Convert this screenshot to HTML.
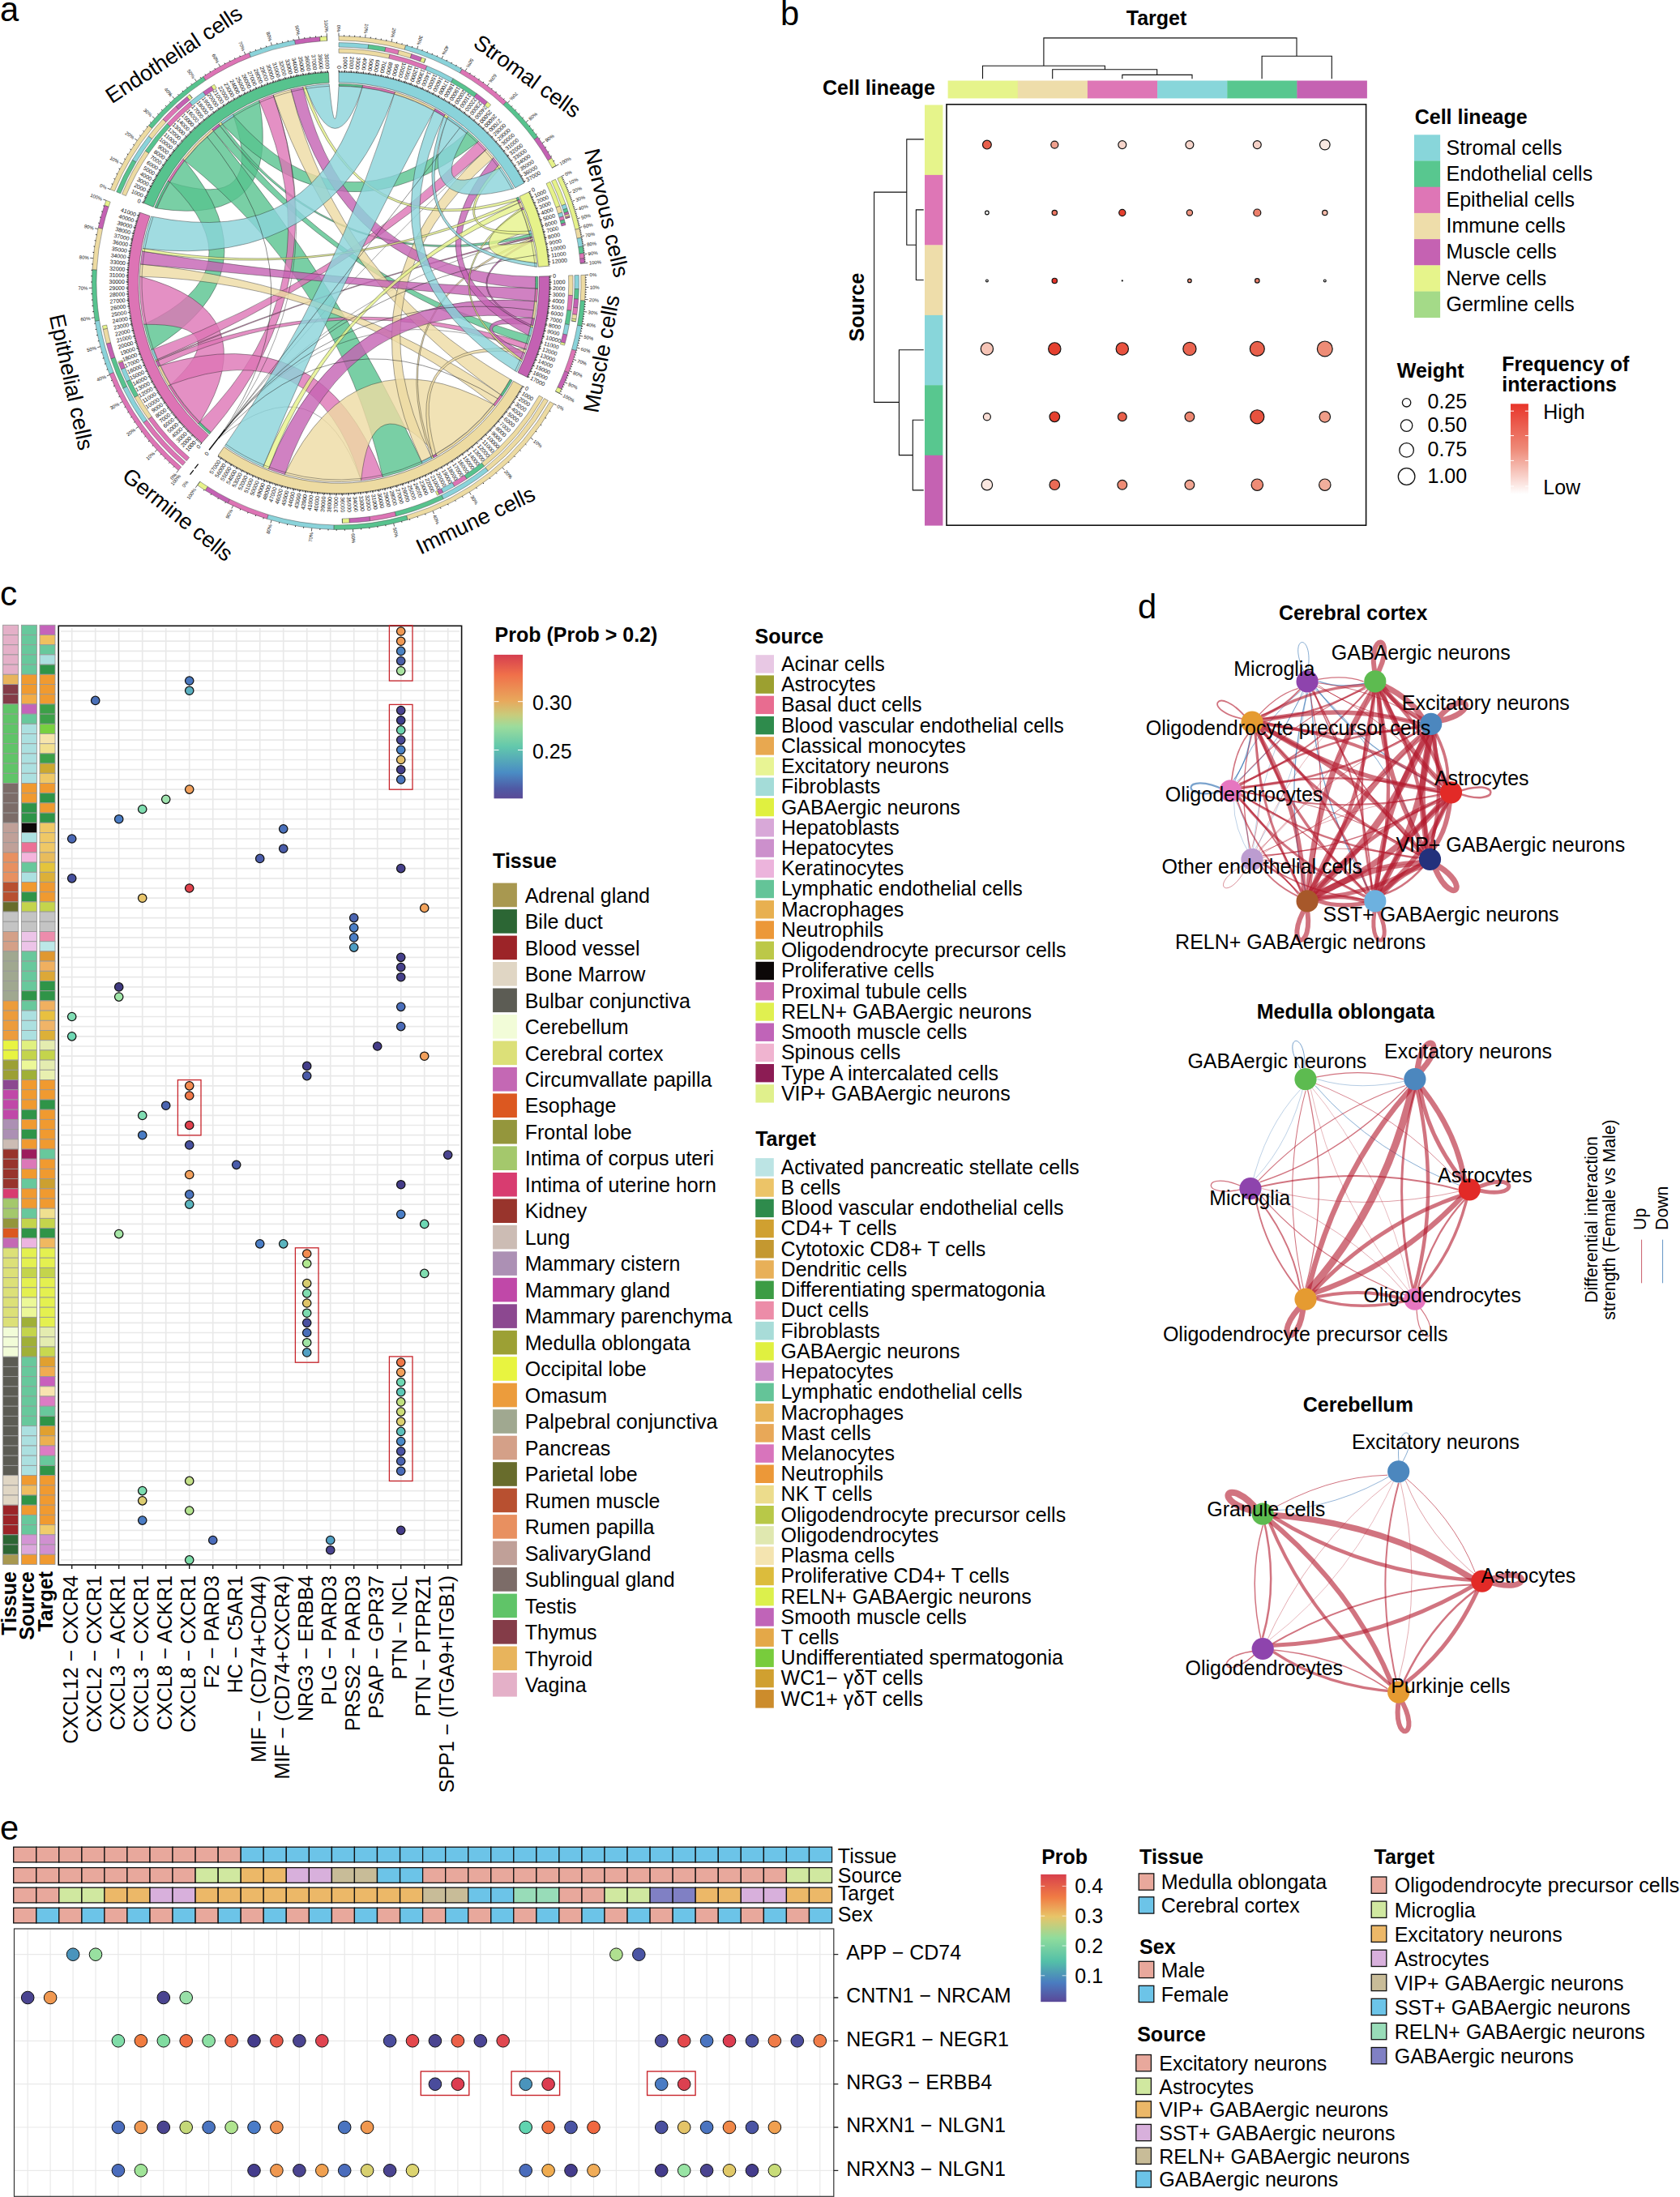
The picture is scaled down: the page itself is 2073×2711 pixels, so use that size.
<!DOCTYPE html>
<html><head><meta charset="utf-8"><title>Figure</title>
<style>html,body{margin:0;padding:0;background:#fff}svg{display:block;font-family:"Liberation Sans",sans-serif;font-size:25px}</style>
</head><body>
<svg width="2073" height="2711" viewBox="0 0 2073 2711">
<rect width="2073" height="2711" fill="#fff"/>
<g id="a">
<g fill-opacity="0.8" stroke="#222" stroke-width="0.55" stroke-opacity="0.75"><path d="M193.5 257.1A242.6 242.6 0 0 1 209.6 224.8Q329.9 262.9 287.4 141A245.6 245.6 0 0 1 319.8 123.9Q348.7 281.3 193.5 257.1Z" fill="#57C38E"/><path d="M209.6 224.8A242.6 242.6 0 0 1 227.9 198.3Q343.5 336.7 186.7 431.7A245.6 245.6 0 0 1 177.8 400.3Q320.3 332.9 209.6 224.8Z" fill="#57C38E"/><path d="M227.9 198.3A242.6 242.6 0 0 1 263.6 161.8Q418 349 521.2 571.9A245.6 245.6 0 0 1 472.3 588.5Q418 349 227.9 198.3Z" fill="#57C38E"/><path d="M263.6 161.8A242.6 242.6 0 0 1 271.7 155.5Q418 349 654.7 414.5A245.6 245.6 0 0 1 651.7 424.5Q418 349 263.6 161.8Z" fill="#57C38E"/><path d="M271.7 155.5A242.6 242.6 0 0 1 274.5 153.4Q418 349 656 288.3A245.6 245.6 0 0 1 656.8 291.8Q418 349 271.7 155.5Z" fill="#57C38E"/><path d="M274.5 153.4A242.6 242.6 0 0 1 289 143.5Q421.9 296.1 577.5 162.3A245.6 245.6 0 0 1 590.6 174.3Q420.9 308.8 274.5 153.4Z" fill="#57C38E"/><path d="M260.4 533.4A242.6 242.6 0 0 1 246.7 520.8Q418 349 319.8 123.9A245.6 245.6 0 0 1 337.2 117.1Q418 349 260.4 533.4Z" fill="#DD74B5"/><path d="M246.7 520.8A242.6 242.6 0 0 1 210.5 474.7Q292.1 398.9 177.8 400.3A245.6 245.6 0 0 1 172.5 341.1Q331.9 383.1 246.7 520.8Z" fill="#DD74B5"/><path d="M210.5 474.7A242.6 242.6 0 0 1 198 451.1Q398.2 389.4 472.3 588.5A245.6 245.6 0 0 1 445.7 593Q389.6 406.8 210.5 474.7Z" fill="#DD74B5"/><path d="M198 451.1A242.6 242.6 0 0 1 195.1 444.7Q418 349 651.7 424.5A245.6 245.6 0 0 1 649.4 431.2Q418 349 198 451.1Z" fill="#DD74B5"/><path d="M195.1 444.7A242.6 242.6 0 0 1 194.5 443.4Q418 349 656.8 291.8A245.6 245.6 0 0 1 657.2 293.2Q418 349 195.1 444.7Z" fill="#DD74B5"/><path d="M194.5 443.4A242.6 242.6 0 0 1 189.6 430.7Q418 349 590.6 174.3A245.6 245.6 0 0 1 600.2 184.3Q418 349 194.5 443.4Z" fill="#DD74B5"/><path d="M269.6 540.9Q418 349 337.3 117" fill="none" stroke="#111" stroke-width="0.5"/><path d="M269.6 540.9Q391.9 442.3 445.7 593" fill="none" stroke="#111" stroke-width="0.5"/><path d="M269.5 540.9Q418 349 649.4 431.2" fill="none" stroke="#111" stroke-width="0.5"/><path d="M269.5 540.8Q418 349 657.2 293.2" fill="none" stroke="#111" stroke-width="0.5"/><path d="M269.4 540.8Q418 349 600.2 184.3" fill="none" stroke="#111" stroke-width="0.5"/><path d="M629.5 467.9A242.6 242.6 0 0 1 617.6 487Q418 349 337.3 117A245.6 245.6 0 0 1 359.1 110.6Q418 349 629.5 467.9Z" fill="#EDDBA2"/><path d="M617.6 487A242.6 242.6 0 0 1 608.7 499Q418 349 172.5 341.1A245.6 245.6 0 0 1 173.5 326Q418 349 617.6 487Z" fill="#EDDBA2"/><path d="M608.7 499A242.6 242.6 0 0 1 537.8 560Q458 472 445.6 593A245.6 245.6 0 0 1 351.3 585.4Q436.8 406.9 608.7 499Z" fill="#EDDBA2"/><path d="M537.8 560A242.6 242.6 0 0 1 533.8 562.2Q494.3 414.2 649.4 431.3A245.6 245.6 0 0 1 647.8 435.7Q496.8 416.4 537.8 560Z" fill="#EDDBA2"/><path d="M533.8 562.2A242.6 242.6 0 0 1 531.9 563.2Q462.8 369.4 657.2 293.2A245.6 245.6 0 0 1 657.7 295.3Q464.2 370 533.8 562.2Z" fill="#EDDBA2"/><path d="M531.9 563.2A242.6 242.6 0 0 1 520 569.1Q418 349 600.2 184.4A245.6 245.6 0 0 1 609 194.6Q427.3 350.9 531.9 563.2Z" fill="#EDDBA2"/><path d="M660.5 341.3A242.6 242.6 0 0 1 660.5 356Q419.5 347.1 359.1 110.6A245.6 245.6 0 0 1 373.7 107.4Q426.2 338.8 660.5 341.3Z" fill="#C461B3"/><path d="M660.5 356A242.6 242.6 0 0 1 659.5 371.8Q418 349 173.5 326A245.6 245.6 0 0 1 175.5 310.1Q418 349 660.5 356Z" fill="#C461B3"/><path d="M659.5 371.8A242.6 242.6 0 0 1 656.7 392.4Q427.5 364.2 351.3 585.4A245.6 245.6 0 0 1 331.3 578.8Q419.5 351.3 659.5 371.8Z" fill="#C461B3"/><path d="M656.7 392.4A242.6 242.6 0 0 1 655 401Q563.9 392.3 647.8 435.7A245.6 245.6 0 0 1 644.5 443.9Q557.8 390.5 656.7 392.4Z" fill="#C461B3"/><path d="M655 401A242.6 242.6 0 0 1 654.5 403.3Q543.6 349.3 657.7 295.3A245.6 245.6 0 0 1 658.2 297.6Q545.3 349.3 655 401Z" fill="#C461B3"/><path d="M654.5 403.3A242.6 242.6 0 0 1 651.8 413.7Q497.4 332.5 609 194.6A245.6 245.6 0 0 1 615.7 203.3Q505.1 330.9 654.5 403.3Z" fill="#C461B3"/><path d="M636.9 244.4A242.6 242.6 0 0 1 638.3 247.4Q440.3 306 373.7 107.4A245.6 245.6 0 0 1 377.1 106.8Q441.4 303.8 636.9 244.4Z" fill="#E6F28A"/><path d="M638.3 247.4A242.6 242.6 0 0 1 639.8 250.7Q418 349 175.5 310.1A245.6 245.6 0 0 1 176.1 306.5Q418 349 638.3 247.4Z" fill="#E6F28A"/><path d="M639.8 250.7A242.6 242.6 0 0 1 642.6 257.2Q418 349 331.3 578.8A245.6 245.6 0 0 1 324.6 576.2Q418 349 639.8 250.7Z" fill="#E6F28A"/><path d="M642.6 257.2A242.6 242.6 0 0 1 643.4 259.3Q514.5 349.9 644.5 443.9A245.6 245.6 0 0 1 643.6 446.1Q512.8 349.9 642.6 257.2Z" fill="#E6F28A"/><path d="M643.4 259.3A242.6 242.6 0 0 1 652 285.1Q573.5 311.2 658.2 297.6A245.6 245.6 0 0 1 662.4 324.8Q554.3 315.8 643.4 259.3Z" fill="#E6F28A"/><path d="M652 285.1A242.6 242.6 0 0 1 653.1 289.1Q536.3 292.9 615.7 203.3A245.6 245.6 0 0 1 618.1 206.6Q539 291.7 652 285.1Z" fill="#E6F28A"/><path d="M418 106.4A242.6 242.6 0 0 1 446.9 108.1Q414.6 209.4 377.1 106.8A245.6 245.6 0 0 1 406.2 103.7Q414.1 188.3 418 106.4Z" fill="#8AD3DA"/><path d="M446.9 108.1A242.6 242.6 0 0 1 486.4 116.2Q409.3 335 176.1 306.5A245.6 245.6 0 0 1 186.5 267Q393.8 310.1 446.9 108.1Z" fill="#8AD3DA"/><path d="M486.4 116.2A242.6 242.6 0 0 1 535.6 136.8Q418 349 324.6 576.2A245.6 245.6 0 0 1 277.3 550.3Q418 349 486.4 116.2Z" fill="#8AD3DA"/><path d="M535.6 136.8A242.6 242.6 0 0 1 547.6 143.9Q456.4 337.1 643.6 446.1A245.6 245.6 0 0 1 637.6 459Q446.6 340.1 535.6 136.8Z" fill="#8AD3DA"/><path d="M547.6 143.9A242.6 242.6 0 0 1 551.5 146.4Q492 304.3 662.4 324.8A245.6 245.6 0 0 1 662.8 329.4Q489.2 306 547.6 143.9Z" fill="#8AD3DA"/><path d="M551.5 146.4A242.6 242.6 0 0 1 575.6 164.5Q523.7 252.3 618.1 206.6A245.6 245.6 0 0 1 634.2 232.6Q507.5 267.1 551.5 146.4Z" fill="#8AD3DA"/></g>
<g fill="none" stroke="#222" stroke-width="0.5"><path d="M269.5 540.9Q407.5 349.4 253.7 166.5"/><path d="M269.5 540.9Q418 349 569.2 155.5"/><path d="M269.5 540.9Q418 349 661.2 314.8"/><path d="M269.5 540.9Q418 349 661.2 383.2"/><path d="M269.5 540.9Q421.3 372.4 616.7 493.4"/></g>
<g stroke="#222" stroke-width="0.45"><path d="M553.1 143.9A245.6 245.6 0 0 1 577.5 162.3L575.8 164.2A243 243 0 0 0 551.7 146.1Z" fill="#8AD3DA"/><path d="M549.2 141.4A245.6 245.6 0 0 1 553.1 143.9L551.7 146.1A243 243 0 0 0 547.8 143.6Z" fill="#E6F28A"/><path d="M537 134.2A245.6 245.6 0 0 1 549.2 141.4L547.8 143.6A243 243 0 0 0 535.7 136.4Z" fill="#C461B3"/><path d="M487.3 113.4A245.6 245.6 0 0 1 537 134.2L535.7 136.4A243 243 0 0 0 486.5 115.9Z" fill="#EDDBA2"/><path d="M447.3 105.2A245.6 245.6 0 0 1 487.3 113.4L486.5 115.9A243 243 0 0 0 447 107.7Z" fill="#DD74B5"/><path d="M418 103.4A245.6 245.6 0 0 1 447.3 105.2L447 107.7A243 243 0 0 0 418 106Z" fill="#57C38E"/><path d="M654.9 284.3A245.6 245.6 0 0 1 656 288.3L653.5 289A243 243 0 0 0 652.4 285Z" fill="#8AD3DA"/><path d="M646.2 258.2A245.6 245.6 0 0 1 654.9 284.3L652.4 285A243 243 0 0 0 643.8 259.2Z" fill="#E6F28A"/><path d="M645.3 256.1A245.6 245.6 0 0 1 646.2 258.2L643.8 259.2A243 243 0 0 0 642.9 257Z" fill="#C461B3"/><path d="M642.6 249.5A245.6 245.6 0 0 1 645.3 256.1L642.9 257A243 243 0 0 0 640.2 250.6Z" fill="#EDDBA2"/><path d="M641 246.2A245.6 245.6 0 0 1 642.6 249.5L640.2 250.6A243 243 0 0 0 638.7 247.2Z" fill="#DD74B5"/><path d="M639.6 243.1A245.6 245.6 0 0 1 641 246.2L638.7 247.2A243 243 0 0 0 637.2 244.2Z" fill="#57C38E"/><path d="M657.4 403.9A245.6 245.6 0 0 1 654.7 414.5L652.2 413.9A243 243 0 0 0 654.8 403.4Z" fill="#8AD3DA"/><path d="M657.9 401.7A245.6 245.6 0 0 1 657.4 403.9L654.8 403.4A243 243 0 0 0 655.4 401.1Z" fill="#E6F28A"/><path d="M659.6 392.9A245.6 245.6 0 0 1 657.9 401.7L655.4 401.1A243 243 0 0 0 657.1 392.5Z" fill="#C461B3"/><path d="M662.5 372A245.6 245.6 0 0 1 659.6 392.9L657.1 392.5A243 243 0 0 0 659.9 371.8Z" fill="#EDDBA2"/><path d="M663.5 356.1A245.6 245.6 0 0 1 662.5 372L659.9 371.8A243 243 0 0 0 660.9 356Z" fill="#DD74B5"/><path d="M663.5 341.2A245.6 245.6 0 0 1 663.5 356.1L660.9 356A243 243 0 0 0 660.9 341.2Z" fill="#57C38E"/><path d="M533.3 565.8A245.6 245.6 0 0 1 521.2 571.9L520.1 569.5A243 243 0 0 0 532.1 563.6Z" fill="#8AD3DA"/><path d="M535.2 564.8A245.6 245.6 0 0 1 533.3 565.8L532.1 563.6A243 243 0 0 0 533.9 562.6Z" fill="#E6F28A"/><path d="M539.3 562.6A245.6 245.6 0 0 1 535.2 564.8L533.9 562.6A243 243 0 0 0 538 560.3Z" fill="#C461B3"/><path d="M611 500.8A245.6 245.6 0 0 1 539.3 562.6L538 560.3A243 243 0 0 0 609 499.2Z" fill="#EDDBA2"/><path d="M620 488.7A245.6 245.6 0 0 1 611 500.8L609 499.2A243 243 0 0 0 617.9 487.2Z" fill="#DD74B5"/><path d="M632.1 469.4A245.6 245.6 0 0 1 620 488.7L617.9 487.2A243 243 0 0 0 629.8 468.1Z" fill="#57C38E"/><path d="M191.8 444.6A245.6 245.6 0 0 1 186.7 431.7L189.2 430.8A243 243 0 0 0 194.2 443.6Z" fill="#8AD3DA"/><path d="M192.3 445.9A245.6 245.6 0 0 1 191.8 444.6L194.2 443.6A243 243 0 0 0 194.7 444.9Z" fill="#E6F28A"/><path d="M195.2 452.4A245.6 245.6 0 0 1 192.3 445.9L194.7 444.9A243 243 0 0 0 197.6 451.3Z" fill="#C461B3"/><path d="M207.9 476.2A245.6 245.6 0 0 1 195.2 452.4L197.6 451.3A243 243 0 0 0 210.1 474.9Z" fill="#EDDBA2"/><path d="M244.6 523A245.6 245.6 0 0 1 207.9 476.2L210.1 474.9A243 243 0 0 0 246.5 521.1Z" fill="#DD74B5"/><path d="M258.4 535.7A245.6 245.6 0 0 1 244.6 523L246.5 521.1A243 243 0 0 0 260.1 533.7Z" fill="#57C38E"/><path d="M272.7 151A245.6 245.6 0 0 1 287.4 141L288.8 143.2A243 243 0 0 0 274.3 153.1Z" fill="#8AD3DA"/><path d="M269.9 153.1A245.6 245.6 0 0 1 272.7 151L274.3 153.1A243 243 0 0 0 271.4 155.2Z" fill="#E6F28A"/><path d="M261.7 159.5A245.6 245.6 0 0 1 269.9 153.1L271.4 155.2A243 243 0 0 0 263.4 161.5Z" fill="#C461B3"/><path d="M225.6 196.4A245.6 245.6 0 0 1 261.7 159.5L263.4 161.5A243 243 0 0 0 227.6 198Z" fill="#EDDBA2"/><path d="M207 223.3A245.6 245.6 0 0 1 225.6 196.4L227.6 198A243 243 0 0 0 209.3 224.6Z" fill="#DD74B5"/><path d="M190.7 256A245.6 245.6 0 0 1 207 223.3L209.3 224.6A243 243 0 0 0 193.1 257Z" fill="#57C38E"/></g>
<path d="M616 208.1A243 243 0 0 1 632 233.8M659.8 325A243 243 0 0 1 660.2 329.6M641.2 445.1A243 243 0 0 1 635.3 457.8M325.6 573.8A243 243 0 0 1 278.8 548.2M178.7 306.9A243 243 0 0 1 188.9 267.9M377.5 109.4A243 243 0 0 1 406.3 106.3M613.6 204.8A243 243 0 0 1 616 208.1M655.6 298.1A243 243 0 0 1 659.8 325M642.1 442.9A243 243 0 0 1 641.2 445.1M332.2 576.3A243 243 0 0 1 325.6 573.8M178.1 310.5A243 243 0 0 1 178.7 306.9M374.2 110A243 243 0 0 1 377.5 109.4M607 196.3A243 243 0 0 1 613.6 204.8M655.1 295.9A243 243 0 0 1 655.6 298.1M645.4 434.8A243 243 0 0 1 642.1 442.9M352 582.9A243 243 0 0 1 332.2 576.3M176.1 326.2A243 243 0 0 1 178.1 310.5M359.7 113.1A243 243 0 0 1 374.2 110M598.3 186.1A243 243 0 0 1 607 196.3M654.6 293.8A243 243 0 0 1 655.1 295.9M647 430.4A243 243 0 0 1 645.4 434.8M445.3 590.5A243 243 0 0 1 352 582.9M175.1 341.2A243 243 0 0 1 176.1 326.2M338.2 119.5A243 243 0 0 1 359.7 113.1M588.8 176.1A243 243 0 0 1 598.3 186M654.3 292.4A243 243 0 0 1 654.6 293.8M649.2 423.7A243 243 0 0 1 647 430.3M471.8 586A243 243 0 0 1 445.4 590.4M180.4 399.7A243 243 0 0 1 175.1 341.2M320.8 126.3A243 243 0 0 1 338.1 119.5M575.8 164.2A243 243 0 0 1 588.8 176.1M653.5 289A243 243 0 0 1 654.3 292.4M652.2 413.9A243 243 0 0 1 649.2 423.7M520.1 569.5A243 243 0 0 1 471.8 586M189.2 430.8A243 243 0 0 1 180.4 399.7M288.8 143.2A243 243 0 0 1 320.8 126.3" fill="none" stroke="#222" stroke-width="0.5" stroke-opacity="0.8"/>
<g stroke="#333" stroke-width="0.5"><path d="M418 89A260 260 0 0 1 646.9 225.7L635.7 231.8A247.2 247.2 0 0 0 418 101.8Z" fill="#8AD3DA"/><path d="M652.6 236.9A260 260 0 0 1 677.2 328.2L664.4 329.3A247.2 247.2 0 0 0 641 242.4Z" fill="#E6F28A"/><path d="M677.9 340.7A260 260 0 0 1 650.5 465.4L639 459.7A247.2 247.2 0 0 0 665.1 341.1Z" fill="#C461B3"/><path d="M644.6 476.4A260 260 0 0 1 269.1 562.1L276.4 551.6A247.2 247.2 0 0 0 633.5 470.2Z" fill="#EDDBA2"/><path d="M277.5 530.1L258 555.2" stroke="#111" stroke-width="1.5"/><path d="M249 546.6A260 260 0 0 1 172.9 262.2L185 266.5A247.2 247.2 0 0 0 257.4 536.9Z" fill="#DD74B5"/><path d="M177.4 250.5A260 260 0 0 1 405.5 89.3L406.1 102.1A247.2 247.2 0 0 0 189.2 255.4Z" fill="#57C38E"/></g>
<g fill="none" stroke="#111" stroke-width="1.7"><path d="M418 88.3A260.7 260.7 0 0 1 647.5 225.4" stroke-dasharray="0.7 0.81"/><path d="M653.2 236.6A260.7 260.7 0 0 1 677.9 328.2" stroke-dasharray="0.7 0.81"/><path d="M678.6 340.7A260.7 260.7 0 0 1 651.1 465.7" stroke-dasharray="0.7 0.81"/><path d="M645.2 476.8A260.7 260.7 0 0 1 268.7 562.7" stroke-dasharray="0.7 0.81"/><path d="M248.6 547.2A260.7 260.7 0 0 1 172.3 262" stroke-dasharray="0.7 0.81"/><path d="M176.7 250.3A260.7 260.7 0 0 1 405.5 88.6" stroke-dasharray="0.7 0.81"/></g>
<path d="M418 89L418 86.2M425.5 89.1L425.6 86.3M433 89.4L433.2 86.6M440.5 90L440.8 87.2M448 90.7L448.4 88M455.5 91.7L455.9 88.9M462.9 92.9L463.4 90.2M470.3 94.3L470.9 91.6M477.7 95.9L478.3 93.2M485 97.8L485.7 95.1M492.2 99.8L493 97.1M499.4 102.1L500.2 99.4M506.5 104.5L507.4 101.9M513.5 107.2L514.5 104.6M520.5 110L521.6 107.5M527.3 113.1L528.5 110.6M534.1 116.4L535.4 113.9M540.8 119.8L542.1 117.4M547.4 123.5L548.8 121.1M553.9 127.3L555.3 124.9M560.2 131.3L561.7 129M566.5 135.5L568.1 133.3M572.6 139.9L574.2 137.7M578.6 144.5L580.3 142.3M584.4 149.2L586.2 147.1M590.1 154.1L592 152M595.7 159.2L597.6 157.1M601.1 164.4L603.1 162.4M606.4 169.8L608.4 167.9M611.5 175.3L613.6 173.4M616.4 181L618.6 179.2M621.2 186.8L623.4 185M625.8 192.7L628 191.1M630.2 198.8L632.5 197.2M634.5 205L636.8 203.5M638.6 211.3L640.9 209.9M642.5 217.8L644.9 216.4M646.2 224.3L648.6 223M652.6 236.9L655.1 235.7M655.7 243.7L658.3 242.6M658.7 250.6L661.3 249.6M661.4 257.6L664 256.6M664 264.7L666.6 263.8M666.3 271.9L669 271M668.4 279.1L671.1 278.3M670.3 286.3L673.1 285.7M672 293.7L674.8 293.1M673.5 301L676.3 300.5M674.8 308.5L677.6 308M675.9 315.9L678.7 315.5M676.7 323.4L679.5 323.1M677.9 340.7L680.7 340.6M678 348.2L680.8 348.2M677.9 355.7L680.7 355.8M677.6 363.3L680.4 363.4M677.1 370.8L679.9 371M676.3 378.3L679.1 378.6M675.4 385.7L678.2 386.1M674.2 393.1L677 393.6M672.8 400.5L675.6 401.1M671.2 407.9L674 408.5M669.4 415.2L672.1 415.9M667.4 422.4L670.1 423.2M665.2 429.6L667.8 430.5M662.7 436.7L665.4 437.7M660.1 443.8L662.7 444.8M657.3 450.8L659.8 451.9M654.2 457.6L656.8 458.8M651 464.4L653.5 465.7M644.6 476.4L647.1 477.8M640.8 482.9L643.2 484.4M636.9 489.3L639.2 490.9M632.7 495.6L635 497.2M628.4 501.8L630.7 503.4M623.9 507.8L626.1 509.5M619.2 513.7L621.4 515.5M614.3 519.4L616.5 521.3M609.3 525L611.4 526.9M604.2 530.5L606.2 532.5M598.8 535.8L600.8 537.8M593.4 541L595.2 543M587.7 546L589.6 548.1M582 550.8L583.7 553M576 555.4L577.7 557.7M570 559.9L571.6 562.2M563.8 564.2L565.4 566.6M557.6 568.4L559.1 570.7M551.1 572.3L552.6 574.7M544.6 576.1L546 578.5M538 579.6L539.3 582.1M531.3 583L532.5 585.5M524.5 586.2L525.6 588.8M517.6 589.2L518.6 591.8M510.6 592L511.6 594.6M503.5 594.5L504.4 597.2M496.4 596.9L497.2 599.6M489.1 599.1L489.9 601.8M481.9 601L482.6 603.7M474.6 602.8L475.2 605.5M467.2 604.3L467.7 607.1M459.8 605.6L460.2 608.4M452.3 606.7L452.7 609.5M444.9 607.6L445.2 610.4M437.4 608.3L437.6 611.1M429.9 608.7L430 611.5M422.4 609L422.4 611.8M414.8 609L414.8 611.8M407.3 608.8L407.2 611.6M399.8 608.4L399.6 611.2M392.3 607.7L392 610.5M384.8 606.9L384.5 609.7M377.4 605.8L376.9 608.6M370 604.5L369.4 607.3M362.6 603L362 605.8M355.3 601.3L354.6 604M348 599.4L347.2 602.1M340.8 597.3L339.9 599.9M333.6 594.9L332.7 597.6M326.5 592.4L325.6 595M319.5 589.6L318.5 592.2M312.6 586.7L311.5 589.2M305.8 583.5L304.6 586.1M299 580.2L297.8 582.7M292.4 576.7L291.1 579.1M285.9 572.9L284.4 575.3M279.4 569L278 571.4M273.1 564.9L271.6 567.2M249 546.6L247.2 548.8M243.4 541.7L241.5 543.7M237.9 536.5L236 538.5M232.6 531.2L230.6 533.2M227.4 525.8L225.3 527.7M222.3 520.2L220.2 522M217.4 514.5L215.3 516.2M212.7 508.6L210.5 510.3M208.2 502.6L206 504.2M203.9 496.5L201.6 498M199.7 490.2L197.3 491.7M195.7 483.8L193.3 485.3M191.9 477.3L189.4 478.7M188.3 470.7L185.8 472M184.8 464L182.3 465.3M181.6 457.2L179.1 458.4M178.6 450.4L176 451.4M175.7 443.4L173.1 444.4M173.1 436.3L170.5 437.3M170.7 429.2L168 430.1M168.5 422L165.8 422.8M166.5 414.8L163.7 415.5M164.7 407.5L161.9 408.1M163.1 400.1L160.3 400.7M161.7 392.7L158.9 393.2M160.5 385.3L157.8 385.7M159.6 377.8L156.8 378.1M158.9 370.3L156.1 370.6M158.4 362.8L155.6 363M158.1 355.3L155.3 355.4M158 347.8L155.2 347.8M158.1 340.3L155.3 340.2M158.5 332.7L155.7 332.6M159.1 325.2L156.3 325M159.9 317.8L157.1 317.4M160.9 310.3L158.1 309.9M162.1 302.9L159.4 302.4M163.6 295.5L160.8 294.9M165.2 288.2L162.5 287.5M167.1 280.9L164.4 280.1M169.2 273.6L166.5 272.8M171.4 266.5L168.8 265.6M177.4 250.5L174.8 249.5M180.3 243.6L177.8 242.5M183.5 236.8L180.9 235.6M186.8 230.1L184.3 228.8M190.3 223.4L187.9 222.1M194.1 216.9L191.7 215.5M198 210.5L195.6 209M202.1 204.1L199.8 202.6M206.4 198L204.1 196.3M210.8 191.9L208.6 190.2M215.5 186L213.3 184.2M220.3 180.2L218.1 178.4M225.2 174.5L223.2 172.6M230.4 169L228.3 167.1M235.6 163.7L233.7 161.7M241.1 158.5L239.2 156.4M246.7 153.4L244.8 151.3M252.4 148.6L250.6 146.4M258.3 143.8L256.6 141.6M264.3 139.3L262.6 137.1M270.4 135L268.8 132.6M276.7 130.8L275.1 128.4M283 126.8L281.6 124.4M289.5 123L288.1 120.5M296.1 119.3L294.8 116.9M302.8 115.9L301.6 113.4M309.6 112.7L308.4 110.1M316.5 109.6L315.4 107.1M323.5 106.8L322.4 104.2M330.5 104.2L329.6 101.5M337.6 101.7L336.8 99.1M344.8 99.5L344 96.8M352.1 97.5L351.4 94.8M359.4 95.7L358.7 93M366.7 94.1L366.2 91.4M374.1 92.7L373.6 90M381.5 91.6L381.2 88.8M389 90.6L388.7 87.8M396.5 89.9L396.3 87.1M404 89.4L403.9 86.6" fill="none" stroke="#111" stroke-width="0.7"/>
<g font-size="6.9" fill="#111"><text transform="translate(418 84.8) rotate(90)" y="2.2" text-anchor="end">0</text><text transform="translate(425.6 84.9) rotate(91.7)" y="2.2" text-anchor="end">1000</text><text transform="translate(433.3 85.2) rotate(93.3)" y="2.2" text-anchor="end">2000</text><text transform="translate(440.9 85.8) rotate(95)" y="2.2" text-anchor="end">3000</text><text transform="translate(448.5 86.6) rotate(96.6)" y="2.2" text-anchor="end">4000</text><text transform="translate(456.1 87.6) rotate(98.3)" y="2.2" text-anchor="end">5000</text><text transform="translate(463.6 88.8) rotate(99.9)" y="2.2" text-anchor="end">6000</text><text transform="translate(471.2 90.2) rotate(101.6)" y="2.2" text-anchor="end">7000</text><text transform="translate(478.6 91.8) rotate(103.3)" y="2.2" text-anchor="end">8000</text><text transform="translate(486 93.7) rotate(104.9)" y="2.2" text-anchor="end">9000</text><text transform="translate(493.4 95.8) rotate(106.6)" y="2.2" text-anchor="end">10000</text><text transform="translate(500.7 98.1) rotate(108.2)" y="2.2" text-anchor="end">11000</text><text transform="translate(507.9 100.6) rotate(109.9)" y="2.2" text-anchor="end">12000</text><text transform="translate(515.1 103.3) rotate(111.6)" y="2.2" text-anchor="end">13000</text><text transform="translate(522.1 106.2) rotate(113.2)" y="2.2" text-anchor="end">14000</text><text transform="translate(529.1 109.3) rotate(114.9)" y="2.2" text-anchor="end">15000</text><text transform="translate(536 112.6) rotate(116.5)" y="2.2" text-anchor="end">16000</text><text transform="translate(542.8 116.1) rotate(118.2)" y="2.2" text-anchor="end">17000</text><text transform="translate(549.5 119.8) rotate(119.8)" y="2.2" text-anchor="end">18000</text><text transform="translate(556.1 123.7) rotate(121.5)" y="2.2" text-anchor="end">19000</text><text transform="translate(562.5 127.8) rotate(123.2)" y="2.2" text-anchor="end">20000</text><text transform="translate(568.9 132.1) rotate(124.8)" y="2.2" text-anchor="end">21000</text><text transform="translate(575.1 136.6) rotate(126.5)" y="2.2" text-anchor="end">22000</text><text transform="translate(581.1 141.2) rotate(128.1)" y="2.2" text-anchor="end">23000</text><text transform="translate(587.1 146) rotate(129.8)" y="2.2" text-anchor="end">24000</text><text transform="translate(592.9 151) rotate(131.5)" y="2.2" text-anchor="end">25000</text><text transform="translate(598.6 156.1) rotate(133.1)" y="2.2" text-anchor="end">26000</text><text transform="translate(604.1 161.4) rotate(134.8)" y="2.2" text-anchor="end">27000</text><text transform="translate(609.4 166.9) rotate(-43.6)" y="2.2">28000</text><text transform="translate(614.6 172.5) rotate(-41.9)" y="2.2">29000</text><text transform="translate(619.6 178.3) rotate(-40.3)" y="2.2">30000</text><text transform="translate(624.5 184.2) rotate(-38.6)" y="2.2">31000</text><text transform="translate(629.2 190.2) rotate(-36.9)" y="2.2">32000</text><text transform="translate(633.7 196.4) rotate(-35.3)" y="2.2">33000</text><text transform="translate(638 202.7) rotate(-33.6)" y="2.2">34000</text><text transform="translate(642.1 209.1) rotate(-32)" y="2.2">35000</text><text transform="translate(646.1 215.7) rotate(-30.3)" y="2.2">36000</text><text transform="translate(649.8 222.3) rotate(-28.7)" y="2.2">37000</text><text transform="translate(656.4 235) rotate(-25.6)" y="2.2">0</text><text transform="translate(659.6 242) rotate(-23.9)" y="2.2">1000</text><text transform="translate(662.6 249) rotate(-22.2)" y="2.2">2000</text><text transform="translate(665.3 256.1) rotate(-20.6)" y="2.2">3000</text><text transform="translate(667.9 263.3) rotate(-18.9)" y="2.2">4000</text><text transform="translate(670.3 270.6) rotate(-17.3)" y="2.2">5000</text><text transform="translate(672.5 277.9) rotate(-15.6)" y="2.2">6000</text><text transform="translate(674.4 285.3) rotate(-13.9)" y="2.2">7000</text><text transform="translate(676.1 292.8) rotate(-12.3)" y="2.2">8000</text><text transform="translate(677.7 300.3) rotate(-10.6)" y="2.2">9000</text><text transform="translate(679 307.8) rotate(-9)" y="2.2">10000</text><text transform="translate(680.1 315.4) rotate(-7.3)" y="2.2">11000</text><text transform="translate(680.9 323) rotate(-5.7)" y="2.2">12000</text><text transform="translate(682.1 340.6) rotate(-1.8)" y="2.2">0</text><text transform="translate(682.2 348.2) rotate(-0.2)" y="2.2">1000</text><text transform="translate(682.1 355.9) rotate(1.5)" y="2.2">2000</text><text transform="translate(681.8 363.5) rotate(3.1)" y="2.2">3000</text><text transform="translate(681.3 371.1) rotate(4.8)" y="2.2">4000</text><text transform="translate(680.5 378.7) rotate(6.5)" y="2.2">5000</text><text transform="translate(679.6 386.3) rotate(8.1)" y="2.2">6000</text><text transform="translate(678.4 393.9) rotate(9.8)" y="2.2">7000</text><text transform="translate(677 401.4) rotate(11.4)" y="2.2">8000</text><text transform="translate(675.3 408.8) rotate(13.1)" y="2.2">9000</text><text transform="translate(673.5 416.3) rotate(14.8)" y="2.2">10000</text><text transform="translate(671.4 423.6) rotate(16.4)" y="2.2">11000</text><text transform="translate(669.2 430.9) rotate(18.1)" y="2.2">12000</text><text transform="translate(666.7 438.2) rotate(19.7)" y="2.2">13000</text><text transform="translate(664 445.3) rotate(21.4)" y="2.2">14000</text><text transform="translate(661.1 452.4) rotate(23)" y="2.2">15000</text><text transform="translate(658 459.4) rotate(24.7)" y="2.2">16000</text><text transform="translate(654.7 466.3) rotate(26.4)" y="2.2">17000</text><text transform="translate(648.3 478.5) rotate(29.4)" y="2.2">0</text><text transform="translate(644.4 485.1) rotate(31)" y="2.2">1000</text><text transform="translate(640.4 491.6) rotate(32.7)" y="2.2">2000</text><text transform="translate(636.2 498) rotate(34.3)" y="2.2">3000</text><text transform="translate(631.8 504.2) rotate(36)" y="2.2">4000</text><text transform="translate(627.2 510.4) rotate(37.6)" y="2.2">5000</text><text transform="translate(622.4 516.3) rotate(39.3)" y="2.2">6000</text><text transform="translate(617.5 522.2) rotate(41)" y="2.2">7000</text><text transform="translate(612.4 527.9) rotate(42.6)" y="2.2">8000</text><text transform="translate(607.2 533.4) rotate(44.3)" y="2.2">9000</text><text transform="translate(601.8 538.8) rotate(45.9)" y="2.2">10000</text><text transform="translate(596.2 544.1) rotate(47.6)" y="2.2">11000</text><text transform="translate(590.5 549.1) rotate(49.2)" y="2.2">12000</text><text transform="translate(584.6 554) rotate(50.9)" y="2.2">13000</text><text transform="translate(578.6 558.8) rotate(52.6)" y="2.2">14000</text><text transform="translate(572.5 563.3) rotate(54.2)" y="2.2">15000</text><text transform="translate(566.2 567.7) rotate(55.9)" y="2.2">16000</text><text transform="translate(559.8 571.9) rotate(57.5)" y="2.2">17000</text><text transform="translate(553.3 575.9) rotate(59.2)" y="2.2">18000</text><text transform="translate(546.7 579.7) rotate(60.9)" y="2.2">19000</text><text transform="translate(539.9 583.4) rotate(62.5)" y="2.2">20000</text><text transform="translate(533.1 586.8) rotate(64.2)" y="2.2">21000</text><text transform="translate(526.2 590) rotate(65.8)" y="2.2">22000</text><text transform="translate(519.2 593.1) rotate(67.5)" y="2.2">23000</text><text transform="translate(512.1 595.9) rotate(69.1)" y="2.2">24000</text><text transform="translate(504.9 598.5) rotate(70.8)" y="2.2">25000</text><text transform="translate(497.6 600.9) rotate(72.5)" y="2.2">26000</text><text transform="translate(490.3 603.1) rotate(74.1)" y="2.2">27000</text><text transform="translate(482.9 605.1) rotate(75.8)" y="2.2">28000</text><text transform="translate(475.5 606.9) rotate(77.4)" y="2.2">29000</text><text transform="translate(468 608.4) rotate(79.1)" y="2.2">30000</text><text transform="translate(460.5 609.8) rotate(80.8)" y="2.2">31000</text><text transform="translate(452.9 610.9) rotate(82.4)" y="2.2">32000</text><text transform="translate(445.3 611.8) rotate(84.1)" y="2.2">33000</text><text transform="translate(437.7 612.5) rotate(85.7)" y="2.2">34000</text><text transform="translate(430.1 612.9) rotate(87.4)" y="2.2">35000</text><text transform="translate(422.4 613.2) rotate(89)" y="2.2">36000</text><text transform="translate(414.8 613.2) rotate(-89.3)" y="2.2" text-anchor="end">37000</text><text transform="translate(407.1 613) rotate(-87.6)" y="2.2" text-anchor="end">38000</text><text transform="translate(399.5 612.6) rotate(-86)" y="2.2" text-anchor="end">39000</text><text transform="translate(391.9 611.9) rotate(-84.3)" y="2.2" text-anchor="end">40000</text><text transform="translate(384.3 611) rotate(-82.7)" y="2.2" text-anchor="end">41000</text><text transform="translate(376.7 610) rotate(-81)" y="2.2" text-anchor="end">42000</text><text transform="translate(369.2 608.7) rotate(-79.4)" y="2.2" text-anchor="end">43000</text><text transform="translate(361.7 607.1) rotate(-77.7)" y="2.2" text-anchor="end">44000</text><text transform="translate(354.2 605.4) rotate(-76)" y="2.2" text-anchor="end">45000</text><text transform="translate(346.9 603.4) rotate(-74.4)" y="2.2" text-anchor="end">46000</text><text transform="translate(339.5 601.3) rotate(-72.7)" y="2.2" text-anchor="end">47000</text><text transform="translate(332.3 598.9) rotate(-71.1)" y="2.2" text-anchor="end">48000</text><text transform="translate(325.1 596.3) rotate(-69.4)" y="2.2" text-anchor="end">49000</text><text transform="translate(317.9 593.5) rotate(-67.7)" y="2.2" text-anchor="end">50000</text><text transform="translate(310.9 590.5) rotate(-66.1)" y="2.2" text-anchor="end">51000</text><text transform="translate(304 587.3) rotate(-64.4)" y="2.2" text-anchor="end">52000</text><text transform="translate(297.1 583.9) rotate(-62.8)" y="2.2" text-anchor="end">53000</text><text transform="translate(290.4 580.3) rotate(-61.1)" y="2.2" text-anchor="end">54000</text><text transform="translate(283.7 576.5) rotate(-59.5)" y="2.2" text-anchor="end">55000</text><text transform="translate(277.2 572.6) rotate(-57.8)" y="2.2" text-anchor="end">56000</text><text transform="translate(270.8 568.4) rotate(-56.1)" y="2.2" text-anchor="end">57000</text><text transform="translate(256.3 558.3) rotate(-52.3)" y="2.2" text-anchor="end">0</text><text transform="translate(246.3 549.8) rotate(-49.5)" y="2.2" text-anchor="end">0</text><text transform="translate(240.6 544.8) rotate(-47.8)" y="2.2" text-anchor="end">1000</text><text transform="translate(235 539.6) rotate(-46.2)" y="2.2" text-anchor="end">2000</text><text transform="translate(229.6 534.2) rotate(-44.5)" y="2.2" text-anchor="end">3000</text><text transform="translate(224.3 528.6) rotate(-42.8)" y="2.2" text-anchor="end">4000</text><text transform="translate(219.2 523) rotate(-41.2)" y="2.2" text-anchor="end">5000</text><text transform="translate(214.2 517.1) rotate(-39.5)" y="2.2" text-anchor="end">6000</text><text transform="translate(209.4 511.2) rotate(-37.9)" y="2.2" text-anchor="end">7000</text><text transform="translate(204.8 505.1) rotate(-36.2)" y="2.2" text-anchor="end">8000</text><text transform="translate(200.4 498.8) rotate(-34.6)" y="2.2" text-anchor="end">9000</text><text transform="translate(196.2 492.5) rotate(-32.9)" y="2.2" text-anchor="end">10000</text><text transform="translate(192.1 486) rotate(-31.2)" y="2.2" text-anchor="end">11000</text><text transform="translate(188.2 479.4) rotate(-29.6)" y="2.2" text-anchor="end">12000</text><text transform="translate(184.5 472.7) rotate(-27.9)" y="2.2" text-anchor="end">13000</text><text transform="translate(181.1 465.9) rotate(-26.3)" y="2.2" text-anchor="end">14000</text><text transform="translate(177.8 459) rotate(-24.6)" y="2.2" text-anchor="end">15000</text><text transform="translate(174.7 452) rotate(-22.9)" y="2.2" text-anchor="end">16000</text><text transform="translate(171.8 444.9) rotate(-21.3)" y="2.2" text-anchor="end">17000</text><text transform="translate(169.2 437.7) rotate(-19.6)" y="2.2" text-anchor="end">18000</text><text transform="translate(166.7 430.5) rotate(-18)" y="2.2" text-anchor="end">19000</text><text transform="translate(164.4 423.2) rotate(-16.3)" y="2.2" text-anchor="end">20000</text><text transform="translate(162.4 415.8) rotate(-14.7)" y="2.2" text-anchor="end">21000</text><text transform="translate(160.6 408.4) rotate(-13)" y="2.2" text-anchor="end">22000</text><text transform="translate(159 400.9) rotate(-11.3)" y="2.2" text-anchor="end">23000</text><text transform="translate(157.6 393.4) rotate(-9.7)" y="2.2" text-anchor="end">24000</text><text transform="translate(156.4 385.9) rotate(-8)" y="2.2" text-anchor="end">25000</text><text transform="translate(155.4 378.3) rotate(-6.4)" y="2.2" text-anchor="end">26000</text><text transform="translate(154.7 370.7) rotate(-4.7)" y="2.2" text-anchor="end">27000</text><text transform="translate(154.2 363) rotate(-3)" y="2.2" text-anchor="end">28000</text><text transform="translate(153.9 355.4) rotate(-1.4)" y="2.2" text-anchor="end">29000</text><text transform="translate(153.8 347.8) rotate(0.3)" y="2.2" text-anchor="end">30000</text><text transform="translate(153.9 340.1) rotate(1.9)" y="2.2" text-anchor="end">31000</text><text transform="translate(154.3 332.5) rotate(3.6)" y="2.2" text-anchor="end">32000</text><text transform="translate(154.9 324.9) rotate(5.2)" y="2.2" text-anchor="end">33000</text><text transform="translate(155.7 317.3) rotate(6.9)" y="2.2" text-anchor="end">34000</text><text transform="translate(156.7 309.7) rotate(8.6)" y="2.2" text-anchor="end">35000</text><text transform="translate(158 302.1) rotate(10.2)" y="2.2" text-anchor="end">36000</text><text transform="translate(159.5 294.6) rotate(11.9)" y="2.2" text-anchor="end">37000</text><text transform="translate(161.1 287.2) rotate(13.5)" y="2.2" text-anchor="end">38000</text><text transform="translate(163 279.8) rotate(15.2)" y="2.2" text-anchor="end">39000</text><text transform="translate(165.1 272.4) rotate(16.8)" y="2.2" text-anchor="end">40000</text><text transform="translate(167.5 265.1) rotate(18.5)" y="2.2" text-anchor="end">41000</text><text transform="translate(173.5 249) rotate(22.3)" y="2.2" text-anchor="end">0</text><text transform="translate(176.5 241.9) rotate(23.9)" y="2.2" text-anchor="end">1000</text><text transform="translate(179.7 235) rotate(25.6)" y="2.2" text-anchor="end">2000</text><text transform="translate(183.1 228.1) rotate(27.2)" y="2.2" text-anchor="end">3000</text><text transform="translate(186.7 221.4) rotate(28.9)" y="2.2" text-anchor="end">4000</text><text transform="translate(190.5 214.7) rotate(30.5)" y="2.2" text-anchor="end">5000</text><text transform="translate(194.4 208.2) rotate(32.2)" y="2.2" text-anchor="end">6000</text><text transform="translate(198.6 201.8) rotate(33.9)" y="2.2" text-anchor="end">7000</text><text transform="translate(203 195.5) rotate(35.5)" y="2.2" text-anchor="end">8000</text><text transform="translate(207.5 189.4) rotate(37.2)" y="2.2" text-anchor="end">9000</text><text transform="translate(212.2 183.3) rotate(38.8)" y="2.2" text-anchor="end">10000</text><text transform="translate(217.1 177.5) rotate(40.5)" y="2.2" text-anchor="end">11000</text><text transform="translate(222.1 171.7) rotate(42.1)" y="2.2" text-anchor="end">12000</text><text transform="translate(227.3 166.1) rotate(43.8)" y="2.2" text-anchor="end">13000</text><text transform="translate(232.7 160.7) rotate(45.5)" y="2.2" text-anchor="end">14000</text><text transform="translate(238.2 155.4) rotate(47.1)" y="2.2" text-anchor="end">15000</text><text transform="translate(243.9 150.3) rotate(48.8)" y="2.2" text-anchor="end">16000</text><text transform="translate(249.7 145.3) rotate(50.4)" y="2.2" text-anchor="end">17000</text><text transform="translate(255.7 140.5) rotate(52.1)" y="2.2" text-anchor="end">18000</text><text transform="translate(261.8 135.9) rotate(53.8)" y="2.2" text-anchor="end">19000</text><text transform="translate(268 131.5) rotate(55.4)" y="2.2" text-anchor="end">20000</text><text transform="translate(274.4 127.2) rotate(57.1)" y="2.2" text-anchor="end">21000</text><text transform="translate(280.9 123.2) rotate(58.7)" y="2.2" text-anchor="end">22000</text><text transform="translate(287.4 119.3) rotate(60.4)" y="2.2" text-anchor="end">23000</text><text transform="translate(294.1 115.6) rotate(62)" y="2.2" text-anchor="end">24000</text><text transform="translate(301 112.1) rotate(63.7)" y="2.2" text-anchor="end">25000</text><text transform="translate(307.9 108.9) rotate(65.4)" y="2.2" text-anchor="end">26000</text><text transform="translate(314.8 105.8) rotate(67)" y="2.2" text-anchor="end">27000</text><text transform="translate(321.9 102.9) rotate(68.7)" y="2.2" text-anchor="end">28000</text><text transform="translate(329.1 100.2) rotate(70.3)" y="2.2" text-anchor="end">29000</text><text transform="translate(336.3 97.7) rotate(72)" y="2.2" text-anchor="end">30000</text><text transform="translate(343.6 95.5) rotate(73.7)" y="2.2" text-anchor="end">31000</text><text transform="translate(351 93.4) rotate(75.3)" y="2.2" text-anchor="end">32000</text><text transform="translate(358.4 91.6) rotate(77)" y="2.2" text-anchor="end">33000</text><text transform="translate(365.9 90) rotate(78.6)" y="2.2" text-anchor="end">34000</text><text transform="translate(373.4 88.6) rotate(80.3)" y="2.2" text-anchor="end">35000</text><text transform="translate(381 87.4) rotate(81.9)" y="2.2" text-anchor="end">36000</text><text transform="translate(388.5 86.4) rotate(83.6)" y="2.2" text-anchor="end">37000</text><text transform="translate(396.2 85.7) rotate(85.3)" y="2.2" text-anchor="end">38000</text><text transform="translate(403.8 85.2) rotate(86.9)" y="2.2" text-anchor="end">39000</text></g>
<g stroke="#444" stroke-width="0.45"><path d="M418 44.5A304.5 304.5 0 0 1 500.7 55.9L499.2 61.2A299 299 0 0 0 418 50Z" fill="#EDDBA2"/><path d="M500.7 55.9A304.5 304.5 0 0 1 570.3 85.3L567.5 90.1A299 299 0 0 0 499.2 61.2Z" fill="#8AD3DA"/><path d="M570.3 85.3A304.5 304.5 0 0 1 624.8 125.5L621.1 129.5A299 299 0 0 0 567.5 90.1Z" fill="#DD74B5"/><path d="M624.8 125.5A304.5 304.5 0 0 1 663.6 169L659.2 172.3A299 299 0 0 0 621.1 129.5Z" fill="#57C38E"/><path d="M663.6 169A304.5 304.5 0 0 1 680.7 195.1L676 197.9A299 299 0 0 0 659.2 172.3Z" fill="#C461B3"/><path d="M680.7 195.1A304.5 304.5 0 0 1 686.1 204.5L681.2 207.2A299 299 0 0 0 676 197.9Z" fill="#E6F28A"/><path d="M686.1 204.5A304.5 304.5 0 0 1 686.1 204.6L681.3 207.2A299 299 0 0 0 681.2 207.2Z" fill="#A5DB86"/><path d="M418 52.6A296.4 296.4 0 0 1 454.8 54.9L454.1 60.3A291 291 0 0 0 418 58Z" fill="#8AD3DA"/><path d="M454.8 54.9A296.4 296.4 0 0 1 475.9 58.3L474.9 63.6A291 291 0 0 0 454.1 60.3Z" fill="#57C38E"/><path d="M475.9 58.3A296.4 296.4 0 0 1 492.3 62.1L490.9 67.3A291 291 0 0 0 474.9 63.6Z" fill="#DD74B5"/><path d="M492.3 62.1A296.4 296.4 0 0 1 507.9 66.6L506.3 71.7A291 291 0 0 0 490.9 67.3Z" fill="#EDDBA2"/><path d="M507.9 66.6A296.4 296.4 0 0 1 520.4 70.9L518.5 75.9A291 291 0 0 0 506.3 71.7Z" fill="#C461B3"/><path d="M520.4 70.9A296.4 296.4 0 0 1 525.1 72.6L523.1 77.6A291 291 0 0 0 518.5 75.9Z" fill="#E6F28A"/><path d="M525.1 72.6A296.4 296.4 0 0 1 525.2 72.6L523.2 77.7A291 291 0 0 0 523.1 77.6Z" fill="#A5DB86"/><path d="M418 60A289 289 0 0 1 481 67L479.9 72.1A283.7 283.7 0 0 0 418 65.3Z" fill="#EDDBA2"/><path d="M481 67A289 289 0 0 1 526.9 81.3L524.9 86.2A283.7 283.7 0 0 0 479.9 72.1Z" fill="#DD74B5"/><path d="M526.9 81.3A289 289 0 0 1 559.3 96.9L556.7 101.5A283.7 283.7 0 0 0 524.9 86.2Z" fill="#8AD3DA"/><path d="M559.3 96.9A289 289 0 0 1 588.3 115.5L585.2 119.8A283.7 283.7 0 0 0 556.7 101.5Z" fill="#57C38E"/><path d="M588.3 115.5A289 289 0 0 1 601.5 125.8L598.2 129.9A283.7 283.7 0 0 0 585.2 119.8Z" fill="#C461B3"/><path d="M601.5 125.8A289 289 0 0 1 605.7 129.3L602.3 133.3A283.7 283.7 0 0 0 598.2 129.9Z" fill="#E6F28A"/><path d="M692.7 217.7A304.5 304.5 0 0 1 715 282.1L709.7 283.3A299 299 0 0 0 687.8 220Z" fill="#E6F28A"/><path d="M715 282.1A304.5 304.5 0 0 1 717.4 293.3L711.9 294.3A299 299 0 0 0 709.7 283.3Z" fill="#EDDBA2"/><path d="M717.4 293.3A304.5 304.5 0 0 1 719.2 304L713.7 304.8A299 299 0 0 0 711.9 294.3Z" fill="#8AD3DA"/><path d="M719.2 304A304.5 304.5 0 0 1 720.3 312.5L714.8 313.2A299 299 0 0 0 713.7 304.8Z" fill="#57C38E"/><path d="M720.3 312.5A304.5 304.5 0 0 1 721 318.8L715.5 319.4A299 299 0 0 0 714.8 313.2Z" fill="#DD74B5"/><path d="M721 318.8A304.5 304.5 0 0 1 721.5 324.6L716 325.1A299 299 0 0 0 715.5 319.4Z" fill="#C461B3"/><path d="M721.5 324.6A304.5 304.5 0 0 1 721.5 324.7L716 325.1A299 299 0 0 0 716 325.1Z" fill="#A5DB86"/><path d="M685.4 221.2A296.4 296.4 0 0 1 698 251.9L692.9 253.7A291 291 0 0 0 680.5 223.5Z" fill="#E6F28A"/><path d="M698 251.9A296.4 296.4 0 0 1 699.8 257.2L694.7 258.8A291 291 0 0 0 692.9 253.7Z" fill="#8AD3DA"/><path d="M699.8 257.2A296.4 296.4 0 0 1 701.1 261.3L696 262.9A291 291 0 0 0 694.7 258.8Z" fill="#57C38E"/><path d="M701.1 261.3A296.4 296.4 0 0 1 701.9 264L696.8 265.5A291 291 0 0 0 696 262.9Z" fill="#C461B3"/><path d="M701.9 264A296.4 296.4 0 0 1 702.7 266.4L697.5 267.9A291 291 0 0 0 696.8 265.5Z" fill="#EDDBA2"/><path d="M702.7 266.4A296.4 296.4 0 0 1 703.1 268.1L697.9 269.6A291 291 0 0 0 697.5 267.9Z" fill="#DD74B5"/><path d="M703.1 268.1A296.4 296.4 0 0 1 703.2 268.1L698 269.6A291 291 0 0 0 697.9 269.6Z" fill="#A5DB86"/><path d="M678.7 224.3A289 289 0 0 1 691 254.3L686 256A283.7 283.7 0 0 0 674 226.6Z" fill="#E6F28A"/><path d="M691 254.3A289 289 0 0 1 693.7 262.2L688.6 263.8A283.7 283.7 0 0 0 686 256Z" fill="#EDDBA2"/><path d="M693.7 262.2A289 289 0 0 1 695.1 266.9L690 268.4A283.7 283.7 0 0 0 688.6 263.8Z" fill="#8AD3DA"/><path d="M695.1 266.9A289 289 0 0 1 696.3 271.1L691.2 272.5A283.7 283.7 0 0 0 690 268.4Z" fill="#DD74B5"/><path d="M696.3 271.1A289 289 0 0 1 697.3 274.9L692.2 276.3A283.7 283.7 0 0 0 691.2 272.5Z" fill="#57C38E"/><path d="M697.3 274.9A289 289 0 0 1 698 277.6L692.9 278.9A283.7 283.7 0 0 0 692.2 276.3Z" fill="#C461B3"/><path d="M722.3 339.3A304.5 304.5 0 0 1 721.7 371.2L716.2 370.8A299 299 0 0 0 716.8 339.5Z" fill="#EDDBA2"/><path d="M721.7 371.2A304.5 304.5 0 0 1 717.8 402.4L712.4 401.4A299 299 0 0 0 716.2 370.8Z" fill="#57C38E"/><path d="M717.8 402.4A304.5 304.5 0 0 1 710.8 432.7L705.5 431.2A299 299 0 0 0 712.4 401.4Z" fill="#8AD3DA"/><path d="M710.8 432.7A304.5 304.5 0 0 1 701.6 459.9L696.5 457.9A299 299 0 0 0 705.5 431.2Z" fill="#DD74B5"/><path d="M701.6 459.9A304.5 304.5 0 0 1 692.9 480.1L687.9 477.7A299 299 0 0 0 696.5 457.9Z" fill="#C461B3"/><path d="M692.9 480.1A304.5 304.5 0 0 1 690.3 485.3L685.4 482.8A299 299 0 0 0 687.9 477.7Z" fill="#E6F28A"/><path d="M690.3 485.3A304.5 304.5 0 0 1 690.3 485.4L685.3 482.9A299 299 0 0 0 685.4 482.8Z" fill="#A5DB86"/><path d="M714.2 339.5A296.4 296.4 0 0 1 714.3 356.7L708.9 356.5A291 291 0 0 0 708.9 339.7Z" fill="#8AD3DA"/><path d="M714.3 356.7A296.4 296.4 0 0 1 713.7 369.2L708.3 368.8A291 291 0 0 0 708.9 356.5Z" fill="#57C38E"/><path d="M713.7 369.2A296.4 296.4 0 0 1 712.8 379.9L707.4 379.3A291 291 0 0 0 708.3 368.8Z" fill="#C461B3"/><path d="M712.8 379.9A296.4 296.4 0 0 1 711.8 388.4L706.4 387.7A291 291 0 0 0 707.4 379.3Z" fill="#DD74B5"/><path d="M711.8 388.4A296.4 296.4 0 0 1 711 394L705.6 393.2A291 291 0 0 0 706.4 387.7Z" fill="#EDDBA2"/><path d="M711 394A296.4 296.4 0 0 1 710.5 396.8L705.2 395.9A291 291 0 0 0 705.6 393.2Z" fill="#E6F28A"/><path d="M710.5 396.8A296.4 296.4 0 0 1 710.5 396.9L705.2 396A291 291 0 0 0 705.2 395.9Z" fill="#A5DB86"/><path d="M706.9 339.8A289 289 0 0 1 706.6 364.6L701.3 364.3A283.7 283.7 0 0 0 701.6 339.9Z" fill="#EDDBA2"/><path d="M706.6 364.6A289 289 0 0 1 705 383.3L699.7 382.7A283.7 283.7 0 0 0 701.3 364.3Z" fill="#DD74B5"/><path d="M705 383.3A289 289 0 0 1 702.3 400.7L697.1 399.8A283.7 283.7 0 0 0 699.7 382.7Z" fill="#57C38E"/><path d="M702.3 400.7A289 289 0 0 1 699.8 413.3L694.6 412.1A283.7 283.7 0 0 0 697.1 399.8Z" fill="#8AD3DA"/><path d="M699.8 413.3A289 289 0 0 1 697.2 423.5L692.1 422.1A283.7 283.7 0 0 0 694.6 412.1Z" fill="#C461B3"/><path d="M697.2 423.5A289 289 0 0 1 696.5 426.1L691.4 424.7A283.7 283.7 0 0 0 692.1 422.1Z" fill="#E6F28A"/><path d="M683.4 498.3A304.5 304.5 0 0 1 503 641.4L501.5 636.1A299 299 0 0 0 678.6 495.6Z" fill="#EDDBA2"/><path d="M503 641.4A304.5 304.5 0 0 1 411.8 653.4L411.9 647.9A299 299 0 0 0 501.5 636.1Z" fill="#57C38E"/><path d="M411.8 653.4A304.5 304.5 0 0 1 329.4 640.3L331 635.1A299 299 0 0 0 411.9 647.9Z" fill="#8AD3DA"/><path d="M329.4 640.3A304.5 304.5 0 0 1 281 620.9L283.4 616A299 299 0 0 0 331 635.1Z" fill="#DD74B5"/><path d="M281 620.9A304.5 304.5 0 0 1 253.2 605.1L256.2 600.4A299 299 0 0 0 283.4 616Z" fill="#C461B3"/><path d="M253.2 605.1A304.5 304.5 0 0 1 243.7 598.7L246.8 594.2A299 299 0 0 0 256.2 600.4Z" fill="#E6F28A"/><path d="M243.7 598.7A304.5 304.5 0 0 1 243.6 598.6L246.8 594.1A299 299 0 0 0 246.8 594.2Z" fill="#A5DB86"/><path d="M676.4 494.3A296.4 296.4 0 0 1 602.2 581.2L598.9 577A291 291 0 0 0 671.6 491.6Z" fill="#EDDBA2"/><path d="M602.2 581.2A296.4 296.4 0 0 1 547.1 615.8L544.8 610.9A291 291 0 0 0 598.9 577Z" fill="#8AD3DA"/><path d="M547.1 615.8A296.4 296.4 0 0 1 488.5 636.9L487.2 631.6A291 291 0 0 0 544.8 610.9Z" fill="#57C38E"/><path d="M488.5 636.9A296.4 296.4 0 0 1 456.5 642.9L455.8 637.5A291 291 0 0 0 487.2 631.6Z" fill="#DD74B5"/><path d="M456.5 642.9A296.4 296.4 0 0 1 431.1 645.1L430.9 639.7A291 291 0 0 0 455.8 637.5Z" fill="#C461B3"/><path d="M431.1 645.1A296.4 296.4 0 0 1 422.5 645.4L422.4 640A291 291 0 0 0 430.9 639.7Z" fill="#E6F28A"/><path d="M422.5 645.4A296.4 296.4 0 0 1 422.4 645.4L422.3 640A291 291 0 0 0 422.4 640Z" fill="#A5DB86"/><path d="M669.9 490.7A289 289 0 0 1 597.6 575.4L594.3 571.2A283.7 283.7 0 0 0 665.3 488.1Z" fill="#EDDBA2"/><path d="M597.6 575.4A289 289 0 0 1 575.9 591L573 586.6A283.7 283.7 0 0 0 594.3 571.2Z" fill="#57C38E"/><path d="M575.9 591A289 289 0 0 1 560.7 600.3L558.1 595.7A283.7 283.7 0 0 0 573 586.6Z" fill="#DD74B5"/><path d="M560.7 600.3A289 289 0 0 1 546.7 607.8L544.3 603A283.7 283.7 0 0 0 558.1 595.7Z" fill="#8AD3DA"/><path d="M546.7 607.8A289 289 0 0 1 541.7 610.2L539.5 605.4A283.7 283.7 0 0 0 544.3 603Z" fill="#C461B3"/><path d="M541.7 610.2A289 289 0 0 1 539.5 611.2L537.2 606.4A283.7 283.7 0 0 0 539.5 605.4Z" fill="#E6F28A"/><path d="M244.6 572.6L240.3 578.2 M238.8 580.1L234.5 585.7" stroke="#111" stroke-width="1.3" fill="none"/><path d="M220.1 580.4A304.5 304.5 0 0 1 135 461.5L140.2 459.5A299 299 0 0 0 223.7 576.3Z" fill="#DD74B5"/><path d="M135 461.5A304.5 304.5 0 0 1 117.2 396.2L122.6 395.3A299 299 0 0 0 140.2 459.5Z" fill="#8AD3DA"/><path d="M117.2 396.2A304.5 304.5 0 0 1 113.9 332.6L119.4 332.9A299 299 0 0 0 122.6 395.3Z" fill="#57C38E"/><path d="M113.9 332.6A304.5 304.5 0 0 1 121.2 280.9L126.6 282.2A299 299 0 0 0 119.4 332.9Z" fill="#EDDBA2"/><path d="M121.2 280.9A304.5 304.5 0 0 1 128.9 253.3L134.1 255.1A299 299 0 0 0 126.6 282.2Z" fill="#C461B3"/><path d="M128.9 253.3A304.5 304.5 0 0 1 131 247.3L136.2 249.2A299 299 0 0 0 134.1 255.1Z" fill="#E6F28A"/><path d="M225.4 574.3A296.4 296.4 0 0 1 176.9 521.5L181.3 518.3A291 291 0 0 0 228.9 570.2Z" fill="#DD74B5"/><path d="M176.9 521.5A296.4 296.4 0 0 1 151.7 479.1L156.6 476.8A291 291 0 0 0 181.3 518.3Z" fill="#8AD3DA"/><path d="M151.7 479.1A296.4 296.4 0 0 1 136.8 442.6L141.9 440.9A291 291 0 0 0 156.6 476.8Z" fill="#57C38E"/><path d="M136.8 442.6A296.4 296.4 0 0 1 131.3 424.1L136.5 422.8A291 291 0 0 0 141.9 440.9Z" fill="#C461B3"/><path d="M131.3 424.1A296.4 296.4 0 0 1 127.2 406.3L132.5 405.3A291 291 0 0 0 136.5 422.8Z" fill="#EDDBA2"/><path d="M127.2 406.3A296.4 296.4 0 0 1 126.4 402L131.7 401A291 291 0 0 0 132.5 405.3Z" fill="#E6F28A"/><path d="M230.2 568.7A289 289 0 0 1 183 517.1L187.3 514.1A283.7 283.7 0 0 0 233.6 564.6Z" fill="#DD74B5"/><path d="M183 517.1A289 289 0 0 1 165.9 490.3L170.5 487.7A283.7 283.7 0 0 0 187.3 514.1Z" fill="#EDDBA2"/><path d="M165.9 490.3A289 289 0 0 1 155.9 470.7L160.7 468.5A283.7 283.7 0 0 0 170.5 487.7Z" fill="#57C38E"/><path d="M155.9 470.7A289 289 0 0 1 149.4 455.7L154.3 453.7A283.7 283.7 0 0 0 160.7 468.5Z" fill="#8AD3DA"/><path d="M149.4 455.7A289 289 0 0 1 146.4 447.9L151.4 446.1A283.7 283.7 0 0 0 154.3 453.7Z" fill="#C461B3"/><path d="M146.4 447.9A289 289 0 0 1 145.9 446.3L150.9 444.5A283.7 283.7 0 0 0 151.4 446.1Z" fill="#E6F28A"/><path d="M136.2 233.7A304.5 304.5 0 0 1 183.5 154.8L187.7 158.3A299 299 0 0 0 141.3 235.8Z" fill="#EDDBA2"/><path d="M183.5 154.8A304.5 304.5 0 0 1 250.8 94.5L253.9 99.1A299 299 0 0 0 187.7 158.3Z" fill="#57C38E"/><path d="M250.8 94.5A304.5 304.5 0 0 1 307.4 65.3L309.4 70.4A299 299 0 0 0 253.9 99.1Z" fill="#DD74B5"/><path d="M307.4 65.3A304.5 304.5 0 0 1 363.6 49.4L364.6 54.8A299 299 0 0 0 309.4 70.4Z" fill="#8AD3DA"/><path d="M363.6 49.4A304.5 304.5 0 0 1 394.7 45.4L395.1 50.9A299 299 0 0 0 364.6 54.8Z" fill="#C461B3"/><path d="M394.7 45.4A304.5 304.5 0 0 1 403.3 44.9L403.6 50.3A299 299 0 0 0 395.1 50.9Z" fill="#E6F28A"/><path d="M403.3 44.9A304.5 304.5 0 0 1 403.4 44.9L403.7 50.3A299 299 0 0 0 403.6 50.3Z" fill="#A5DB86"/><path d="M143.7 236.8A296.4 296.4 0 0 1 163.4 197.3L168 200A291 291 0 0 0 148.7 238.8Z" fill="#57C38E"/><path d="M163.4 197.3A296.4 296.4 0 0 1 183.3 168L187.6 171.3A291 291 0 0 0 168 200Z" fill="#8AD3DA"/><path d="M183.3 168A296.4 296.4 0 0 1 201 147.1L205 150.7A291 291 0 0 0 187.6 171.3Z" fill="#EDDBA2"/><path d="M201 147.1A296.4 296.4 0 0 1 217.1 131.1L220.7 135.1A291 291 0 0 0 205 150.7Z" fill="#DD74B5"/><path d="M217.1 131.1A296.4 296.4 0 0 1 230.7 119.3L234.1 123.5A291 291 0 0 0 220.7 135.1Z" fill="#C461B3"/><path d="M230.7 119.3A296.4 296.4 0 0 1 233.9 116.7L237.2 120.9A291 291 0 0 0 234.1 123.5Z" fill="#E6F28A"/><path d="M233.9 116.7A296.4 296.4 0 0 1 234 116.7L237.3 120.9A291 291 0 0 0 237.2 120.9Z" fill="#A5DB86"/><path d="M150.5 239.6A289 289 0 0 1 179.3 186L183.7 189A283.7 283.7 0 0 0 155.4 241.6Z" fill="#EDDBA2"/><path d="M179.3 186A289 289 0 0 1 206.2 152.4L210 156A283.7 283.7 0 0 0 183.7 189Z" fill="#57C38E"/><path d="M206.2 152.4A289 289 0 0 1 234.1 126L237.5 130.1A283.7 283.7 0 0 0 210 156Z" fill="#DD74B5"/><path d="M234.1 126A289 289 0 0 1 250.7 113.3L253.8 117.7A283.7 283.7 0 0 0 237.5 130.1Z" fill="#8AD3DA"/><path d="M250.7 113.3A289 289 0 0 1 260.8 106.5L263.7 110.9A283.7 283.7 0 0 0 253.8 117.7Z" fill="#C461B3"/><path d="M260.8 106.5A289 289 0 0 1 264.4 104.2L267.2 108.7A283.7 283.7 0 0 0 263.7 110.9Z" fill="#E6F28A"/></g>
<path d="M418 44.5L418 40.7M450.7 46.3L451.1 42.5M483.1 51.5L483.9 47.8M514.7 60.3L515.9 56.6M545.1 72.3L546.7 68.9M574.1 87.6L576.1 84.3M601.3 105.9L603.6 102.8M626.4 127L629 124.2M649.1 150.7L651.9 148.2M669 176.7L672.2 174.5M686.1 204.6L689.4 202.8M692.7 217.7L696.1 216M697.3 227.8L700.8 226.3M701.6 238.1L705.1 236.7M705.5 248.6L709 247.3M708.9 259.1L712.6 258M712 269.9L715.7 268.9M714.7 280.7L718.4 279.8M717 291.6L720.8 290.9M718.9 302.6L722.7 302M720.4 313.6L724.2 313.2M721.5 324.7L725.3 324.4M722.3 339.3L726.1 339.2M722.5 354.4L726.3 354.5M721.8 369.5L725.6 369.7M720.4 384.5L724.2 385M718.3 399.5L722 400.1M715.4 414.3L719.1 415.1M711.8 429L715.5 430M707.5 443.5L711.1 444.6M702.4 457.7L706 459.1M696.7 471.7L700.2 473.2M690.3 485.4L693.7 487.1M683.4 498.3L686.7 500.1M654.9 540.3L657.9 542.6M619.9 577L622.4 579.8M579.2 607.3L581.2 610.5M534.1 630.5L535.5 634M485.7 645.9L486.6 649.6M435.5 653L435.7 656.8M384.8 651.7L384.4 655.5M335 642L333.9 645.6M287.5 624.1L285.8 627.5M243.6 598.6L241.4 601.7M220.1 580.4L217.7 583.3M193.8 555L191 557.6M170.7 526.6L167.6 528.8M151.1 495.6L147.8 497.4M135.4 462.5L131.9 463.9M123.9 427.7L120.2 428.7M116.5 391.8L112.8 392.4M113.6 355.3L109.8 355.4M115 318.7L111.2 318.3M120.8 282.6L117.1 281.7M131 247.3L127.4 246.1M136.2 233.7L132.7 232.3M151 202.5L147.7 200.7M169.3 173.3L166.2 171.1M190.8 146.2L188 143.7M215.2 121.8L212.7 119M242.3 100.3L240.1 97.2M271.5 82L269.7 78.7M302.7 67.2L301.3 63.7M335.3 55.9L334.3 52.3M369.1 48.5L368.4 44.7M403.4 44.9L403.2 41.1" fill="none" stroke="#111" stroke-width="0.7"/>
<path d="M424.6 44.8L424.6 43.3M431.1 45L431.2 43.5M437.6 45.3L437.7 43.8M444.2 45.8L444.3 44.3M457.2 47.2L457.4 45.7M463.7 48.2L463.9 46.7M470.2 49.2L470.4 47.7M476.6 50.4L476.9 48.9M489.4 53.2L489.8 51.7M495.8 54.8L496.2 53.4M502.1 56.5L502.5 55.1M508.4 58.4L508.8 57M520.8 62.6L521.3 61.2M526.9 64.9L527.5 63.5M533 67.3L533.6 65.9M539.1 69.8L539.7 68.4M551 75.3L551.6 73.9M556.8 78.2L557.5 76.9M562.6 81.3L563.4 80M568.4 84.5L569.1 83.1M579.6 91.2L580.4 89.9M585.1 94.7L586 93.5M590.6 98.4L591.4 97.1M595.9 102.1L596.8 100.9M606.4 110L607.3 108.9M611.5 114.2L612.5 113M616.5 118.4L617.5 117.2M621.4 122.7L622.4 121.6M631 131.7L632 130.6M635.6 136.3L636.7 135.3M640.2 141L641.3 140M644.6 145.9L645.7 144.9M653.1 155.8L654.3 154.9M657.2 160.9L658.4 160M661.2 166.1L662.4 165.2M665.1 171.4L666.3 170.5M672.5 182.2L673.8 181.4M676.1 187.7L677.3 186.9M679.5 193.3L680.8 192.6M682.8 199L684.1 198.3M693.5 219.8L694.9 219.1M694.4 221.8L695.8 221.2M695.4 223.8L696.7 223.2M696.3 225.8L697.6 225.2M698 229.9L699.4 229.3M698.9 232L700.3 231.4M699.8 234L701.1 233.5M700.6 236.1L702 235.6M702.2 240.3L703.6 239.7M703 242.3L704.4 241.8M703.8 244.4L705.2 243.9M704.5 246.5L705.9 246M706 250.7L707.4 250.2M706.7 252.8L708.1 252.4M707.4 255L708.8 254.5M708.1 257.1L709.5 256.6M709.4 261.3L710.8 260.9M710 263.5L711.5 263M710.7 265.6L712.1 265.2M711.3 267.8L712.7 267.4M712.4 272.1L713.9 271.7M713 274.2L714.4 273.8M713.5 276.4L715 276M714 278.5L715.5 278.2M715 282.9L716.5 282.6M715.5 285.1L717 284.7M716 287.2L717.4 286.9M716.4 289.4L717.9 289.1M717.3 293.8L718.7 293.5M717.6 296L719.1 295.7M718 298.2L719.5 297.9M718.4 300.4L719.9 300.1M719.1 304.8L720.6 304.6M719.4 307L720.9 306.8M719.7 309.2L721.2 309M720 311.4L721.5 311.2M720.5 315.8L722 315.7M720.7 318L722.2 317.9M720.9 320.3L722.4 320.1M721.1 322.5L722.6 322.3M722.2 342.3L723.7 342.3M722.3 345.3L723.8 345.3M722.3 348.3L723.8 348.3M722.3 351.4L723.8 351.4M722.2 357.4L723.7 357.4M722.1 360.4L723.6 360.5M722 363.4L723.5 363.5M721.8 366.5L723.3 366.5M721.4 372.5L722.9 372.6M721.1 375.5L722.6 375.6M720.9 378.5L722.4 378.6M720.6 381.5L722.1 381.7M719.9 387.5L721.3 387.7M719.5 390.5L720.9 390.7M719 393.5L720.5 393.7M718.6 396.5L720.1 396.7M717.6 402.4L719.1 402.7M717 405.4L718.5 405.7M716.5 408.4L717.9 408.7M715.9 411.3L717.3 411.6M714.6 417.2L716 417.6M713.9 420.2L715.3 420.5M713.1 423.1L714.6 423.5M712.4 426L713.8 426.4M710.8 431.8L712.2 432.3M710 434.7L711.4 435.2M709.1 437.6L710.5 438.1M708.2 440.5L709.6 441M706.3 446.3L707.8 446.7M705.4 449.1L706.8 449.6M704.3 452L705.8 452.5M703.3 454.8L704.7 455.3M701.2 460.4L702.6 461M700 463.3L701.4 463.8M698.9 466L700.3 466.6M697.7 468.8L699.1 469.4M695.3 474.4L696.6 475M694 477.1L695.4 477.7M692.7 479.8L694.1 480.5M691.4 482.6L692.8 483.2M678.1 506.9L679.4 507.7M672.7 515.5L674 516.3M667 523.9L668.2 524.8M661 532.1L662.2 533M648.3 547.9L649.4 548.9M641.5 555.5L642.6 556.5M634.5 562.8L635.6 563.9M627.2 569.9L628.3 571M612 583.4L613 584.6M604.1 589.7L605 590.9M596 595.8L596.9 597M587.6 601.6L588.5 602.9M570.4 612.4L571.2 613.7M561.6 617.3L562.3 618.6M552.5 622L553.2 623.3M543.3 626.3L544 627.7M524.6 634L525.1 635.4M515 637.4L515.5 638.8M505.3 640.5L505.8 641.9M495.6 643.3L495.9 644.7M475.8 647.8L476 649.2M465.8 649.5L466 651M455.7 651L455.9 652.4M445.6 652L445.7 653.5M425.3 653.2L425.4 654.7M415.2 653.3L415.2 654.8M405 653L405 654.5M394.9 652.4L394.8 653.9M374.7 650.2L374.5 651.7M364.7 648.6L364.4 650.1M354.7 646.7L354.4 648.1M344.8 644.4L344.5 645.8M325.3 638.8L324.8 640.3M315.7 635.6L315.2 637M306.2 632L305.6 633.4M296.8 628.1L296.2 629.5M278.5 619.4L277.8 620.8M269.5 614.6L268.8 615.9M260.7 609.5L260 610.8M252.1 604.1L251.3 605.4M214.8 575.5L213.8 576.6M209.4 570.5L208.3 571.6M204.1 565.4L203 566.5M198.9 560.2L197.9 561.3M189 549.4L187.9 550.4M184.3 543.9L183.1 544.8M179.6 538.2L178.5 539.1M175.2 532.4L174 533.3M166.6 520.5L165.4 521.3M162.6 514.4L161.3 515.2M158.7 508.2L157.4 509M154.9 501.9L153.6 502.6M147.8 489L146.5 489.7M144.5 482.5L143.2 483.2M141.4 475.9L140 476.5M138.4 469.2L137.1 469.8M133 455.6L131.6 456.1M130.5 448.7L129.1 449.2M128.2 441.7L126.7 442.2M126 434.7L124.6 435.2M122.2 420.6L120.8 420.9M120.6 413.4L119.1 413.8M119.1 406.3L117.7 406.5M117.8 399.1L116.4 399.3M115.8 384.5L114.3 384.7M115 377.3L113.5 377.4M114.4 370L112.9 370.1M114 362.6L112.5 362.7M113.7 348L112.2 348M113.8 340.7L112.3 340.6M114.1 333.4L112.6 333.3M114.6 326L113.1 325.9M116 311.5L114.5 311.3M117 304.2L115.5 304M118.2 297L116.7 296.7M119.5 289.8L118 289.5M122.7 275.5L121.3 275.1M124.6 268.4L123.1 268M126.6 261.3L125.2 260.9M128.8 254.3L127.4 253.9M139 227.4L137.7 226.8M141.9 221.1L140.5 220.5M144.9 214.9L143.5 214.2M148 208.7L146.6 208M154.6 196.6L153.3 195.9M158.1 190.7L156.8 189.9M161.8 184.8L160.5 184M165.6 179.1L164.3 178.2M173.5 167.8L172.3 166.9M177.7 162.3L176.5 161.4M182 156.9L180.9 155.9M186.4 151.6L185.3 150.6M195.6 141.3L194.5 140.2M200.4 136.3L199.3 135.2M205.3 131.4L204.2 130.3M210.3 126.6L209.3 125.5M220.6 117.4L219.6 116.3M225.9 113L224.9 111.9M231.3 108.7L230.4 107.5M236.8 104.5L235.9 103.3M248.1 96.6L247.2 95.3M253.8 92.8L253 91.5M259.7 89.1L258.9 87.8M265.6 85.6L264.9 84.3M277.7 79L277 77.6M283.9 75.8L283.2 74.5M290.1 72.9L289.5 71.5M296.4 70L295.8 68.7M309.2 64.8L308.7 63.4M315.7 62.4L315.2 61M322.2 60.2L321.7 58.7M328.8 58.1L328.3 56.6M342.1 54.3L341.7 52.9M348.8 52.7L348.4 51.2M355.5 51.2L355.2 49.7M362.3 49.8L362 48.4M375.9 47.6L375.7 46.1M382.8 46.7L382.6 45.3M389.6 46L389.5 44.5M396.5 45.5L396.4 44" fill="none" stroke="#111" stroke-width="0.9"/>
<g font-size="6" fill="#111"><text transform="translate(418 39.3) rotate(90)" y="2.2" text-anchor="end">0%</text><text transform="translate(451.3 41.1) rotate(96.2)" y="2.2" text-anchor="end">10%</text><text transform="translate(484.2 46.5) rotate(102.3)" y="2.2" text-anchor="end">20%</text><text transform="translate(516.3 55.3) rotate(108.5)" y="2.2" text-anchor="end">30%</text><text transform="translate(547.3 67.6) rotate(114.7)" y="2.2" text-anchor="end">40%</text><text transform="translate(576.8 83.1) rotate(120.8)" y="2.2" text-anchor="end">50%</text><text transform="translate(604.5 101.7) rotate(127)" y="2.2" text-anchor="end">60%</text><text transform="translate(630 123.2) rotate(133.2)" y="2.2" text-anchor="end">70%</text><text transform="translate(653 147.3) rotate(-40.6)" y="2.2">80%</text><text transform="translate(673.3 173.7) rotate(-34.5)" y="2.2">90%</text><text transform="translate(690.7 202.2) rotate(-28.3)" y="2.2">100%</text><text transform="translate(697.4 215.4) rotate(-25.6)" y="2.2">0%</text><text transform="translate(702.1 225.7) rotate(-23.5)" y="2.2">10%</text><text transform="translate(706.4 236.2) rotate(-21.4)" y="2.2">20%</text><text transform="translate(710.4 246.8) rotate(-19.3)" y="2.2">30%</text><text transform="translate(713.9 257.6) rotate(-17.2)" y="2.2">40%</text><text transform="translate(717.1 268.5) rotate(-15.1)" y="2.2">50%</text><text transform="translate(719.8 279.5) rotate(-13)" y="2.2">60%</text><text transform="translate(722.1 290.6) rotate(-10.9)" y="2.2">70%</text><text transform="translate(724.1 301.8) rotate(-8.8)" y="2.2">80%</text><text transform="translate(725.6 313) rotate(-6.7)" y="2.2">90%</text><text transform="translate(726.7 324.3) rotate(-4.6)" y="2.2">100%</text><text transform="translate(727.5 339.1) rotate(-1.8)" y="2.2">0%</text><text transform="translate(727.7 354.5) rotate(1)" y="2.2">10%</text><text transform="translate(727 369.8) rotate(3.9)" y="2.2">20%</text><text transform="translate(725.6 385.1) rotate(6.7)" y="2.2">30%</text><text transform="translate(723.4 400.3) rotate(9.5)" y="2.2">40%</text><text transform="translate(720.5 415.4) rotate(12.4)" y="2.2">50%</text><text transform="translate(716.8 430.4) rotate(15.2)" y="2.2">60%</text><text transform="translate(712.4 445.1) rotate(18.1)" y="2.2">70%</text><text transform="translate(707.3 459.6) rotate(20.9)" y="2.2">80%</text><text transform="translate(701.5 473.8) rotate(23.8)" y="2.2">90%</text><text transform="translate(694.9 487.7) rotate(26.6)" y="2.2">100%</text><text transform="translate(687.9 500.8) rotate(29.4)" y="2.2">0%</text><text transform="translate(659 543.5) rotate(38.9)" y="2.2">10%</text><text transform="translate(623.3 580.8) rotate(48.5)" y="2.2">20%</text><text transform="translate(582 611.7) rotate(58)" y="2.2">30%</text><text transform="translate(536.1 635.3) rotate(67.6)" y="2.2">40%</text><text transform="translate(486.9 650.9) rotate(77.1)" y="2.2">50%</text><text transform="translate(435.8 658.2) rotate(86.7)" y="2.2">60%</text><text transform="translate(384.2 656.9) rotate(-83.7)" y="2.2" text-anchor="end">70%</text><text transform="translate(333.6 647) rotate(-74.2)" y="2.2" text-anchor="end">80%</text><text transform="translate(285.2 628.8) rotate(-64.6)" y="2.2" text-anchor="end">90%</text><text transform="translate(240.6 602.9) rotate(-55.1)" y="2.2" text-anchor="end">100%</text><text transform="translate(231 593.7) rotate(-52.6)" y="2.2" text-anchor="end">0%</text><text transform="translate(221.7 586.3) rotate(-50.4)" y="2.2" text-anchor="end">100%</text><text transform="translate(216.8 584.4) rotate(-49.5)" y="2.2" text-anchor="end">0%</text><text transform="translate(189.9 558.5) rotate(-42.6)" y="2.2" text-anchor="end">10%</text><text transform="translate(166.4 529.6) rotate(-35.7)" y="2.2" text-anchor="end">20%</text><text transform="translate(146.6 498.1) rotate(-28.8)" y="2.2" text-anchor="end">30%</text><text transform="translate(130.6 464.4) rotate(-21.9)" y="2.2" text-anchor="end">40%</text><text transform="translate(118.8 429.1) rotate(-15)" y="2.2" text-anchor="end">50%</text><text transform="translate(111.4 392.6) rotate(-8.1)" y="2.2" text-anchor="end">60%</text><text transform="translate(108.4 355.4) rotate(-1.2)" y="2.2" text-anchor="end">70%</text><text transform="translate(109.8 318.2) rotate(5.7)" y="2.2" text-anchor="end">80%</text><text transform="translate(115.8 281.4) rotate(12.6)" y="2.2" text-anchor="end">90%</text><text transform="translate(126.1 245.6) rotate(19.5)" y="2.2" text-anchor="end">100%</text><text transform="translate(131.4 231.7) rotate(22.3)" y="2.2" text-anchor="end">0%</text><text transform="translate(146.5 200) rotate(28.8)" y="2.2" text-anchor="end">10%</text><text transform="translate(165.1 170.3) rotate(35.3)" y="2.2" text-anchor="end">20%</text><text transform="translate(187 142.8) rotate(41.8)" y="2.2" text-anchor="end">30%</text><text transform="translate(211.8 117.9) rotate(48.3)" y="2.2" text-anchor="end">40%</text><text transform="translate(239.3 96.1) rotate(54.8)" y="2.2" text-anchor="end">50%</text><text transform="translate(269 77.5) rotate(61.3)" y="2.2" text-anchor="end">60%</text><text transform="translate(300.7 62.4) rotate(67.8)" y="2.2" text-anchor="end">70%</text><text transform="translate(333.9 50.9) rotate(74.3)" y="2.2" text-anchor="end">80%</text><text transform="translate(368.2 43.3) rotate(80.8)" y="2.2" text-anchor="end">90%</text><text transform="translate(403.1 39.7) rotate(87.2)" y="2.2" text-anchor="end">100%</text></g>
<text transform="translate(214.3 67) rotate(-33.3)" text-anchor="middle" font-size="27" y="9.5">Endothelial cells</text>
<text transform="translate(650.9 93.8) rotate(35.7)" text-anchor="middle" font-size="27" y="9.5">Stromal cells</text>
<text transform="translate(748.9 262.5) rotate(76.6)" text-anchor="middle" font-size="27" y="9.5">Nervous cells</text>
<text transform="translate(742 436.6) rotate(-79.6)" text-anchor="middle" font-size="27" y="9.5">Muscle cells</text>
<text transform="translate(586.6 641.8) rotate(-25.7)" text-anchor="middle" font-size="27" y="9.5">Immune cells</text>
<text transform="translate(219.6 634.8) rotate(38.8)" text-anchor="middle" font-size="27" y="9.5">Germine cells</text>
<text transform="translate(88.4 471.4) rotate(77.6)" text-anchor="middle" font-size="27" y="9.5">Epithelial cells</text>
<text x="0" y="25.5" font-size="41.7">a</text>
</g>
<g id="b">
<text x="963" y="31" font-size="41.7">b</text>
<text x="1427" y="31" text-anchor="middle" font-weight="bold">Target</text>
<text x="1154" y="116.5" text-anchor="end" font-weight="bold">Cell lineage</text>
<text x="1066" y="379" text-anchor="middle" font-weight="bold" transform="rotate(-90 1066 379)">Source</text>
<rect x="1169.6" y="99.5" width="86.5" height="21.9" fill="#E6F48B"/>
<rect x="1255.8" y="99.5" width="86.5" height="21.9" fill="#EEDDAA"/>
<rect x="1341.9" y="99.5" width="86.5" height="21.9" fill="#DE76B6"/>
<rect x="1428.1" y="99.5" width="86.5" height="21.9" fill="#88D6DA"/>
<rect x="1514.3" y="99.5" width="86.5" height="21.9" fill="#58C78F"/>
<rect x="1600.4" y="99.5" width="86.5" height="21.9" fill="#C562B2"/>
<rect x="1141" y="129.5" width="22.4" height="86.8" fill="#E6F48B"/>
<rect x="1141" y="215.9" width="22.4" height="86.8" fill="#DE76B6"/>
<rect x="1141" y="302.4" width="22.4" height="86.8" fill="#EEDDAA"/>
<rect x="1141" y="388.9" width="22.4" height="86.8" fill="#88D6DA"/>
<rect x="1141" y="475.3" width="22.4" height="86.8" fill="#58C78F"/>
<rect x="1141" y="561.8" width="22.4" height="86.8" fill="#C562B2"/>
<rect x="1168" y="128.8" width="517.6" height="519.4" fill="none" stroke="#111" stroke-width="1.6"/>
<path d="M1384.8 97.3 L1384.8 92.4 L1471 92.4 L1471 97.3M1298.7 97.3 L1298.7 85.7 L1427.7 85.7 L1427.7 92.4M1212.5 97.3 L1212.5 81.2 L1363.4 81.2 L1363.4 85.7M1557.1 97.3 L1557.1 69.2 L1643.3 69.2 L1643.3 97.3M1287.9 81.2 L1287.9 46.9 L1600 46.9 L1600 69.2M1139.7 258.9 L1130.4 258.9 L1130.4 345.5 L1139.7 345.5M1139.7 171.9 L1118.8 171.9 L1118.8 302.2 L1130.4 302.2M1139.7 518.3 L1126.3 518.3 L1126.3 604.9 L1139.7 604.9M1139.7 431.7 L1109.4 431.7 L1109.4 561.6 L1126.3 561.6M1118.8 237.1 L1078.6 237.1 L1078.6 496.4 L1109.4 496.4" fill="none" stroke="#111" stroke-width="1.1"/>
<circle cx="1217.9" cy="178.6" r="5.4" fill="#E8604C" stroke="#111" stroke-width="1.2"/>
<circle cx="1301.3" cy="178.6" r="4.51" fill="#EFA08E" stroke="#111" stroke-width="1.2"/>
<circle cx="1384.8" cy="178.6" r="4.96" fill="#F6D5CB" stroke="#111" stroke-width="1.2"/>
<circle cx="1467.9" cy="178.6" r="4.96" fill="#F6D5CB" stroke="#111" stroke-width="1.2"/>
<circle cx="1551.3" cy="178.6" r="4.96" fill="#F6D2C8" stroke="#111" stroke-width="1.2"/>
<circle cx="1634.8" cy="178.6" r="6.3" fill="#F8E8E2" stroke="#111" stroke-width="1.2"/>
<circle cx="1217.9" cy="262.5" r="2.28" fill="#FFFFFF" stroke="#111" stroke-width="1.2"/>
<circle cx="1301.3" cy="262.5" r="3.17" fill="#EC7763" stroke="#111" stroke-width="1.2"/>
<circle cx="1384.8" cy="262.5" r="4.06" fill="#E5402F" stroke="#111" stroke-width="1.2"/>
<circle cx="1467.9" cy="262.5" r="3.62" fill="#EF9480" stroke="#111" stroke-width="1.2"/>
<circle cx="1551.3" cy="262.5" r="4.51" fill="#EC7F6A" stroke="#111" stroke-width="1.2"/>
<circle cx="1634.8" cy="262.5" r="3.17" fill="#F4B9A8" stroke="#111" stroke-width="1.2"/>
<circle cx="1217.9" cy="346.4" r="1.39" fill="#FFFFFF" stroke="#111" stroke-width="1.2"/>
<circle cx="1301.3" cy="346.4" r="3.17" fill="#E2342A" stroke="#111" stroke-width="1.2"/>
<circle cx="1384.8" cy="346.4" r="0.49" fill="#333333" stroke="#111" stroke-width="1.2"/>
<circle cx="1467.9" cy="346.4" r="2.28" fill="#EF9480" stroke="#111" stroke-width="1.2"/>
<circle cx="1551.3" cy="346.4" r="2.72" fill="#EC7F6A" stroke="#111" stroke-width="1.2"/>
<circle cx="1634.8" cy="346.4" r="1.39" fill="#FFFFFF" stroke="#111" stroke-width="1.2"/>
<circle cx="1217.9" cy="430.4" r="7.64" fill="#F6C4B6" stroke="#111" stroke-width="1.2"/>
<circle cx="1301.3" cy="430.4" r="7.64" fill="#E5402F" stroke="#111" stroke-width="1.2"/>
<circle cx="1384.8" cy="430.4" r="7.64" fill="#E8523F" stroke="#111" stroke-width="1.2"/>
<circle cx="1467.9" cy="430.4" r="8.08" fill="#EA6450" stroke="#111" stroke-width="1.2"/>
<circle cx="1551.3" cy="430.4" r="8.97" fill="#E9604B" stroke="#111" stroke-width="1.2"/>
<circle cx="1634.8" cy="430.4" r="9.42" fill="#EE8C76" stroke="#111" stroke-width="1.2"/>
<circle cx="1217.9" cy="514.3" r="4.51" fill="#F8DDD5" stroke="#111" stroke-width="1.2"/>
<circle cx="1301.3" cy="514.3" r="6.3" fill="#E5402F" stroke="#111" stroke-width="1.2"/>
<circle cx="1384.8" cy="514.3" r="5.4" fill="#E9604B" stroke="#111" stroke-width="1.2"/>
<circle cx="1467.9" cy="514.3" r="5.85" fill="#ED8670" stroke="#111" stroke-width="1.2"/>
<circle cx="1551.3" cy="514.3" r="8.53" fill="#E8523F" stroke="#111" stroke-width="1.2"/>
<circle cx="1634.8" cy="514.3" r="6.74" fill="#EF9D88" stroke="#111" stroke-width="1.2"/>
<circle cx="1217.9" cy="598.2" r="6.74" fill="#FAE7E0" stroke="#111" stroke-width="1.2"/>
<circle cx="1301.3" cy="598.2" r="6.3" fill="#EA6B56" stroke="#111" stroke-width="1.2"/>
<circle cx="1384.8" cy="598.2" r="5.85" fill="#EE8C76" stroke="#111" stroke-width="1.2"/>
<circle cx="1467.9" cy="598.2" r="5.85" fill="#F1A491" stroke="#111" stroke-width="1.2"/>
<circle cx="1551.3" cy="598.2" r="7.19" fill="#EE8C76" stroke="#111" stroke-width="1.2"/>
<circle cx="1634.8" cy="598.2" r="7.19" fill="#F2AE9C" stroke="#111" stroke-width="1.2"/>
<text x="1745.7" y="152.8" font-weight="bold">Cell lineage</text>
<rect x="1745" y="166.3" width="32.1" height="32.5" fill="#88D6DA"/>
<text x="1784.5" y="190.6">Stromal cells</text>
<rect x="1745" y="198.5" width="32.1" height="32.5" fill="#58C78F"/>
<text x="1784.5" y="222.8">Endothelial cells</text>
<rect x="1745" y="230.7" width="32.1" height="32.5" fill="#DE76B6"/>
<text x="1784.5" y="255">Epithelial cells</text>
<rect x="1745" y="262.9" width="32.1" height="32.5" fill="#EEDDAA"/>
<text x="1784.5" y="287.2">Immune cells</text>
<rect x="1745" y="295.1" width="32.1" height="32.5" fill="#C562B2"/>
<text x="1784.5" y="319.4">Muscle cells</text>
<rect x="1745" y="327.4" width="32.1" height="32.5" fill="#E6F48B"/>
<text x="1784.5" y="351.7">Nerve cells</text>
<rect x="1745" y="359.6" width="32.1" height="32.5" fill="#A4DA88"/>
<text x="1784.5" y="383.9">Germline cells</text>
<text x="1723.8" y="466.2" font-weight="bold">Weight</text>
<circle cx="1735.6" cy="496.8" r="5.2" fill="#fff" stroke="#111" stroke-width="1.3"/>
<text x="1761.5" y="504.4">0.25</text>
<circle cx="1735.6" cy="525.1" r="7.2" fill="#fff" stroke="#111" stroke-width="1.3"/>
<text x="1761.5" y="533">0.50</text>
<circle cx="1735.6" cy="555.4" r="8.8" fill="#fff" stroke="#111" stroke-width="1.3"/>
<text x="1761.5" y="563">0.75</text>
<circle cx="1735.6" cy="588" r="10.3" fill="#fff" stroke="#111" stroke-width="1.3"/>
<text x="1761.5" y="595.7">1.00</text>
<text x="1853.3" y="458" font-weight="bold">Frequency of</text>
<text x="1853.3" y="483" font-weight="bold">interactions</text>
<defs><linearGradient id="gb" x1="0" y1="0" x2="0" y2="1"><stop offset="0" stop-color="#E8352A"/><stop offset="0.5" stop-color="#EE8A78"/><stop offset="1" stop-color="#FFFFFF"/></linearGradient></defs>
<rect x="1864" y="498.3" width="21.9" height="111.4" fill="url(#gb)"/>
<path d="M1864 507.2h4M1885.9 507.2h-4M1864 537.6h4M1885.9 537.6h-4M1864 568.4h4M1885.9 568.4h-4M1864 600h4M1885.9 600h-4" stroke="#fff" stroke-width="1" fill="none"/>
<text x="1904.3" y="516.7">High</text>
<text x="1904.3" y="610.2">Low</text>
</g>
<g id="c">
<text x="0" y="747" font-size="42.5">c</text>
<g stroke="#999" stroke-width="0.9"><rect x="3.6" y="771.3" width="19" height="12.2" fill="#E4B0C8"/><rect x="3.6" y="783.5" width="19" height="12.2" fill="#E4B0C8"/><rect x="3.6" y="795.7" width="19" height="12.2" fill="#E4B0C8"/><rect x="3.6" y="807.9" width="19" height="12.2" fill="#E4B0C8"/><rect x="3.6" y="820.1" width="19" height="12.2" fill="#E4B0C8"/><rect x="3.6" y="832.3" width="19" height="12.2" fill="#E8B45C"/><rect x="3.6" y="844.5" width="19" height="12.2" fill="#843C48"/><rect x="3.6" y="856.7" width="19" height="12.2" fill="#843C48"/><rect x="3.6" y="868.9" width="19" height="12.2" fill="#60C468"/><rect x="3.6" y="881.1" width="19" height="12.2" fill="#60C468"/><rect x="3.6" y="893.3" width="19" height="12.2" fill="#60C468"/><rect x="3.6" y="905.5" width="19" height="12.2" fill="#60C468"/><rect x="3.6" y="917.7" width="19" height="12.2" fill="#60C468"/><rect x="3.6" y="929.9" width="19" height="12.2" fill="#60C468"/><rect x="3.6" y="942.1" width="19" height="12.2" fill="#60C468"/><rect x="3.6" y="954.3" width="19" height="12.2" fill="#60C468"/><rect x="3.6" y="966.5" width="19" height="12.2" fill="#7C6C68"/><rect x="3.6" y="978.7" width="19" height="12.2" fill="#7C6C68"/><rect x="3.6" y="990.9" width="19" height="12.2" fill="#7C6C68"/><rect x="3.6" y="1003.1" width="19" height="12.2" fill="#7C6C68"/><rect x="3.6" y="1015.3" width="19" height="12.2" fill="#C0A098"/><rect x="3.6" y="1027.5" width="19" height="12.2" fill="#C0A098"/><rect x="3.6" y="1039.7" width="19" height="12.2" fill="#C0A098"/><rect x="3.6" y="1051.9" width="19" height="12.2" fill="#E89060"/><rect x="3.6" y="1064.1" width="19" height="12.2" fill="#E89060"/><rect x="3.6" y="1076.3" width="19" height="12.2" fill="#E89060"/><rect x="3.6" y="1088.5" width="19" height="12.2" fill="#B85030"/><rect x="3.6" y="1100.7" width="19" height="12.2" fill="#B85030"/><rect x="3.6" y="1112.9" width="19" height="12.2" fill="#686C2C"/><rect x="3.6" y="1125.1" width="19" height="12.2" fill="#C4C4C4"/><rect x="3.6" y="1137.3" width="19" height="12.2" fill="#C4C4C4"/><rect x="3.6" y="1149.5" width="19" height="12.2" fill="#D4A088"/><rect x="3.6" y="1161.7" width="19" height="12.2" fill="#D4A088"/><rect x="3.6" y="1173.9" width="19" height="12.2" fill="#A0A890"/><rect x="3.6" y="1186.1" width="19" height="12.2" fill="#A0A890"/><rect x="3.6" y="1198.3" width="19" height="12.2" fill="#A0A890"/><rect x="3.6" y="1210.5" width="19" height="12.2" fill="#A0A890"/><rect x="3.6" y="1222.7" width="19" height="12.2" fill="#A0A890"/><rect x="3.6" y="1234.9" width="19" height="12.2" fill="#EC9C3C"/><rect x="3.6" y="1247.1" width="19" height="12.2" fill="#EC9C3C"/><rect x="3.6" y="1259.3" width="19" height="12.2" fill="#EC9C3C"/><rect x="3.6" y="1271.5" width="19" height="12.2" fill="#EC9C3C"/><rect x="3.6" y="1283.7" width="19" height="12.2" fill="#E8F440"/><rect x="3.6" y="1295.9" width="19" height="12.2" fill="#E8F440"/><rect x="3.6" y="1308.1" width="19" height="12.2" fill="#9CA034"/><rect x="3.6" y="1320.3" width="19" height="12.2" fill="#9CA034"/><rect x="3.6" y="1332.5" width="19" height="12.2" fill="#8C4890"/><rect x="3.6" y="1344.7" width="19" height="12.2" fill="#C048A8"/><rect x="3.6" y="1357" width="19" height="12.2" fill="#C048A8"/><rect x="3.6" y="1369.2" width="19" height="12.2" fill="#C048A8"/><rect x="3.6" y="1381.4" width="19" height="12.2" fill="#AC90B4"/><rect x="3.6" y="1393.6" width="19" height="12.2" fill="#AC90B4"/><rect x="3.6" y="1405.8" width="19" height="12.2" fill="#CCBCB4"/><rect x="3.6" y="1418" width="19" height="12.2" fill="#98342C"/><rect x="3.6" y="1430.2" width="19" height="12.2" fill="#98342C"/><rect x="3.6" y="1442.4" width="19" height="12.2" fill="#98342C"/><rect x="3.6" y="1454.6" width="19" height="12.2" fill="#98342C"/><rect x="3.6" y="1466.8" width="19" height="12.2" fill="#D83C70"/><rect x="3.6" y="1479" width="19" height="12.2" fill="#A4C86C"/><rect x="3.6" y="1491.2" width="19" height="12.2" fill="#A4C86C"/><rect x="3.6" y="1503.4" width="19" height="12.2" fill="#94963C"/><rect x="3.6" y="1515.6" width="19" height="12.2" fill="#DC5820"/><rect x="3.6" y="1527.8" width="19" height="12.2" fill="#C468B4"/><rect x="3.6" y="1540" width="19" height="12.2" fill="#DCE078"/><rect x="3.6" y="1552.2" width="19" height="12.2" fill="#DCE078"/><rect x="3.6" y="1564.4" width="19" height="12.2" fill="#DCE078"/><rect x="3.6" y="1576.6" width="19" height="12.2" fill="#DCE078"/><rect x="3.6" y="1588.8" width="19" height="12.2" fill="#DCE078"/><rect x="3.6" y="1601" width="19" height="12.2" fill="#DCE078"/><rect x="3.6" y="1613.2" width="19" height="12.2" fill="#DCE078"/><rect x="3.6" y="1625.4" width="19" height="12.2" fill="#DCE078"/><rect x="3.6" y="1637.6" width="19" height="12.2" fill="#F2FCD8"/><rect x="3.6" y="1649.8" width="19" height="12.2" fill="#F2FCD8"/><rect x="3.6" y="1662" width="19" height="12.2" fill="#F2FCD8"/><rect x="3.6" y="1674.2" width="19" height="12.2" fill="#5C5C54"/><rect x="3.6" y="1686.4" width="19" height="12.2" fill="#5C5C54"/><rect x="3.6" y="1698.6" width="19" height="12.2" fill="#5C5C54"/><rect x="3.6" y="1710.8" width="19" height="12.2" fill="#5C5C54"/><rect x="3.6" y="1723" width="19" height="12.2" fill="#5C5C54"/><rect x="3.6" y="1735.2" width="19" height="12.2" fill="#5C5C54"/><rect x="3.6" y="1747.4" width="19" height="12.2" fill="#5C5C54"/><rect x="3.6" y="1759.6" width="19" height="12.2" fill="#5C5C54"/><rect x="3.6" y="1771.8" width="19" height="12.2" fill="#5C5C54"/><rect x="3.6" y="1784" width="19" height="12.2" fill="#5C5C54"/><rect x="3.6" y="1796.2" width="19" height="12.2" fill="#5C5C54"/><rect x="3.6" y="1808.4" width="19" height="12.2" fill="#5C5C54"/><rect x="3.6" y="1820.6" width="19" height="12.2" fill="#E0D6C4"/><rect x="3.6" y="1832.8" width="19" height="12.2" fill="#E0D6C4"/><rect x="3.6" y="1845" width="19" height="12.2" fill="#E0D6C4"/><rect x="3.6" y="1857.2" width="19" height="12.2" fill="#9C2428"/><rect x="3.6" y="1869.4" width="19" height="12.2" fill="#9C2428"/><rect x="3.6" y="1881.6" width="19" height="12.2" fill="#9C2428"/><rect x="3.6" y="1893.8" width="19" height="12.2" fill="#2C6634"/><rect x="3.6" y="1906" width="19" height="12.2" fill="#2C6634"/><rect x="3.6" y="1918.2" width="19" height="12.2" fill="#A89850"/><rect x="26.4" y="771.3" width="19" height="12.2" fill="#68C89C"/><rect x="26.4" y="783.5" width="19" height="12.2" fill="#68C89C"/><rect x="26.4" y="795.7" width="19" height="12.2" fill="#68C89C"/><rect x="26.4" y="807.9" width="19" height="12.2" fill="#68C89C"/><rect x="26.4" y="820.1" width="19" height="12.2" fill="#68C89C"/><rect x="26.4" y="832.3" width="19" height="12.2" fill="#F09A30"/><rect x="26.4" y="844.5" width="19" height="12.2" fill="#F09A30"/><rect x="26.4" y="856.7" width="19" height="12.2" fill="#F2AC48"/><rect x="26.4" y="868.9" width="19" height="12.2" fill="#C463BA"/><rect x="26.4" y="881.1" width="19" height="12.2" fill="#68C89C"/><rect x="26.4" y="893.3" width="19" height="12.2" fill="#ACE0E0"/><rect x="26.4" y="905.5" width="19" height="12.2" fill="#ACE0E0"/><rect x="26.4" y="917.7" width="19" height="12.2" fill="#ACE0E0"/><rect x="26.4" y="929.9" width="19" height="12.2" fill="#ACE0E0"/><rect x="26.4" y="942.1" width="19" height="12.2" fill="#ACE0E0"/><rect x="26.4" y="954.3" width="19" height="12.2" fill="#ACE0E0"/><rect x="26.4" y="966.5" width="19" height="12.2" fill="#F09A30"/><rect x="26.4" y="978.7" width="19" height="12.2" fill="#F09A30"/><rect x="26.4" y="990.9" width="19" height="12.2" fill="#2F9448"/><rect x="26.4" y="1003.1" width="19" height="12.2" fill="#2F9448"/><rect x="26.4" y="1015.3" width="19" height="12.2" fill="#0C0808"/><rect x="26.4" y="1027.5" width="19" height="12.2" fill="#ACE0E0"/><rect x="26.4" y="1039.7" width="19" height="12.2" fill="#EC7096"/><rect x="26.4" y="1051.9" width="19" height="12.2" fill="#F4B4DC"/><rect x="26.4" y="1064.1" width="19" height="12.2" fill="#68C89C"/><rect x="26.4" y="1076.3" width="19" height="12.2" fill="#ACE0E0"/><rect x="26.4" y="1088.5" width="19" height="12.2" fill="#F09A30"/><rect x="26.4" y="1100.7" width="19" height="12.2" fill="#2F9448"/><rect x="26.4" y="1112.9" width="19" height="12.2" fill="#C4D44C"/><rect x="26.4" y="1125.1" width="19" height="12.2" fill="#C4C4C4"/><rect x="26.4" y="1137.3" width="19" height="12.2" fill="#C4C4C4"/><rect x="26.4" y="1149.5" width="19" height="12.2" fill="#ECC4E8"/><rect x="26.4" y="1161.7" width="19" height="12.2" fill="#ECC4E8"/><rect x="26.4" y="1173.9" width="19" height="12.2" fill="#68C89C"/><rect x="26.4" y="1186.1" width="19" height="12.2" fill="#68C89C"/><rect x="26.4" y="1198.3" width="19" height="12.2" fill="#68C89C"/><rect x="26.4" y="1210.5" width="19" height="12.2" fill="#68C89C"/><rect x="26.4" y="1222.7" width="19" height="12.2" fill="#2F9448"/><rect x="26.4" y="1234.9" width="19" height="12.2" fill="#68C89C"/><rect x="26.4" y="1247.1" width="19" height="12.2" fill="#ACE0E0"/><rect x="26.4" y="1259.3" width="19" height="12.2" fill="#ACE0E0"/><rect x="26.4" y="1271.5" width="19" height="12.2" fill="#ACE0E0"/><rect x="26.4" y="1283.7" width="19" height="12.2" fill="#E0F080"/><rect x="26.4" y="1295.9" width="19" height="12.2" fill="#C4D44C"/><rect x="26.4" y="1308.1" width="19" height="12.2" fill="#ECF898"/><rect x="26.4" y="1320.3" width="19" height="12.2" fill="#A0B038"/><rect x="26.4" y="1332.5" width="19" height="12.2" fill="#F09A30"/><rect x="26.4" y="1344.7" width="19" height="12.2" fill="#F09A30"/><rect x="26.4" y="1357" width="19" height="12.2" fill="#F09A30"/><rect x="26.4" y="1369.2" width="19" height="12.2" fill="#2F9448"/><rect x="26.4" y="1381.4" width="19" height="12.2" fill="#F09A30"/><rect x="26.4" y="1393.6" width="19" height="12.2" fill="#2F9448"/><rect x="26.4" y="1405.8" width="19" height="12.2" fill="#F09A30"/><rect x="26.4" y="1418" width="19" height="12.2" fill="#9C1C5C"/><rect x="26.4" y="1430.2" width="19" height="12.2" fill="#DC78B8"/><rect x="26.4" y="1442.4" width="19" height="12.2" fill="#F09A30"/><rect x="26.4" y="1454.6" width="19" height="12.2" fill="#68C89C"/><rect x="26.4" y="1466.8" width="19" height="12.2" fill="#F09A30"/><rect x="26.4" y="1479" width="19" height="12.2" fill="#F09A30"/><rect x="26.4" y="1491.2" width="19" height="12.2" fill="#68C89C"/><rect x="26.4" y="1503.4" width="19" height="12.2" fill="#C4D44C"/><rect x="26.4" y="1515.6" width="19" height="12.2" fill="#2F9448"/><rect x="26.4" y="1527.8" width="19" height="12.2" fill="#ECB4E0"/><rect x="26.4" y="1540" width="19" height="12.2" fill="#E4F050"/><rect x="26.4" y="1552.2" width="19" height="12.2" fill="#E4F050"/><rect x="26.4" y="1564.4" width="19" height="12.2" fill="#C4D44C"/><rect x="26.4" y="1576.6" width="19" height="12.2" fill="#E4F050"/><rect x="26.4" y="1588.8" width="19" height="12.2" fill="#E4F050"/><rect x="26.4" y="1601" width="19" height="12.2" fill="#ECF898"/><rect x="26.4" y="1613.2" width="19" height="12.2" fill="#ECF898"/><rect x="26.4" y="1625.4" width="19" height="12.2" fill="#A0B038"/><rect x="26.4" y="1637.6" width="19" height="12.2" fill="#C4D44C"/><rect x="26.4" y="1649.8" width="19" height="12.2" fill="#A0B038"/><rect x="26.4" y="1662" width="19" height="12.2" fill="#A0B038"/><rect x="26.4" y="1674.2" width="19" height="12.2" fill="#68C89C"/><rect x="26.4" y="1686.4" width="19" height="12.2" fill="#68C89C"/><rect x="26.4" y="1698.6" width="19" height="12.2" fill="#68C89C"/><rect x="26.4" y="1710.8" width="19" height="12.2" fill="#68C89C"/><rect x="26.4" y="1723" width="19" height="12.2" fill="#68C89C"/><rect x="26.4" y="1735.2" width="19" height="12.2" fill="#68C89C"/><rect x="26.4" y="1747.4" width="19" height="12.2" fill="#68C89C"/><rect x="26.4" y="1759.6" width="19" height="12.2" fill="#ACE0E0"/><rect x="26.4" y="1771.8" width="19" height="12.2" fill="#ACE0E0"/><rect x="26.4" y="1784" width="19" height="12.2" fill="#ACE0E0"/><rect x="26.4" y="1796.2" width="19" height="12.2" fill="#ACE0E0"/><rect x="26.4" y="1808.4" width="19" height="12.2" fill="#ACE0E0"/><rect x="26.4" y="1820.6" width="19" height="12.2" fill="#F09A30"/><rect x="26.4" y="1832.8" width="19" height="12.2" fill="#F0BC60"/><rect x="26.4" y="1845" width="19" height="12.2" fill="#2F9448"/><rect x="26.4" y="1857.2" width="19" height="12.2" fill="#F09A30"/><rect x="26.4" y="1869.4" width="19" height="12.2" fill="#68C89C"/><rect x="26.4" y="1881.6" width="19" height="12.2" fill="#68C89C"/><rect x="26.4" y="1893.8" width="19" height="12.2" fill="#D494D4"/><rect x="26.4" y="1906" width="19" height="12.2" fill="#DCA8DC"/><rect x="26.4" y="1918.2" width="19" height="12.2" fill="#F09A30"/><rect x="49" y="771.3" width="19" height="12.2" fill="#C463BA"/><rect x="49" y="783.5" width="19" height="12.2" fill="#EFC060"/><rect x="49" y="795.7" width="19" height="12.2" fill="#68C89C"/><rect x="49" y="807.9" width="19" height="12.2" fill="#ACE0E0"/><rect x="49" y="820.1" width="19" height="12.2" fill="#2F9448"/><rect x="49" y="832.3" width="19" height="12.2" fill="#F09A30"/><rect x="49" y="844.5" width="19" height="12.2" fill="#F09A30"/><rect x="49" y="856.7" width="19" height="12.2" fill="#F09A30"/><rect x="49" y="868.9" width="19" height="12.2" fill="#3CA048"/><rect x="49" y="881.1" width="19" height="12.2" fill="#3CA048"/><rect x="49" y="893.3" width="19" height="12.2" fill="#78D040"/><rect x="49" y="905.5" width="19" height="12.2" fill="#F6E4AC"/><rect x="49" y="917.7" width="19" height="12.2" fill="#F2E090"/><rect x="49" y="929.9" width="19" height="12.2" fill="#3CA048"/><rect x="49" y="942.1" width="19" height="12.2" fill="#CCA830"/><rect x="49" y="954.3" width="19" height="12.2" fill="#EFC866"/><rect x="49" y="966.5" width="19" height="12.2" fill="#F09A30"/><rect x="49" y="978.7" width="19" height="12.2" fill="#2F9448"/><rect x="49" y="990.9" width="19" height="12.2" fill="#F09A30"/><rect x="49" y="1003.1" width="19" height="12.2" fill="#2F9448"/><rect x="49" y="1015.3" width="19" height="12.2" fill="#EFC866"/><rect x="49" y="1027.5" width="19" height="12.2" fill="#EFC866"/><rect x="49" y="1039.7" width="19" height="12.2" fill="#EFC866"/><rect x="49" y="1051.9" width="19" height="12.2" fill="#E8BC5C"/><rect x="49" y="1064.1" width="19" height="12.2" fill="#E4C43C"/><rect x="49" y="1076.3" width="19" height="12.2" fill="#DCB038"/><rect x="49" y="1088.5" width="19" height="12.2" fill="#F09A30"/><rect x="49" y="1100.7" width="19" height="12.2" fill="#F09A30"/><rect x="49" y="1112.9" width="19" height="12.2" fill="#C4D44C"/><rect x="49" y="1125.1" width="19" height="12.2" fill="#C4C4C4"/><rect x="49" y="1137.3" width="19" height="12.2" fill="#C4C4C4"/><rect x="49" y="1149.5" width="19" height="12.2" fill="#EC8CAC"/><rect x="49" y="1161.7" width="19" height="12.2" fill="#BCE8E8"/><rect x="49" y="1173.9" width="19" height="12.2" fill="#E09830"/><rect x="49" y="1186.1" width="19" height="12.2" fill="#F0B060"/><rect x="49" y="1198.3" width="19" height="12.2" fill="#DCA838"/><rect x="49" y="1210.5" width="19" height="12.2" fill="#2F9448"/><rect x="49" y="1222.7" width="19" height="12.2" fill="#2F9448"/><rect x="49" y="1234.9" width="19" height="12.2" fill="#F0B060"/><rect x="49" y="1247.1" width="19" height="12.2" fill="#E8C040"/><rect x="49" y="1259.3" width="19" height="12.2" fill="#F0B468"/><rect x="49" y="1271.5" width="19" height="12.2" fill="#DCB038"/><rect x="49" y="1283.7" width="19" height="12.2" fill="#E4ECB0"/><rect x="49" y="1295.9" width="19" height="12.2" fill="#C4D44C"/><rect x="49" y="1308.1" width="19" height="12.2" fill="#E4ECB0"/><rect x="49" y="1320.3" width="19" height="12.2" fill="#E8F0B0"/><rect x="49" y="1332.5" width="19" height="12.2" fill="#F09A30"/><rect x="49" y="1344.7" width="19" height="12.2" fill="#F09A30"/><rect x="49" y="1357" width="19" height="12.2" fill="#2F9448"/><rect x="49" y="1369.2" width="19" height="12.2" fill="#F09A30"/><rect x="49" y="1381.4" width="19" height="12.2" fill="#F09A30"/><rect x="49" y="1393.6" width="19" height="12.2" fill="#F09A30"/><rect x="49" y="1405.8" width="19" height="12.2" fill="#F09A30"/><rect x="49" y="1418" width="19" height="12.2" fill="#68C89C"/><rect x="49" y="1430.2" width="19" height="12.2" fill="#F09A30"/><rect x="49" y="1442.4" width="19" height="12.2" fill="#F09A30"/><rect x="49" y="1454.6" width="19" height="12.2" fill="#CCA030"/><rect x="49" y="1466.8" width="19" height="12.2" fill="#F09A30"/><rect x="49" y="1479" width="19" height="12.2" fill="#F09A30"/><rect x="49" y="1491.2" width="19" height="12.2" fill="#F0E090"/><rect x="49" y="1503.4" width="19" height="12.2" fill="#C4D44C"/><rect x="49" y="1515.6" width="19" height="12.2" fill="#2F9448"/><rect x="49" y="1527.8" width="19" height="12.2" fill="#F0B860"/><rect x="49" y="1540" width="19" height="12.2" fill="#E4F050"/><rect x="49" y="1552.2" width="19" height="12.2" fill="#E4F050"/><rect x="49" y="1564.4" width="19" height="12.2" fill="#C4D44C"/><rect x="49" y="1576.6" width="19" height="12.2" fill="#E4F050"/><rect x="49" y="1588.8" width="19" height="12.2" fill="#E4F050"/><rect x="49" y="1601" width="19" height="12.2" fill="#E4F050"/><rect x="49" y="1613.2" width="19" height="12.2" fill="#E4F050"/><rect x="49" y="1625.4" width="19" height="12.2" fill="#E4F050"/><rect x="49" y="1637.6" width="19" height="12.2" fill="#E4ECB0"/><rect x="49" y="1649.8" width="19" height="12.2" fill="#E4ECB0"/><rect x="49" y="1662" width="19" height="12.2" fill="#C8D850"/><rect x="49" y="1674.2" width="19" height="12.2" fill="#E0A030"/><rect x="49" y="1686.4" width="19" height="12.2" fill="#F0AC50"/><rect x="49" y="1698.6" width="19" height="12.2" fill="#C860BC"/><rect x="49" y="1710.8" width="19" height="12.2" fill="#F8E4B0"/><rect x="49" y="1723" width="19" height="12.2" fill="#DC7CC4"/><rect x="49" y="1735.2" width="19" height="12.2" fill="#68C89C"/><rect x="49" y="1747.4" width="19" height="12.2" fill="#2F9448"/><rect x="49" y="1759.6" width="19" height="12.2" fill="#E0A030"/><rect x="49" y="1771.8" width="19" height="12.2" fill="#ECB050"/><rect x="49" y="1784" width="19" height="12.2" fill="#DC7CC4"/><rect x="49" y="1796.2" width="19" height="12.2" fill="#68C89C"/><rect x="49" y="1808.4" width="19" height="12.2" fill="#2F9448"/><rect x="49" y="1820.6" width="19" height="12.2" fill="#F09A30"/><rect x="49" y="1832.8" width="19" height="12.2" fill="#F09A30"/><rect x="49" y="1845" width="19" height="12.2" fill="#F09A30"/><rect x="49" y="1857.2" width="19" height="12.2" fill="#F09A30"/><rect x="49" y="1869.4" width="19" height="12.2" fill="#F09A30"/><rect x="49" y="1881.6" width="19" height="12.2" fill="#F0CC6C"/><rect x="49" y="1893.8" width="19" height="12.2" fill="#D090D0"/><rect x="49" y="1906" width="19" height="12.2" fill="#D090D0"/><rect x="49" y="1918.2" width="19" height="12.2" fill="#F09A30"/></g>
<path d="M75 779H567M75 791.2H567M75 803.4H567M75 815.6H567M75 827.8H567M75 840H567M75 852.2H567M75 864.4H567M75 876.6H567M75 888.8H567M75 900.9H567M75 913.1H567M75 925.3H567M75 937.5H567M75 949.7H567M75 961.9H567M75 974.1H567M75 986.3H567M75 998.5H567M75 1010.7H567M75 1022.8H567M75 1035H567M75 1047.2H567M75 1059.4H567M75 1071.6H567M75 1083.8H567M75 1096H567M75 1108.2H567M75 1120.4H567M75 1132.6H567M75 1144.8H567M75 1156.9H567M75 1169.1H567M75 1181.3H567M75 1193.5H567M75 1205.7H567M75 1217.9H567M75 1230.1H567M75 1242.3H567M75 1254.5H567M75 1266.6H567M75 1278.8H567M75 1291H567M75 1303.2H567M75 1315.4H567M75 1327.6H567M75 1339.8H567M75 1352H567M75 1364.2H567M75 1376.4H567M75 1388.5H567M75 1400.7H567M75 1412.9H567M75 1425.1H567M75 1437.3H567M75 1449.5H567M75 1461.7H567M75 1473.9H567M75 1486.1H567M75 1498.3H567M75 1510.4H567M75 1522.6H567M75 1534.8H567M75 1547H567M75 1559.2H567M75 1571.4H567M75 1583.6H567M75 1595.8H567M75 1608H567M75 1620.2H567M75 1632.3H567M75 1644.5H567M75 1656.7H567M75 1668.9H567M75 1681.1H567M75 1693.3H567M75 1705.5H567M75 1717.7H567M75 1729.9H567M75 1742.1H567M75 1754.2H567M75 1766.4H567M75 1778.6H567M75 1790.8H567M75 1803H567M75 1815.2H567M75 1827.4H567M75 1839.6H567M75 1851.8H567M75 1864H567M75 1876.1H567M75 1888.3H567M75 1900.5H567M75 1912.7H567M75 1924.9H567M88.7 775V1929M117.7 775V1929M146.7 775V1929M175.7 775V1929M204.7 775V1929M233.7 775V1929M262.7 775V1929M291.7 775V1929M320.7 775V1929M349.7 775V1929M378.7 775V1929M407.7 775V1929M436.7 775V1929M465.7 775V1929M494.7 775V1929M523.7 775V1929M552.7 775V1929" stroke="#E9E9E9" stroke-width="1.7" fill="none"/>
<rect x="72.2" y="772.3" width="497.4" height="1158.7" fill="none" stroke="#111" stroke-width="1.6"/>
<path d="M88.7 1931V1936M117.7 1931V1936M146.7 1931V1936M175.7 1931V1936M204.7 1931V1936M233.7 1931V1936M262.7 1931V1936M291.7 1931V1936M320.7 1931V1936M349.7 1931V1936M378.7 1931V1936M407.7 1931V1936M436.7 1931V1936M465.7 1931V1936M494.7 1931V1936M523.7 1931V1936M552.7 1931V1936" stroke="#111" stroke-width="1.3" fill="none"/>
<g stroke="#111" stroke-width="1.25"><circle cx="494.7" cy="779" r="5.2" fill="#F09A55"/><circle cx="494.7" cy="791.2" r="5.2" fill="#F09A55"/><circle cx="494.7" cy="803.4" r="5.2" fill="#4C84C4"/><circle cx="494.7" cy="815.6" r="5.2" fill="#4A5FA8"/><circle cx="494.7" cy="827.8" r="5.2" fill="#A9E3A0"/><circle cx="233.7" cy="840" r="5.2" fill="#4A78BE"/><circle cx="233.7" cy="852.2" r="5.2" fill="#5AAFC0"/><circle cx="117.7" cy="864.4" r="5.2" fill="#4A70B8"/><circle cx="494.7" cy="876.6" r="5.2" fill="#4A4490"/><circle cx="494.7" cy="888.8" r="5.2" fill="#3F3F8C"/><circle cx="494.7" cy="900.9" r="5.2" fill="#6DD4AE"/><circle cx="494.7" cy="913.1" r="5.2" fill="#4A4A96"/><circle cx="494.7" cy="925.3" r="5.2" fill="#4A82C6"/><circle cx="494.7" cy="937.5" r="5.2" fill="#E3BE6A"/><circle cx="494.7" cy="949.7" r="5.2" fill="#443F8A"/><circle cx="494.7" cy="961.9" r="5.2" fill="#4A74BC"/><circle cx="233.7" cy="974.1" r="5.2" fill="#F2A15C"/><circle cx="204.7" cy="986.3" r="5.2" fill="#9FE2AE"/><circle cx="175.7" cy="998.5" r="5.2" fill="#7FDDB0"/><circle cx="146.7" cy="1010.7" r="5.2" fill="#4A7CC4"/><circle cx="349.7" cy="1022.8" r="5.2" fill="#4A70BA"/><circle cx="88.7" cy="1035" r="5.2" fill="#4A68B4"/><circle cx="349.7" cy="1047.2" r="5.2" fill="#4A5CA8"/><circle cx="320.7" cy="1059.4" r="5.2" fill="#4A5CAA"/><circle cx="494.7" cy="1071.6" r="5.2" fill="#453F8A"/><circle cx="88.7" cy="1083.8" r="5.2" fill="#46509E"/><circle cx="233.7" cy="1096" r="5.2" fill="#E0424C"/><circle cx="175.7" cy="1108.2" r="5.2" fill="#E8C56C"/><circle cx="523.7" cy="1120.4" r="5.2" fill="#F2A35C"/><circle cx="436.7" cy="1132.6" r="5.2" fill="#4A64B0"/><circle cx="436.7" cy="1144.8" r="5.2" fill="#4A7EC6"/><circle cx="436.7" cy="1156.9" r="5.2" fill="#4A7EC6"/><circle cx="436.7" cy="1169.1" r="5.2" fill="#4E9EC4"/><circle cx="494.7" cy="1181.3" r="5.2" fill="#453F8A"/><circle cx="494.7" cy="1193.5" r="5.2" fill="#453F8A"/><circle cx="494.7" cy="1205.7" r="5.2" fill="#453F8A"/><circle cx="146.7" cy="1217.9" r="5.2" fill="#3F3A80"/><circle cx="146.7" cy="1230.1" r="5.2" fill="#A0E6A8"/><circle cx="494.7" cy="1242.3" r="5.2" fill="#4A6EBA"/><circle cx="88.7" cy="1254.5" r="5.2" fill="#80DDB4"/><circle cx="494.7" cy="1266.6" r="5.2" fill="#4A6AB6"/><circle cx="88.7" cy="1278.8" r="5.2" fill="#6ED8B4"/><circle cx="465.7" cy="1291" r="5.2" fill="#443C88"/><circle cx="523.7" cy="1303.2" r="5.2" fill="#F2A05C"/><circle cx="378.7" cy="1315.4" r="5.2" fill="#433E8A"/><circle cx="378.7" cy="1327.6" r="5.2" fill="#4A5AA8"/><circle cx="233.7" cy="1339.8" r="5.2" fill="#F28B50"/><circle cx="233.7" cy="1352" r="5.2" fill="#F07848"/><circle cx="204.7" cy="1364.2" r="5.2" fill="#4A64B0"/><circle cx="175.7" cy="1376.4" r="5.2" fill="#7FDCB2"/><circle cx="233.7" cy="1388.5" r="5.2" fill="#E0404C"/><circle cx="175.7" cy="1400.7" r="5.2" fill="#4A7CC4"/><circle cx="233.7" cy="1412.9" r="5.2" fill="#46509E"/><circle cx="552.7" cy="1425.1" r="5.2" fill="#4A4490"/><circle cx="291.7" cy="1437.3" r="5.2" fill="#4A5CAA"/><circle cx="233.7" cy="1449.5" r="5.2" fill="#F2A05C"/><circle cx="494.7" cy="1461.7" r="5.2" fill="#443C88"/><circle cx="233.7" cy="1473.9" r="5.2" fill="#4A74BE"/><circle cx="233.7" cy="1486.1" r="5.2" fill="#5AB4BE"/><circle cx="494.7" cy="1498.3" r="5.2" fill="#4A7EC6"/><circle cx="523.7" cy="1510.4" r="5.2" fill="#6ED8B4"/><circle cx="146.7" cy="1522.6" r="5.2" fill="#A6E6A6"/><circle cx="320.7" cy="1534.8" r="5.2" fill="#4A7EC6"/><circle cx="349.7" cy="1534.8" r="5.2" fill="#5AB4BE"/><circle cx="378.7" cy="1547" r="5.2" fill="#F28B50"/><circle cx="378.7" cy="1559.2" r="5.2" fill="#B0E890"/><circle cx="523.7" cy="1571.4" r="5.2" fill="#80DDB0"/><circle cx="378.7" cy="1583.6" r="5.2" fill="#D8CC70"/><circle cx="378.7" cy="1595.8" r="5.2" fill="#80DDB0"/><circle cx="378.7" cy="1608" r="5.2" fill="#E0C468"/><circle cx="378.7" cy="1620.2" r="5.2" fill="#7CDCB0"/><circle cx="378.7" cy="1632.3" r="5.2" fill="#4A50A0"/><circle cx="378.7" cy="1644.5" r="5.2" fill="#4A6EBA"/><circle cx="378.7" cy="1656.7" r="5.2" fill="#A0E4A4"/><circle cx="378.7" cy="1668.9" r="5.2" fill="#52A0C4"/><circle cx="494.7" cy="1681.1" r="5.2" fill="#F07848"/><circle cx="494.7" cy="1693.3" r="5.2" fill="#F2A05C"/><circle cx="494.7" cy="1705.5" r="5.2" fill="#6ED8B4"/><circle cx="494.7" cy="1717.7" r="5.2" fill="#5CC8B8"/><circle cx="494.7" cy="1729.9" r="5.2" fill="#C0E080"/><circle cx="494.7" cy="1742.1" r="5.2" fill="#CCDC78"/><circle cx="494.7" cy="1754.2" r="5.2" fill="#DCD070"/><circle cx="494.7" cy="1766.4" r="5.2" fill="#5CC0BC"/><circle cx="494.7" cy="1778.6" r="5.2" fill="#4A8AC8"/><circle cx="494.7" cy="1790.8" r="5.2" fill="#4A54A4"/><circle cx="494.7" cy="1803" r="5.2" fill="#4A64B0"/><circle cx="494.7" cy="1815.2" r="5.2" fill="#4A6CB8"/><circle cx="233.7" cy="1827.4" r="5.2" fill="#C4E088"/><circle cx="175.7" cy="1839.6" r="5.2" fill="#7CDCB0"/><circle cx="175.7" cy="1851.8" r="5.2" fill="#DCCC70"/><circle cx="233.7" cy="1864" r="5.2" fill="#B4E490"/><circle cx="175.7" cy="1876.1" r="5.2" fill="#4A7CC4"/><circle cx="494.7" cy="1888.3" r="5.2" fill="#443C88"/><circle cx="262.7" cy="1900.5" r="5.2" fill="#4A6CBA"/><circle cx="407.7" cy="1900.5" r="5.2" fill="#52A0C4"/><circle cx="407.7" cy="1912.7" r="5.2" fill="#4A4490"/><circle cx="233.7" cy="1924.9" r="5.2" fill="#7CDCA8"/></g>
<g fill="none" stroke="#C8252C" stroke-width="1.3"><rect x="480.4" y="771.8" width="28.6" height="68.3"/><rect x="480.4" y="869.4" width="28.6" height="104.8"/><rect x="219.4" y="1332.6" width="28.6" height="68.3"/><rect x="364.4" y="1539.8" width="28.6" height="141.4"/><rect x="480.4" y="1673.9" width="28.6" height="153.6"/></g>
<text transform="translate(95.7 1944) rotate(-90)" text-anchor="end">CXCL12 − CXCR4</text><text transform="translate(124.7 1944) rotate(-90)" text-anchor="end">CXCL2 − CXCR1</text><text transform="translate(153.7 1944) rotate(-90)" text-anchor="end">CXCL3 − ACKR1</text><text transform="translate(182.7 1944) rotate(-90)" text-anchor="end">CXCL3 − CXCR1</text><text transform="translate(211.7 1944) rotate(-90)" text-anchor="end">CXCL8 − ACKR1</text><text transform="translate(240.7 1944) rotate(-90)" text-anchor="end">CXCL8 − CXCR1</text><text transform="translate(269.7 1944) rotate(-90)" text-anchor="end">F2 − PARD3</text><text transform="translate(298.7 1944) rotate(-90)" text-anchor="end">HC − C5AR1</text><text transform="translate(327.7 1944) rotate(-90)" text-anchor="end">MIF − (CD74+CD44)</text><text transform="translate(356.7 1944) rotate(-90)" text-anchor="end">MIF − (CD74+CXCR4)</text><text transform="translate(385.7 1944) rotate(-90)" text-anchor="end">NRG3 − ERBB4</text><text transform="translate(414.7 1944) rotate(-90)" text-anchor="end">PLG − PARD3</text><text transform="translate(443.7 1944) rotate(-90)" text-anchor="end">PRSS2 − PARD3</text><text transform="translate(472.7 1944) rotate(-90)" text-anchor="end">PSAP − GPR37</text><text transform="translate(501.7 1944) rotate(-90)" text-anchor="end">PTN − NCL</text><text transform="translate(530.7 1944) rotate(-90)" text-anchor="end">PTN − PTPRZ1</text><text transform="translate(559.7 1944) rotate(-90)" text-anchor="end">SPP1 − (ITGA9+ITGB1)</text>
<text transform="translate(19.6 1939) rotate(-90)" text-anchor="end" font-weight="bold">Tissue</text>
<text transform="translate(42.4 1939) rotate(-90)" text-anchor="end" font-weight="bold">Source</text>
<text transform="translate(65 1939) rotate(-90)" text-anchor="end" font-weight="bold">Target</text>
<text x="610.6" y="792.3" font-weight="bold">Prob (Prob &gt; 0.2)</text>
<defs><linearGradient id="gc" x1="0" y1="0" x2="0" y2="1"><stop offset="0" stop-color="#D53E4F"/><stop offset="0.14" stop-color="#F0704A"/><stop offset="0.32" stop-color="#E8A85C"/><stop offset="0.42" stop-color="#C8CC7C"/><stop offset="0.50" stop-color="#9CDC9C"/><stop offset="0.64" stop-color="#62C8AC"/><stop offset="0.82" stop-color="#4A8CC4"/><stop offset="0.93" stop-color="#4F5AA5"/><stop offset="1" stop-color="#5B4A96"/></linearGradient></defs>
<rect x="609.5" y="807.9" width="35.5" height="177.4" fill="url(#gc)"/>
<path d="M609.5 865.7h6M645 865.7h-6M609.5 925.5h6M645 925.5h-6" stroke="#fff" stroke-width="1" fill="none"/>
<text x="657" y="876.2">0.30</text>
<text x="657" y="936">0.25</text>
<text x="608.1" y="1071.3" font-weight="bold">Tissue</text>
<rect x="608.1" y="1089.6" width="29.8" height="29.6" fill="#A89850"/>
<text x="647.7" y="1113.6">Adrenal gland</text>
<rect x="608.1" y="1122.1" width="29.8" height="29.6" fill="#2C6634"/>
<text x="647.7" y="1146.1">Bile duct</text>
<rect x="608.1" y="1154.6" width="29.8" height="29.6" fill="#9C2428"/>
<text x="647.7" y="1178.6">Blood vessel</text>
<rect x="608.1" y="1187" width="29.8" height="29.6" fill="#E0D6C4"/>
<text x="647.7" y="1211">Bone Marrow</text>
<rect x="608.1" y="1219.5" width="29.8" height="29.6" fill="#5C5C54"/>
<text x="647.7" y="1243.5">Bulbar conjunctiva</text>
<rect x="608.1" y="1252" width="29.8" height="29.6" fill="#F2FCD8"/>
<text x="647.7" y="1276">Cerebellum</text>
<rect x="608.1" y="1284.5" width="29.8" height="29.6" fill="#DCE078"/>
<text x="647.7" y="1308.5">Cerebral cortex</text>
<rect x="608.1" y="1317" width="29.8" height="29.6" fill="#C468B4"/>
<text x="647.7" y="1341">Circumvallate papilla</text>
<rect x="608.1" y="1349.4" width="29.8" height="29.6" fill="#DC5820"/>
<text x="647.7" y="1373.4">Esophage</text>
<rect x="608.1" y="1381.9" width="29.8" height="29.6" fill="#94963C"/>
<text x="647.7" y="1405.9">Frontal lobe</text>
<rect x="608.1" y="1414.4" width="29.8" height="29.6" fill="#A4C86C"/>
<text x="647.7" y="1438.4">Intima of corpus uteri</text>
<rect x="608.1" y="1446.9" width="29.8" height="29.6" fill="#D83C70"/>
<text x="647.7" y="1470.9">Intima of uterine horn</text>
<rect x="608.1" y="1479.4" width="29.8" height="29.6" fill="#98342C"/>
<text x="647.7" y="1503.4">Kidney</text>
<rect x="608.1" y="1511.8" width="29.8" height="29.6" fill="#CCBCB4"/>
<text x="647.7" y="1535.8">Lung</text>
<rect x="608.1" y="1544.3" width="29.8" height="29.6" fill="#AC90B4"/>
<text x="647.7" y="1568.3">Mammary cistern</text>
<rect x="608.1" y="1576.8" width="29.8" height="29.6" fill="#C048A8"/>
<text x="647.7" y="1600.8">Mammary gland</text>
<rect x="608.1" y="1609.3" width="29.8" height="29.6" fill="#8C4890"/>
<text x="647.7" y="1633.3">Mammary parenchyma</text>
<rect x="608.1" y="1641.8" width="29.8" height="29.6" fill="#9CA034"/>
<text x="647.7" y="1665.8">Medulla oblongata</text>
<rect x="608.1" y="1674.2" width="29.8" height="29.6" fill="#E8F440"/>
<text x="647.7" y="1698.2">Occipital lobe</text>
<rect x="608.1" y="1706.7" width="29.8" height="29.6" fill="#EC9C3C"/>
<text x="647.7" y="1730.7">Omasum</text>
<rect x="608.1" y="1739.2" width="29.8" height="29.6" fill="#A0A890"/>
<text x="647.7" y="1763.2">Palpebral conjunctiva</text>
<rect x="608.1" y="1771.7" width="29.8" height="29.6" fill="#D4A088"/>
<text x="647.7" y="1795.7">Pancreas</text>
<rect x="608.1" y="1804.2" width="29.8" height="29.6" fill="#686C2C"/>
<text x="647.7" y="1828.2">Parietal lobe</text>
<rect x="608.1" y="1836.6" width="29.8" height="29.6" fill="#B85030"/>
<text x="647.7" y="1860.6">Rumen muscle</text>
<rect x="608.1" y="1869.1" width="29.8" height="29.6" fill="#E89060"/>
<text x="647.7" y="1893.1">Rumen papilla</text>
<rect x="608.1" y="1901.6" width="29.8" height="29.6" fill="#C0A098"/>
<text x="647.7" y="1925.6">SalivaryGland</text>
<rect x="608.1" y="1934.1" width="29.8" height="29.6" fill="#7C6C68"/>
<text x="647.7" y="1958.1">Sublingual gland</text>
<rect x="608.1" y="1966.6" width="29.8" height="29.6" fill="#60C468"/>
<text x="647.7" y="1990.6">Testis</text>
<rect x="608.1" y="1999" width="29.8" height="29.6" fill="#843C48"/>
<text x="647.7" y="2023">Thymus</text>
<rect x="608.1" y="2031.5" width="29.8" height="29.6" fill="#E8B45C"/>
<text x="647.7" y="2055.5">Thyroid</text>
<rect x="608.1" y="2064" width="29.8" height="29.6" fill="#E4B0C8"/>
<text x="647.7" y="2088">Vagina</text>
<text x="931.5" y="793.6" font-weight="bold">Source</text>
<rect x="932.4" y="808.2" width="22.6" height="22.4" fill="#E8C8E4"/>
<text x="963.9" y="827.8">Acinar cells</text>
<rect x="932.4" y="833.4" width="22.6" height="22.4" fill="#9CA030"/>
<text x="963.9" y="853">Astrocytes</text>
<rect x="932.4" y="858.7" width="22.6" height="22.4" fill="#E86C90"/>
<text x="963.9" y="878.3">Basal duct cells</text>
<rect x="932.4" y="883.9" width="22.6" height="22.4" fill="#2E8B4C"/>
<text x="963.9" y="903.5">Blood vascular endothelial cells</text>
<rect x="932.4" y="909.2" width="22.6" height="22.4" fill="#E8A850"/>
<text x="963.9" y="928.8">Classical monocytes</text>
<rect x="932.4" y="934.4" width="22.6" height="22.4" fill="#E8F494"/>
<text x="963.9" y="954">Excitatory neurons</text>
<rect x="932.4" y="959.6" width="22.6" height="22.4" fill="#A4DCD8"/>
<text x="963.9" y="979.2">Fibroblasts</text>
<rect x="932.4" y="984.9" width="22.6" height="22.4" fill="#E0F040"/>
<text x="963.9" y="1004.5">GABAergic neurons</text>
<rect x="932.4" y="1010.1" width="22.6" height="22.4" fill="#D8A8D8"/>
<text x="963.9" y="1029.7">Hepatoblasts</text>
<rect x="932.4" y="1035.4" width="22.6" height="22.4" fill="#CC90CC"/>
<text x="963.9" y="1055">Hepatocytes</text>
<rect x="932.4" y="1060.6" width="22.6" height="22.4" fill="#ECB4DC"/>
<text x="963.9" y="1080.2">Keratinocytes</text>
<rect x="932.4" y="1085.8" width="22.6" height="22.4" fill="#64C498"/>
<text x="963.9" y="1105.4">Lymphatic endothelial cells</text>
<rect x="932.4" y="1111.1" width="22.6" height="22.4" fill="#E8B050"/>
<text x="963.9" y="1130.7">Macrophages</text>
<rect x="932.4" y="1136.3" width="22.6" height="22.4" fill="#EC9838"/>
<text x="963.9" y="1155.9">Neutrophils</text>
<rect x="932.4" y="1161.6" width="22.6" height="22.4" fill="#BCC848"/>
<text x="963.9" y="1181.2">Oligodendrocyte precursor cells</text>
<rect x="932.4" y="1186.8" width="22.6" height="22.4" fill="#0C0808"/>
<text x="963.9" y="1206.4">Proliferative cells</text>
<rect x="932.4" y="1212" width="22.6" height="22.4" fill="#D070B4"/>
<text x="963.9" y="1231.6">Proximal tubule cells</text>
<rect x="932.4" y="1237.3" width="22.6" height="22.4" fill="#E0F050"/>
<text x="963.9" y="1256.9">RELN+ GABAergic neurons</text>
<rect x="932.4" y="1262.5" width="22.6" height="22.4" fill="#C064B8"/>
<text x="963.9" y="1282.1">Smooth muscle cells</text>
<rect x="932.4" y="1287.8" width="22.6" height="22.4" fill="#F0B4D0"/>
<text x="963.9" y="1307.4">Spinous cells</text>
<rect x="932.4" y="1313" width="22.6" height="22.4" fill="#8C1C54"/>
<text x="963.9" y="1332.6">Type A intercalated cells</text>
<rect x="932.4" y="1338.2" width="22.6" height="22.4" fill="#E0F08C"/>
<text x="963.9" y="1357.8">VIP+ GABAergic neurons</text>
<text x="932.2" y="1414.4" font-weight="bold">Target</text>
<rect x="932.2" y="1429.1" width="22.6" height="22.5" fill="#BCE4E4"/>
<text x="963.6" y="1448.7">Activated pancreatic stellate cells</text>
<rect x="932.2" y="1454.3" width="22.6" height="22.5" fill="#ECC468"/>
<text x="963.6" y="1473.9">B cells</text>
<rect x="932.2" y="1479.6" width="22.6" height="22.5" fill="#2E8B4C"/>
<text x="963.6" y="1499.2">Blood vascular endothelial cells</text>
<rect x="932.2" y="1504.8" width="22.6" height="22.5" fill="#D0A030"/>
<text x="963.6" y="1524.4">CD4+ T cells</text>
<rect x="932.2" y="1530" width="22.6" height="22.5" fill="#C49830"/>
<text x="963.6" y="1549.6">Cytotoxic CD8+ T cells</text>
<rect x="932.2" y="1555.2" width="22.6" height="22.5" fill="#E8B058"/>
<text x="963.6" y="1574.8">Dendritic cells</text>
<rect x="932.2" y="1580.5" width="22.6" height="22.5" fill="#3C9C44"/>
<text x="963.6" y="1600.1">Differentiating spermatogonia</text>
<rect x="932.2" y="1605.7" width="22.6" height="22.5" fill="#EC8CA8"/>
<text x="963.6" y="1625.3">Duct cells</text>
<rect x="932.2" y="1630.9" width="22.6" height="22.5" fill="#A8DCD8"/>
<text x="963.6" y="1650.5">Fibroblasts</text>
<rect x="932.2" y="1656.2" width="22.6" height="22.5" fill="#E0F040"/>
<text x="963.6" y="1675.8">GABAergic neurons</text>
<rect x="932.2" y="1681.4" width="22.6" height="22.5" fill="#CC90CC"/>
<text x="963.6" y="1701">Hepatocytes</text>
<rect x="932.2" y="1706.6" width="22.6" height="22.5" fill="#64C498"/>
<text x="963.6" y="1726.2">Lymphatic endothelial cells</text>
<rect x="932.2" y="1731.9" width="22.6" height="22.5" fill="#E8B458"/>
<text x="963.6" y="1751.5">Macrophages</text>
<rect x="932.2" y="1757.1" width="22.6" height="22.5" fill="#E8A858"/>
<text x="963.6" y="1776.7">Mast cells</text>
<rect x="932.2" y="1782.3" width="22.6" height="22.5" fill="#D874BC"/>
<text x="963.6" y="1801.9">Melanocytes</text>
<rect x="932.2" y="1807.5" width="22.6" height="22.5" fill="#EC9838"/>
<text x="963.6" y="1827.1">Neutrophils</text>
<rect x="932.2" y="1832.8" width="22.6" height="22.5" fill="#ECDC8C"/>
<text x="963.6" y="1852.4">NK T cells</text>
<rect x="932.2" y="1858" width="22.6" height="22.5" fill="#B8C848"/>
<text x="963.6" y="1877.6">Oligodendrocyte precursor cells</text>
<rect x="932.2" y="1883.2" width="22.6" height="22.5" fill="#E0E8B0"/>
<text x="963.6" y="1902.8">Oligodendrocytes</text>
<rect x="932.2" y="1908.5" width="22.6" height="22.5" fill="#F4E4B0"/>
<text x="963.6" y="1928.1">Plasma cells</text>
<rect x="932.2" y="1933.7" width="22.6" height="22.5" fill="#DCBC3C"/>
<text x="963.6" y="1953.3">Proliferative CD4+ T cells</text>
<rect x="932.2" y="1958.9" width="22.6" height="22.5" fill="#DCF04C"/>
<text x="963.6" y="1978.5">RELN+ GABAergic neurons</text>
<rect x="932.2" y="1984.2" width="22.6" height="22.5" fill="#C064B8"/>
<text x="963.6" y="2003.8">Smooth muscle cells</text>
<rect x="932.2" y="2009.4" width="22.6" height="22.5" fill="#E4A848"/>
<text x="963.6" y="2029">T cells</text>
<rect x="932.2" y="2034.6" width="22.6" height="22.5" fill="#78CC3C"/>
<text x="963.6" y="2054.2">Undifferentiated spermatogonia</text>
<rect x="932.2" y="2059.8" width="22.6" height="22.5" fill="#D0A030"/>
<text x="963.6" y="2079.4">WC1− γδT cells</text>
<rect x="932.2" y="2085.1" width="22.6" height="22.5" fill="#CC8C2C"/>
<text x="963.6" y="2104.7">WC1+ γδT cells</text>
</g>
<g id="d">
<text x="1404" y="762.5" font-size="41.7">d</text>
<g fill="none" stroke-opacity="0.6" stroke-linecap="round"><path d="M1697.6 835C1727.4 781.4 1683.8 775.3 1697.6 835" stroke="#B2182B" stroke-width="6"/><path d="M1770.9 890.3C1831.4 880.8 1809.4 842.6 1770.9 890.3" stroke="#B2182B" stroke-width="7"/><path d="M1796.5 977.8C1853.7 999.8 1853.7 955.8 1796.5 977.8" stroke="#B2182B" stroke-width="2.5"/><path d="M1768.4 1064.9C1788.3 1122.9 1822 1094.6 1768.4 1064.9" stroke="#B2182B" stroke-width="7"/><path d="M1697.6 1117.8C1683.8 1177.5 1727.4 1171.4 1697.6 1117.8" stroke="#B2182B" stroke-width="5"/><path d="M1612.1 1117.8C1580.5 1170.3 1623.8 1178 1612.1 1117.8" stroke="#B2182B" stroke-width="6"/><path d="M1540.8 1064.5C1484.8 1089.4 1515.9 1120.5 1540.8 1064.5" stroke="#B2182B" stroke-width="0.8"/><path d="M1512.2 975.3C1457.2 948.4 1453.3 992.2 1512.2 975.3" stroke="#2166AC" stroke-width="2.2"/><path d="M1539.8 888.2C1501.3 840.5 1479.3 878.7 1539.8 888.2" stroke="#B2182B" stroke-width="1.8"/><path d="M1612.3 835C1626.1 775.3 1582.5 781.4 1612.3 835" stroke="#2166AC" stroke-width="0.9"/><path d="M1695.7 842.5Q1647.2 968.8 1553.3 1048.3" stroke="#B2182B" stroke-width="0.64"/><path d="M1695.2 842.1Q1623.7 929.8 1529.9 967" stroke="#B2182B" stroke-width="1.94"/><path d="M1694.8 840.9Q1654.9 850.9 1627.7 840.9" stroke="#2166AC" stroke-width="1.3"/><path d="M1764.1 894.5Q1675.4 1003.3 1556.6 1051.5" stroke="#B2182B" stroke-width="0.95"/><path d="M1763.8 892.7Q1683.1 885.4 1626.9 845.6" stroke="#B2182B" stroke-width="0.91"/><path d="M1788.6 978.4Q1677.7 1048.5 1558.8 1055.6" stroke="#B2182B" stroke-width="1.47"/><path d="M1788.9 976.6Q1685.4 930.6 1624.7 849.8" stroke="#2166AC" stroke-width="1.3"/><path d="M1762.5 1060.3Q1654.8 1086.6 1559.6 1060.3" stroke="#B2182B" stroke-width="0.61"/><path d="M1763.4 1058.7Q1662.5 968.8 1621.4 852.9" stroke="#B2182B" stroke-width="1.61"/><path d="M1694.9 1111.3Q1614.7 1104.3 1558.8 1065" stroke="#B2182B" stroke-width="1.64"/><path d="M1696.2 1110Q1622.4 986.4 1617.4 854.8" stroke="#2166AC" stroke-width="1.3"/><path d="M1611.5 1110.7Q1572.9 1094.3 1556.6 1069.1" stroke="#B2182B" stroke-width="1.87"/><path d="M1612 1110.3Q1549.3 1055.2 1526.6 987.8" stroke="#B2182B" stroke-width="1.88"/><path d="M1613.1 1109.9Q1580.6 976.4 1613.1 855.5" stroke="#2166AC" stroke-width="1.3"/><path d="M1546.1 1058.7Q1594.6 932.4 1688.5 852.9" stroke="#B2182B" stroke-width="0.53"/><path d="M1546.6 1059.1Q1635.3 950.3 1754.1 902.1" stroke="#B2182B" stroke-width="0.8"/><path d="M1546.9 1059.7Q1657.8 989.6 1776.7 982.5" stroke="#B2182B" stroke-width="0.6"/><path d="M1547 1060.3Q1654.8 1034 1749.9 1060.3" stroke="#B2182B" stroke-width="0.82"/><path d="M1546.9 1060.9Q1627.1 1067.9 1683 1107.2" stroke="#B2182B" stroke-width="0.82"/><path d="M1546.6 1061.5Q1585.2 1077.9 1601.5 1103.1" stroke="#B2182B" stroke-width="1.39"/><path d="M1544.4 1058.4Q1521.5 1021.3 1522.6 989.7" stroke="#2166AC" stroke-width="0.5"/><path d="M1545 1058.3Q1524.7 975.8 1545 905.8" stroke="#B2182B" stroke-width="1.4"/><path d="M1545.6 1058.4Q1552.7 942.4 1608.8 854.8" stroke="#2166AC" stroke-width="0.5"/><path d="M1519.8 974.6Q1591.3 886.9 1685.1 849.7" stroke="#B2182B" stroke-width="1.14"/><path d="M1520.1 976.4Q1651.5 988.5 1750.7 1055.6" stroke="#B2182B" stroke-width="1.16"/><path d="M1519.8 977Q1623.8 1022.4 1685.2 1103.1" stroke="#B2182B" stroke-width="1.37"/><path d="M1519.3 977.4Q1582 1032.5 1604.7 1099.9" stroke="#B2182B" stroke-width="1.91"/><path d="M1518.8 977.7Q1541.7 1014.8 1540.6 1046.4" stroke="#2166AC" stroke-width="0.5"/><path d="M1518.8 973.9Q1521.4 930.3 1540.6 905.1" stroke="#B2182B" stroke-width="1.62"/><path d="M1519.4 974.2Q1549.5 897 1604.7 852.8" stroke="#2166AC" stroke-width="0.91"/><path d="M1545 893.2Q1565.3 975.8 1545 1045.7" stroke="#B2182B" stroke-width="0.65"/><path d="M1544.4 893.1Q1541.8 936.7 1522.6 961.9" stroke="#2166AC" stroke-width="1.23"/><path d="M1546.6 890Q1573 857.9 1601.4 849.6" stroke="#B2182B" stroke-width="1.15"/><path d="M1615.1 840.9Q1654.9 830.9 1682.2 840.9" stroke="#B2182B" stroke-width="1.31"/><path d="M1615 841.5Q1695.7 848.8 1751.9 888.6" stroke="#B2182B" stroke-width="1.06"/><path d="M1614.7 842.1Q1718.2 888.1 1778.9 968.9" stroke="#B2182B" stroke-width="1.02"/><path d="M1614.2 842.5Q1715.1 932.4 1756.2 1048.3" stroke="#2166AC" stroke-width="0.94"/><path d="M1613.7 842.8Q1687.5 966.4 1692.5 1098" stroke="#B2182B" stroke-width="1.9"/><path d="M1613.1 842.9Q1645.6 976.4 1613.1 1097.3" stroke="#B2182B" stroke-width="1.13"/><path d="M1612.5 842.8Q1605.4 958.8 1549.3 1046.4" stroke="#2166AC" stroke-width="0.5"/><path d="M1611.9 842.5Q1581.8 919.7 1526.6 963.9" stroke="#2166AC" stroke-width="0.87"/><path d="M1611.5 842.1Q1585.1 874.2 1556.7 882.5" stroke="#B2182B" stroke-width="1.88"/><path d="M1698.4 842.1Q1737.5 858.8 1754.1 884.5" stroke="#B2182B" stroke-width="7.06"/><path d="M1697.9 842.6Q1760.1 898.1 1782.3 965.8" stroke="#B2182B" stroke-width="4.13"/><path d="M1697.4 842.8Q1757 942.5 1760.2 1046.3" stroke="#B2182B" stroke-width="4.25"/><path d="M1696.8 842.9Q1729.3 976.4 1696.8 1097.3" stroke="#B2182B" stroke-width="4.33"/><path d="M1696.2 842.8Q1687.5 986.4 1617.4 1098" stroke="#B2182B" stroke-width="4.81"/><path d="M1694.9 841.5Q1626.9 884.3 1558.9 886.6" stroke="#B2182B" stroke-width="2.2"/><path d="M1764.1 892.1Q1725 875.4 1708.4 849.7" stroke="#B2182B" stroke-width="5.84"/><path d="M1766.3 895.2Q1788.2 932.6 1786.4 963.8" stroke="#B2182B" stroke-width="3.69"/><path d="M1765.7 895.3Q1785.1 976.9 1764.6 1045.7" stroke="#B2182B" stroke-width="4.34"/><path d="M1765.1 895.2Q1757.5 1010.9 1701.2 1098" stroke="#B2182B" stroke-width="7.66"/><path d="M1764.6 894.9Q1715.6 1020.9 1621.5 1099.9" stroke="#B2182B" stroke-width="8.54"/><path d="M1763.8 893.9Q1651.9 964.2 1532.1 971.2" stroke="#B2182B" stroke-width="2.46"/><path d="M1763.7 893.3Q1655.1 918.7 1559.6 891.3" stroke="#B2182B" stroke-width="3.11"/><path d="M1789.4 976.1Q1727.2 920.6 1705 852.9" stroke="#B2182B" stroke-width="6.21"/><path d="M1789.9 975.9Q1768 938.5 1769.8 907.3" stroke="#B2182B" stroke-width="5.72"/><path d="M1789.9 979.7Q1787.4 1022.2 1768.9 1046.4" stroke="#B2182B" stroke-width="5.86"/><path d="M1789.4 979.4Q1759.7 1056.1 1705.2 1099.9" stroke="#B2182B" stroke-width="6.02"/><path d="M1788.9 979Q1717.9 1066.1 1624.7 1103.1" stroke="#B2182B" stroke-width="7.55"/><path d="M1788.5 977.8Q1654.1 1009.5 1532.8 975.9" stroke="#B2182B" stroke-width="2.01"/><path d="M1788.6 977.1Q1657.4 964 1558.8 896.1" stroke="#B2182B" stroke-width="5.41"/><path d="M1763.9 1058.4Q1704.3 958.7 1701.1 854.9" stroke="#B2182B" stroke-width="5.9"/><path d="M1764.5 1058.3Q1745.1 976.7 1765.6 907.9" stroke="#B2182B" stroke-width="7.29"/><path d="M1765.1 1058.4Q1767.6 1015.9 1786.1 991.7" stroke="#B2182B" stroke-width="3.61"/><path d="M1762.9 1061.5Q1736.8 1094.2 1708.4 1103" stroke="#B2182B" stroke-width="2.75"/><path d="M1762.6 1060.9Q1695 1104.3 1626.9 1107.2" stroke="#B2182B" stroke-width="4.94"/><path d="M1762.6 1059.7Q1631.2 1047.6 1532 980.5" stroke="#B2182B" stroke-width="2.41"/><path d="M1762.9 1059.1Q1634.5 1002.1 1556.6 900.1" stroke="#B2182B" stroke-width="3.5"/><path d="M1696.8 1109.9Q1664.3 976.4 1696.8 855.5" stroke="#B2182B" stroke-width="2.64"/><path d="M1697.4 1110Q1705 994.3 1761.3 907.2" stroke="#B2182B" stroke-width="6.1"/><path d="M1697.9 1110.3Q1727.6 1033.6 1782.1 989.8" stroke="#B2182B" stroke-width="4.3"/><path d="M1698.4 1110.7Q1724.5 1078 1752.9 1069.2" stroke="#B2182B" stroke-width="6.71"/><path d="M1694.8 1111.9Q1654.9 1121.9 1627.7 1111.9" stroke="#B2182B" stroke-width="5.12"/><path d="M1695.2 1110.7Q1591.2 1065.3 1529.8 984.6" stroke="#B2182B" stroke-width="3.03"/><path d="M1695.7 1110.3Q1594.4 1019.8 1553.3 903.2" stroke="#B2182B" stroke-width="3.44"/><path d="M1613.7 1110Q1622.4 966.4 1692.5 854.8" stroke="#B2182B" stroke-width="7.06"/><path d="M1614.2 1110.3Q1663.2 984.3 1757.3 905.3" stroke="#B2182B" stroke-width="6.97"/><path d="M1614.7 1110.7Q1685.7 1023.6 1778.9 986.6" stroke="#B2182B" stroke-width="4.8"/><path d="M1615 1111.3Q1682.6 1067.9 1750.7 1065" stroke="#B2182B" stroke-width="7.67"/><path d="M1615.1 1111.9Q1654.9 1101.9 1682.2 1111.9" stroke="#B2182B" stroke-width="4.73"/><path d="M1612.5 1110Q1552.6 1009.7 1549.3 905.2" stroke="#B2182B" stroke-width="2.95"/><path d="M1520.1 975.2Q1632 904.8 1751.8 897.9" stroke="#B2182B" stroke-width="2.54"/><path d="M1520.2 975.8Q1654.6 944.1 1775.9 977.7" stroke="#B2182B" stroke-width="2.34"/><path d="M1546.9 890.6Q1614.9 847.8 1682.9 845.5" stroke="#B2182B" stroke-width="3.55"/><path d="M1547 891.2Q1655.6 865.8 1751.1 893.2" stroke="#B2182B" stroke-width="5.47"/><path d="M1546.9 891.9Q1678.1 905 1776.7 972.9" stroke="#B2182B" stroke-width="4.01"/><path d="M1546.6 892.4Q1675 949.4 1752.9 1051.4" stroke="#B2182B" stroke-width="5.76"/><path d="M1546.1 892.8Q1647.4 983.3 1688.5 1099.9" stroke="#B2182B" stroke-width="2.73"/><path d="M1545.6 893.1Q1605.5 993.4 1608.8 1097.9" stroke="#B2182B" stroke-width="5.53"/></g><circle cx="1696.8" cy="840.9" r="13.6" fill="#5DBB50"/><circle cx="1765.7" cy="893.3" r="13.6" fill="#4C87BE"/><circle cx="1790.5" cy="977.8" r="13.6" fill="#E22A27"/><circle cx="1764.5" cy="1060.3" r="13.6" fill="#23317C"/><circle cx="1696.8" cy="1111.9" r="13.6" fill="#6DB1DF"/><circle cx="1613.1" cy="1111.9" r="13.6" fill="#A7582A"/><circle cx="1545" cy="1060.3" r="13.6" fill="#BC9CD0"/><circle cx="1518.2" cy="975.8" r="13.6" fill="#E676C0"/><circle cx="1545" cy="891.2" r="13.6" fill="#E59B31"/><circle cx="1613.1" cy="840.9" r="13.6" fill="#8E44AD"/>
<text x="1669.6" y="765.3" text-anchor="middle" font-weight="bold">Cerebral cortex</text>
<text x="1642.8" y="814.1">GABAergic neurons</text>
<text x="1522.3" y="834.3">Microglia</text>
<text x="1729.8" y="875.9">Excitatory neurons</text>
<text x="1413.8" y="906.9">Oligodendrocyte precursor cells</text>
<text x="1769.9" y="968.8">Astrocytes</text>
<text x="1437.8" y="989">Oligodendrocytes</text>
<text x="1722.4" y="1050.9">VIP+ GABAergic neurons</text>
<text x="1433.6" y="1078.1">Other endothelial cells</text>
<text x="1632.5" y="1136.7">SST+ GABAergic neurons</text>
<text x="1450.1" y="1170.5">RELN+ GABAergic neurons</text>
<g fill="none" stroke-opacity="0.6" stroke-linecap="round"><path d="M1609.4 1325.9C1615.9 1265 1573.4 1276.3 1609.4 1325.9" stroke="#2166AC" stroke-width="1"/><path d="M1748.4 1326.3C1792.5 1283.7 1752.7 1265.1 1748.4 1326.3" stroke="#B2182B" stroke-width="7"/><path d="M1819.2 1467.3C1878.1 1484.2 1874.2 1440.4 1819.2 1467.3" stroke="#B2182B" stroke-width="5"/><path d="M1748 1608.7C1746.8 1670 1788.2 1655 1748 1608.7" stroke="#B2182B" stroke-width="1.2"/><path d="M1608.5 1608.5C1564.4 1651.1 1604.2 1669.7 1608.5 1608.5" stroke="#B2182B" stroke-width="7"/><path d="M1537 1466.1C1482 1439.2 1478.1 1483 1537 1466.1" stroke="#B2182B" stroke-width="1.3"/><path d="M1613 1331.7Q1678.5 1315.5 1731.3 1331.7" stroke="#B2182B" stroke-width="1.26"/><path d="M1612.7 1332.8Q1728.4 1375.5 1801.1 1459.6" stroke="#B2182B" stroke-width="0.84"/><path d="M1611.9 1333.5Q1711 1451.2 1739.4 1590" stroke="#B2182B" stroke-width="0.5"/><path d="M1611 1333.7Q1643.6 1467.4 1611 1588.5" stroke="#B2182B" stroke-width="1.25"/><path d="M1610.1 1333.5Q1593.2 1407.3 1549.6 1453.6" stroke="#2166AC" stroke-width="0.5"/><path d="M1743.9 1331.7Q1678.5 1347.9 1625.6 1331.7" stroke="#2166AC" stroke-width="0.56"/><path d="M1744.2 1332.8Q1660.6 1423.5 1555.2 1458.5" stroke="#B2182B" stroke-width="1.37"/><path d="M1811.5 1466.7Q1695.8 1424 1623.1 1339.9" stroke="#2166AC" stroke-width="0.89"/><path d="M1811.2 1467.8Q1678 1499.6 1557.6 1466.7" stroke="#B2182B" stroke-width="0.7"/><path d="M1745 1601.3Q1645.9 1483.6 1617.5 1344.8" stroke="#B2182B" stroke-width="0.53"/><path d="M1744.2 1602Q1628.1 1559.2 1555.1 1474.7" stroke="#B2182B" stroke-width="1.15"/><path d="M1611 1601.1Q1578.4 1467.4 1611 1346.3" stroke="#B2182B" stroke-width="1.05"/><path d="M1610.1 1601.3Q1560.6 1543 1549.5 1479.7" stroke="#B2182B" stroke-width="1.86"/><path d="M1543.9 1464.8Q1560.8 1391 1604.4 1344.7" stroke="#2166AC" stroke-width="0.5"/><path d="M1544.7 1465.5Q1628.3 1374.8 1733.7 1339.8" stroke="#B2182B" stroke-width="1.19"/><path d="M1545 1466.6Q1678.2 1434.8 1798.6 1467.7" stroke="#B2182B" stroke-width="1.92"/><path d="M1544.7 1467.7Q1660.8 1510.5 1733.8 1595" stroke="#B2182B" stroke-width="0.61"/><path d="M1543.9 1468.4Q1593.4 1526.7 1604.5 1590" stroke="#B2182B" stroke-width="1.92"/><path d="M1746.8 1333.5Q1795.9 1391.7 1806.7 1454.7" stroke="#B2182B" stroke-width="6.5"/><path d="M1745.9 1333.7Q1778.5 1467.4 1745.9 1588.5" stroke="#B2182B" stroke-width="4.5"/><path d="M1745 1333.5Q1711 1483.6 1617.5 1590" stroke="#B2182B" stroke-width="9"/><path d="M1812.3 1466Q1763.2 1407.8 1752.4 1344.8" stroke="#B2182B" stroke-width="5"/><path d="M1812.3 1469.6Q1795.8 1543.5 1752.4 1590" stroke="#B2182B" stroke-width="3.5"/><path d="M1811.5 1468.9Q1728.3 1559.7 1623.1 1595" stroke="#B2182B" stroke-width="6.5"/><path d="M1745.9 1601.1Q1713.3 1467.4 1745.9 1346.3" stroke="#B2182B" stroke-width="3"/><path d="M1746.8 1601.3Q1763.3 1527.4 1806.7 1480.9" stroke="#B2182B" stroke-width="2.2"/><path d="M1743.9 1603.1Q1678.5 1619.3 1625.6 1603.1" stroke="#B2182B" stroke-width="3.5"/><path d="M1611.9 1601.3Q1645.9 1451.2 1739.4 1344.8" stroke="#B2182B" stroke-width="6.5"/><path d="M1612.7 1602Q1695.9 1511.2 1801.1 1475.9" stroke="#B2182B" stroke-width="5"/><path d="M1613 1603.1Q1678.5 1586.9 1731.3 1603.1" stroke="#B2182B" stroke-width="4"/></g><circle cx="1611" cy="1331.7" r="13.6" fill="#5DBB50"/><circle cx="1745.9" cy="1331.7" r="13.6" fill="#4C87BE"/><circle cx="1813.2" cy="1467.8" r="13.6" fill="#E22A27"/><circle cx="1745.9" cy="1603.1" r="13.6" fill="#E676C0"/><circle cx="1611" cy="1603.1" r="13.6" fill="#E59B31"/><circle cx="1543" cy="1466.6" r="13.6" fill="#8E44AD"/>
<text x="1660.5" y="1256.6" text-anchor="middle" font-weight="bold">Medulla oblongata</text>
<text x="1465.4" y="1318.1">GABAergic neurons</text>
<text x="1708" y="1306.1">Excitatory neurons</text>
<text x="1774" y="1458.8">Astrocytes</text>
<text x="1492.2" y="1487.2">Microglia</text>
<text x="1682.4" y="1606.9">Oligodendrocytes</text>
<text x="1434.9" y="1654.7">Oligodendrocyte precursor cells</text>
<g fill="none" stroke-opacity="0.6" stroke-linecap="round"><path d="M1726.9 1809.9C1760.4 1758.6 1717.3 1749.4 1726.9 1809.9" stroke="#2166AC" stroke-width="0.9"/><path d="M1553 1865.2C1514.5 1817.5 1492.5 1855.7 1553 1865.2" stroke="#B2182B" stroke-width="8"/><path d="M1834.8 1950.9C1892.7 1970.9 1891.2 1926.9 1834.8 1950.9" stroke="#B2182B" stroke-width="7"/><path d="M1726.7 2094C1715 2154.2 1758.3 2146.5 1726.7 2094" stroke="#B2182B" stroke-width="6"/><path d="M1552.8 2037C1491.6 2041.3 1510.2 2081.1 1552.8 2037" stroke="#B2182B" stroke-width="1.5"/><path d="M1726.9 1817.4Q1793.5 1871.1 1820 1939.5" stroke="#B2182B" stroke-width="1"/><path d="M1725.7 1817.8Q1758.4 1951.9 1725.7 2073.5" stroke="#B2182B" stroke-width="0.6"/><path d="M1724.5 1817.4Q1668.2 1945.2 1567.1 2022.9" stroke="#B2182B" stroke-width="0.5"/><path d="M1723.8 1816.4Q1648.2 1862.1 1572.1 1863.8" stroke="#2166AC" stroke-width="0.8"/><path d="M1827.6 1949.5Q1761 1895.8 1734.5 1827.4" stroke="#B2182B" stroke-width="0.7"/><path d="M1725.7 2086.1Q1693 1951.9 1725.7 1830.4" stroke="#B2182B" stroke-width="2"/><path d="M1559.4 2032.9Q1615.7 1905.1 1716.8 1827.4" stroke="#B2182B" stroke-width="0.6"/><path d="M1560.1 2033.9Q1683.5 1960.3 1814.8 1955.4" stroke="#B2182B" stroke-width="2"/><path d="M1560.1 2035.1Q1648.4 2041.2 1711.8 2083.7" stroke="#B2182B" stroke-width="1.5"/><path d="M1558.2 2032.5Q1538.2 1951.3 1558.2 1882.8" stroke="#B2182B" stroke-width="1.5"/><path d="M1560.1 1867.6Q1635.7 1821.9 1711.8 1820.2" stroke="#B2182B" stroke-width="1"/><path d="M1827.6 1952.7Q1793.7 2032 1734.5 2076.4" stroke="#B2182B" stroke-width="5"/><path d="M1826.9 1951.7Q1703.5 2025.3 1572.2 2030.2" stroke="#B2182B" stroke-width="5"/><path d="M1826.9 1950.5Q1683.6 1942.1 1572.2 1872.5" stroke="#B2182B" stroke-width="4.5"/><path d="M1726.9 2086.5Q1760.8 2007.2 1820 1962.8" stroke="#B2182B" stroke-width="2.5"/><path d="M1723.8 2087.5Q1635.5 2081.4 1572.1 2038.9" stroke="#B2182B" stroke-width="3.5"/><path d="M1724.5 2086.5Q1615.6 1998.2 1567 1879.8" stroke="#B2182B" stroke-width="4"/><path d="M1560.1 1868.8Q1703.4 1877.2 1814.8 1946.8" stroke="#B2182B" stroke-width="7.5"/><path d="M1559.4 1869.8Q1668.3 1958.1 1716.9 2076.5" stroke="#B2182B" stroke-width="6"/><path d="M1558.2 1870.2Q1578.2 1951.3 1558.2 2019.9" stroke="#B2182B" stroke-width="2.5"/></g><circle cx="1725.7" cy="1815.8" r="13.6" fill="#4C87BE"/><circle cx="1828.8" cy="1951.1" r="13.6" fill="#E22A27"/><circle cx="1725.7" cy="2088.1" r="13.6" fill="#E59B31"/><circle cx="1558.2" cy="2034.5" r="13.6" fill="#8E44AD"/><circle cx="1558.2" cy="1868.2" r="13.6" fill="#5DBB50"/>
<text x="1675.8" y="1741.8" text-anchor="middle" font-weight="bold">Cerebellum</text>
<text x="1668" y="1788.2">Excitatory neurons</text>
<text x="1489.3" y="1870.7">Granule cells</text>
<text x="1827.6" y="1952.8">Astrocytes</text>
<text x="1462.5" y="2066.7">Oligodendrocytes</text>
<text x="1716.2" y="2089.4">Purkinje cells</text>
<text transform="translate(1970.8 1505) rotate(-90)" text-anchor="middle" font-size="21.3">Differential interaction</text>
<text transform="translate(1993.4 1505) rotate(-90)" text-anchor="middle" font-size="21.3">strength (Female vs Male)</text>
<text transform="translate(2031 1518) rotate(-90)" font-size="21.3">Up</text>
<text transform="translate(2057.5 1518) rotate(-90)" font-size="21.3">Down</text>
<line x1="2025.6" y1="1529.7" x2="2025.6" y2="1583.3" stroke="#B2182B" stroke-width="1" stroke-opacity="0.7"/>
<line x1="2051.6" y1="1529.7" x2="2051.6" y2="1583.3" stroke="#2166AC" stroke-width="1" stroke-opacity="0.7"/>
</g>
<g id="e">
<text x="0" y="2269.6" font-size="41.7">e</text>
<g stroke="#111" stroke-width="1.3"><rect x="16.7" y="2279.2" width="28.05" height="18.7" fill="#E8A89C"/><rect x="44.8" y="2279.2" width="28.05" height="18.7" fill="#E8A89C"/><rect x="72.8" y="2279.2" width="28.05" height="18.7" fill="#E8A89C"/><rect x="100.9" y="2279.2" width="28.05" height="18.7" fill="#E8A89C"/><rect x="128.9" y="2279.2" width="28.05" height="18.7" fill="#E8A89C"/><rect x="156.9" y="2279.2" width="28.05" height="18.7" fill="#E8A89C"/><rect x="185" y="2279.2" width="28.05" height="18.7" fill="#E8A89C"/><rect x="213" y="2279.2" width="28.05" height="18.7" fill="#E8A89C"/><rect x="241.1" y="2279.2" width="28.05" height="18.7" fill="#E8A89C"/><rect x="269.2" y="2279.2" width="28.05" height="18.7" fill="#E8A89C"/><rect x="297.2" y="2279.2" width="28.05" height="18.7" fill="#6CC4E8"/><rect x="325.2" y="2279.2" width="28.05" height="18.7" fill="#6CC4E8"/><rect x="353.3" y="2279.2" width="28.05" height="18.7" fill="#6CC4E8"/><rect x="381.4" y="2279.2" width="28.05" height="18.7" fill="#6CC4E8"/><rect x="409.4" y="2279.2" width="28.05" height="18.7" fill="#6CC4E8"/><rect x="437.4" y="2279.2" width="28.05" height="18.7" fill="#6CC4E8"/><rect x="465.5" y="2279.2" width="28.05" height="18.7" fill="#6CC4E8"/><rect x="493.6" y="2279.2" width="28.05" height="18.7" fill="#6CC4E8"/><rect x="521.6" y="2279.2" width="28.05" height="18.7" fill="#6CC4E8"/><rect x="549.7" y="2279.2" width="28.05" height="18.7" fill="#6CC4E8"/><rect x="577.7" y="2279.2" width="28.05" height="18.7" fill="#6CC4E8"/><rect x="605.8" y="2279.2" width="28.05" height="18.7" fill="#6CC4E8"/><rect x="633.8" y="2279.2" width="28.05" height="18.7" fill="#6CC4E8"/><rect x="661.9" y="2279.2" width="28.05" height="18.7" fill="#6CC4E8"/><rect x="689.9" y="2279.2" width="28.05" height="18.7" fill="#6CC4E8"/><rect x="718" y="2279.2" width="28.05" height="18.7" fill="#6CC4E8"/><rect x="746" y="2279.2" width="28.05" height="18.7" fill="#6CC4E8"/><rect x="774.1" y="2279.2" width="28.05" height="18.7" fill="#6CC4E8"/><rect x="802.1" y="2279.2" width="28.05" height="18.7" fill="#6CC4E8"/><rect x="830.2" y="2279.2" width="28.05" height="18.7" fill="#6CC4E8"/><rect x="858.2" y="2279.2" width="28.05" height="18.7" fill="#6CC4E8"/><rect x="886.3" y="2279.2" width="28.05" height="18.7" fill="#6CC4E8"/><rect x="914.3" y="2279.2" width="28.05" height="18.7" fill="#6CC4E8"/><rect x="942.4" y="2279.2" width="28.05" height="18.7" fill="#6CC4E8"/><rect x="970.4" y="2279.2" width="28.05" height="18.7" fill="#6CC4E8"/><rect x="998.5" y="2279.2" width="28.05" height="18.7" fill="#6CC4E8"/><rect x="16.7" y="2304.6" width="28.05" height="18.7" fill="#E8A89C"/><rect x="44.8" y="2304.6" width="28.05" height="18.7" fill="#E8A89C"/><rect x="72.8" y="2304.6" width="28.05" height="18.7" fill="#E8A89C"/><rect x="100.9" y="2304.6" width="28.05" height="18.7" fill="#E8A89C"/><rect x="128.9" y="2304.6" width="28.05" height="18.7" fill="#E8A89C"/><rect x="156.9" y="2304.6" width="28.05" height="18.7" fill="#E8A89C"/><rect x="185" y="2304.6" width="28.05" height="18.7" fill="#E8A89C"/><rect x="213" y="2304.6" width="28.05" height="18.7" fill="#E8A89C"/><rect x="241.1" y="2304.6" width="28.05" height="18.7" fill="#D0E8A0"/><rect x="269.2" y="2304.6" width="28.05" height="18.7" fill="#D0E8A0"/><rect x="297.2" y="2304.6" width="28.05" height="18.7" fill="#ECB868"/><rect x="325.2" y="2304.6" width="28.05" height="18.7" fill="#ECB868"/><rect x="353.3" y="2304.6" width="28.05" height="18.7" fill="#D8B0DC"/><rect x="381.4" y="2304.6" width="28.05" height="18.7" fill="#D8B0DC"/><rect x="409.4" y="2304.6" width="28.05" height="18.7" fill="#C8BC98"/><rect x="437.4" y="2304.6" width="28.05" height="18.7" fill="#C8BC98"/><rect x="465.5" y="2304.6" width="28.05" height="18.7" fill="#6CC4E8"/><rect x="493.6" y="2304.6" width="28.05" height="18.7" fill="#6CC4E8"/><rect x="521.6" y="2304.6" width="28.05" height="18.7" fill="#E8A89C"/><rect x="549.7" y="2304.6" width="28.05" height="18.7" fill="#E8A89C"/><rect x="577.7" y="2304.6" width="28.05" height="18.7" fill="#E8A89C"/><rect x="605.8" y="2304.6" width="28.05" height="18.7" fill="#E8A89C"/><rect x="633.8" y="2304.6" width="28.05" height="18.7" fill="#E8A89C"/><rect x="661.9" y="2304.6" width="28.05" height="18.7" fill="#E8A89C"/><rect x="689.9" y="2304.6" width="28.05" height="18.7" fill="#E8A89C"/><rect x="718" y="2304.6" width="28.05" height="18.7" fill="#E8A89C"/><rect x="746" y="2304.6" width="28.05" height="18.7" fill="#E8A89C"/><rect x="774.1" y="2304.6" width="28.05" height="18.7" fill="#E8A89C"/><rect x="802.1" y="2304.6" width="28.05" height="18.7" fill="#E8A89C"/><rect x="830.2" y="2304.6" width="28.05" height="18.7" fill="#E8A89C"/><rect x="858.2" y="2304.6" width="28.05" height="18.7" fill="#E8A89C"/><rect x="886.3" y="2304.6" width="28.05" height="18.7" fill="#E8A89C"/><rect x="914.3" y="2304.6" width="28.05" height="18.7" fill="#E8A89C"/><rect x="942.4" y="2304.6" width="28.05" height="18.7" fill="#E8A89C"/><rect x="970.4" y="2304.6" width="28.05" height="18.7" fill="#D0E8A0"/><rect x="998.5" y="2304.6" width="28.05" height="18.7" fill="#D0E8A0"/><rect x="16.7" y="2329.2" width="28.05" height="18.7" fill="#E8A89C"/><rect x="44.8" y="2329.2" width="28.05" height="18.7" fill="#E8A89C"/><rect x="72.8" y="2329.2" width="28.05" height="18.7" fill="#D0E8A0"/><rect x="100.9" y="2329.2" width="28.05" height="18.7" fill="#D0E8A0"/><rect x="128.9" y="2329.2" width="28.05" height="18.7" fill="#ECB868"/><rect x="156.9" y="2329.2" width="28.05" height="18.7" fill="#ECB868"/><rect x="185" y="2329.2" width="28.05" height="18.7" fill="#D8B0DC"/><rect x="213" y="2329.2" width="28.05" height="18.7" fill="#D8B0DC"/><rect x="241.1" y="2329.2" width="28.05" height="18.7" fill="#ECB868"/><rect x="269.2" y="2329.2" width="28.05" height="18.7" fill="#ECB868"/><rect x="297.2" y="2329.2" width="28.05" height="18.7" fill="#ECB868"/><rect x="325.2" y="2329.2" width="28.05" height="18.7" fill="#ECB868"/><rect x="353.3" y="2329.2" width="28.05" height="18.7" fill="#ECB868"/><rect x="381.4" y="2329.2" width="28.05" height="18.7" fill="#ECB868"/><rect x="409.4" y="2329.2" width="28.05" height="18.7" fill="#ECB868"/><rect x="437.4" y="2329.2" width="28.05" height="18.7" fill="#ECB868"/><rect x="465.5" y="2329.2" width="28.05" height="18.7" fill="#ECB868"/><rect x="493.6" y="2329.2" width="28.05" height="18.7" fill="#ECB868"/><rect x="521.6" y="2329.2" width="28.05" height="18.7" fill="#C8BC98"/><rect x="549.7" y="2329.2" width="28.05" height="18.7" fill="#C8BC98"/><rect x="577.7" y="2329.2" width="28.05" height="18.7" fill="#6CC4E8"/><rect x="605.8" y="2329.2" width="28.05" height="18.7" fill="#6CC4E8"/><rect x="633.8" y="2329.2" width="28.05" height="18.7" fill="#98DCB8"/><rect x="661.9" y="2329.2" width="28.05" height="18.7" fill="#98DCB8"/><rect x="689.9" y="2329.2" width="28.05" height="18.7" fill="#E8A89C"/><rect x="718" y="2329.2" width="28.05" height="18.7" fill="#E8A89C"/><rect x="746" y="2329.2" width="28.05" height="18.7" fill="#D0E8A0"/><rect x="774.1" y="2329.2" width="28.05" height="18.7" fill="#D0E8A0"/><rect x="802.1" y="2329.2" width="28.05" height="18.7" fill="#8080C4"/><rect x="830.2" y="2329.2" width="28.05" height="18.7" fill="#8080C4"/><rect x="858.2" y="2329.2" width="28.05" height="18.7" fill="#ECB868"/><rect x="886.3" y="2329.2" width="28.05" height="18.7" fill="#ECB868"/><rect x="914.3" y="2329.2" width="28.05" height="18.7" fill="#D8B0DC"/><rect x="942.4" y="2329.2" width="28.05" height="18.7" fill="#D8B0DC"/><rect x="970.4" y="2329.2" width="28.05" height="18.7" fill="#ECB868"/><rect x="998.5" y="2329.2" width="28.05" height="18.7" fill="#ECB868"/><rect x="16.7" y="2354.2" width="28.05" height="18.7" fill="#E8A89C"/><rect x="44.8" y="2354.2" width="28.05" height="18.7" fill="#6CC4E8"/><rect x="72.8" y="2354.2" width="28.05" height="18.7" fill="#E8A89C"/><rect x="100.9" y="2354.2" width="28.05" height="18.7" fill="#6CC4E8"/><rect x="128.9" y="2354.2" width="28.05" height="18.7" fill="#E8A89C"/><rect x="156.9" y="2354.2" width="28.05" height="18.7" fill="#6CC4E8"/><rect x="185" y="2354.2" width="28.05" height="18.7" fill="#E8A89C"/><rect x="213" y="2354.2" width="28.05" height="18.7" fill="#6CC4E8"/><rect x="241.1" y="2354.2" width="28.05" height="18.7" fill="#E8A89C"/><rect x="269.2" y="2354.2" width="28.05" height="18.7" fill="#6CC4E8"/><rect x="297.2" y="2354.2" width="28.05" height="18.7" fill="#E8A89C"/><rect x="325.2" y="2354.2" width="28.05" height="18.7" fill="#6CC4E8"/><rect x="353.3" y="2354.2" width="28.05" height="18.7" fill="#E8A89C"/><rect x="381.4" y="2354.2" width="28.05" height="18.7" fill="#6CC4E8"/><rect x="409.4" y="2354.2" width="28.05" height="18.7" fill="#E8A89C"/><rect x="437.4" y="2354.2" width="28.05" height="18.7" fill="#6CC4E8"/><rect x="465.5" y="2354.2" width="28.05" height="18.7" fill="#E8A89C"/><rect x="493.6" y="2354.2" width="28.05" height="18.7" fill="#6CC4E8"/><rect x="521.6" y="2354.2" width="28.05" height="18.7" fill="#E8A89C"/><rect x="549.7" y="2354.2" width="28.05" height="18.7" fill="#6CC4E8"/><rect x="577.7" y="2354.2" width="28.05" height="18.7" fill="#E8A89C"/><rect x="605.8" y="2354.2" width="28.05" height="18.7" fill="#6CC4E8"/><rect x="633.8" y="2354.2" width="28.05" height="18.7" fill="#E8A89C"/><rect x="661.9" y="2354.2" width="28.05" height="18.7" fill="#6CC4E8"/><rect x="689.9" y="2354.2" width="28.05" height="18.7" fill="#E8A89C"/><rect x="718" y="2354.2" width="28.05" height="18.7" fill="#6CC4E8"/><rect x="746" y="2354.2" width="28.05" height="18.7" fill="#E8A89C"/><rect x="774.1" y="2354.2" width="28.05" height="18.7" fill="#6CC4E8"/><rect x="802.1" y="2354.2" width="28.05" height="18.7" fill="#E8A89C"/><rect x="830.2" y="2354.2" width="28.05" height="18.7" fill="#6CC4E8"/><rect x="858.2" y="2354.2" width="28.05" height="18.7" fill="#E8A89C"/><rect x="886.3" y="2354.2" width="28.05" height="18.7" fill="#6CC4E8"/><rect x="914.3" y="2354.2" width="28.05" height="18.7" fill="#E8A89C"/><rect x="942.4" y="2354.2" width="28.05" height="18.7" fill="#6CC4E8"/><rect x="970.4" y="2354.2" width="28.05" height="18.7" fill="#E8A89C"/><rect x="998.5" y="2354.2" width="28.05" height="18.7" fill="#6CC4E8"/></g>
<text x="1033.8" y="2298.8">Tissue</text>
<text x="1033.8" y="2322.5">Source</text>
<text x="1033.8" y="2345.4">Target</text>
<text x="1033.8" y="2370.8">Sex</text>
<path d="M18 2411.7H1028M18 2465H1028M18 2518.3H1028M18 2571.7H1028M18 2625H1028M18 2678.3H1028M34.2 2381V2711M62.1 2381V2711M90.1 2381V2711M118 2381V2711M145.9 2381V2711M173.9 2381V2711M201.8 2381V2711M229.7 2381V2711M257.6 2381V2711M285.6 2381V2711M313.5 2381V2711M341.4 2381V2711M369.4 2381V2711M397.3 2381V2711M425.2 2381V2711M453.1 2381V2711M481.1 2381V2711M509 2381V2711M536.9 2381V2711M564.9 2381V2711M592.8 2381V2711M620.7 2381V2711M648.7 2381V2711M676.6 2381V2711M704.5 2381V2711M732.5 2381V2711M760.4 2381V2711M788.3 2381V2711M816.2 2381V2711M844.2 2381V2711M872.1 2381V2711M900 2381V2711M928 2381V2711M955.9 2381V2711M983.8 2381V2711M1011.8 2381V2711" stroke="#E9E9E9" stroke-width="1.2" fill="none"/>
<rect x="17.5" y="2380" width="1011.3" height="330.3" fill="none" stroke="#333" stroke-width="1.2"/>
<path d="M1028.8 2411.7h5.5M1028.8 2465h5.5M1028.8 2518.3h5.5M1028.8 2571.7h5.5M1028.8 2625h5.5M1028.8 2678.3h5.5" stroke="#222" stroke-width="1.3" fill="none"/>
<g stroke="#111" stroke-width="1"><circle cx="90.1" cy="2411.7" r="7.8" fill="#4A94BC"/><circle cx="118" cy="2411.7" r="7.8" fill="#98E0A0"/><circle cx="760.4" cy="2411.7" r="7.8" fill="#B0E090"/><circle cx="788.3" cy="2411.7" r="7.8" fill="#4A54A4"/><circle cx="34.2" cy="2465" r="7.8" fill="#4A4490"/><circle cx="62.1" cy="2465" r="7.8" fill="#F09850"/><circle cx="201.8" cy="2465" r="7.8" fill="#4A4490"/><circle cx="229.7" cy="2465" r="7.8" fill="#98E0A8"/><circle cx="145.9" cy="2518.3" r="7.8" fill="#80DCA8"/><circle cx="173.9" cy="2518.3" r="7.8" fill="#F07C40"/><circle cx="201.8" cy="2518.3" r="7.8" fill="#80DCA0"/><circle cx="229.7" cy="2518.3" r="7.8" fill="#F06C40"/><circle cx="257.6" cy="2518.3" r="7.8" fill="#8CE0A4"/><circle cx="285.6" cy="2518.3" r="7.8" fill="#EC6444"/><circle cx="313.5" cy="2518.3" r="7.8" fill="#443C8C"/><circle cx="341.4" cy="2518.3" r="7.8" fill="#E85848"/><circle cx="369.4" cy="2518.3" r="7.8" fill="#4A4490"/><circle cx="397.3" cy="2518.3" r="7.8" fill="#E04450"/><circle cx="481.1" cy="2518.3" r="7.8" fill="#4A4C9C"/><circle cx="509" cy="2518.3" r="7.8" fill="#E4484C"/><circle cx="536.9" cy="2518.3" r="7.8" fill="#4A4490"/><circle cx="564.9" cy="2518.3" r="7.8" fill="#EC6048"/><circle cx="592.8" cy="2518.3" r="7.8" fill="#4A4494"/><circle cx="620.7" cy="2518.3" r="7.8" fill="#E04850"/><circle cx="816.2" cy="2518.3" r="7.8" fill="#4A4C9C"/><circle cx="844.2" cy="2518.3" r="7.8" fill="#E4484C"/><circle cx="872.1" cy="2518.3" r="7.8" fill="#4A74C0"/><circle cx="900" cy="2518.3" r="7.8" fill="#DC3C50"/><circle cx="928" cy="2518.3" r="7.8" fill="#4A50A0"/><circle cx="955.9" cy="2518.3" r="7.8" fill="#F07C48"/><circle cx="983.8" cy="2518.3" r="7.8" fill="#4A4C9C"/><circle cx="1011.8" cy="2518.3" r="7.8" fill="#F07C48"/><circle cx="536.9" cy="2571.7" r="7.8" fill="#4A4C9C"/><circle cx="564.9" cy="2571.7" r="7.8" fill="#DC3C50"/><circle cx="648.7" cy="2571.7" r="7.8" fill="#4A94BC"/><circle cx="676.6" cy="2571.7" r="7.8" fill="#DC3C50"/><circle cx="816.2" cy="2571.7" r="7.8" fill="#4A7CC4"/><circle cx="844.2" cy="2571.7" r="7.8" fill="#DC4050"/><circle cx="145.9" cy="2625" r="7.8" fill="#4A6CBC"/><circle cx="173.9" cy="2625" r="7.8" fill="#F09850"/><circle cx="201.8" cy="2625" r="7.8" fill="#4A4490"/><circle cx="229.7" cy="2625" r="7.8" fill="#C4D878"/><circle cx="257.6" cy="2625" r="7.8" fill="#4A74C0"/><circle cx="285.6" cy="2625" r="7.8" fill="#B0E490"/><circle cx="313.5" cy="2625" r="7.8" fill="#4A7CC8"/><circle cx="341.4" cy="2625" r="7.8" fill="#F09050"/><circle cx="425.2" cy="2625" r="7.8" fill="#4A74C0"/><circle cx="453.1" cy="2625" r="7.8" fill="#F09850"/><circle cx="648.7" cy="2625" r="7.8" fill="#60D4B0"/><circle cx="676.6" cy="2625" r="7.8" fill="#F07040"/><circle cx="704.5" cy="2625" r="7.8" fill="#4A54A4"/><circle cx="732.5" cy="2625" r="7.8" fill="#F06840"/><circle cx="816.2" cy="2625" r="7.8" fill="#4A50A0"/><circle cx="844.2" cy="2625" r="7.8" fill="#E4C468"/><circle cx="872.1" cy="2625" r="7.8" fill="#4A74C0"/><circle cx="900" cy="2625" r="7.8" fill="#F08848"/><circle cx="928" cy="2625" r="7.8" fill="#4A54A4"/><circle cx="955.9" cy="2625" r="7.8" fill="#F0A050"/><circle cx="145.9" cy="2678.3" r="7.8" fill="#4A6CBC"/><circle cx="173.9" cy="2678.3" r="7.8" fill="#A0E498"/><circle cx="313.5" cy="2678.3" r="7.8" fill="#443C8C"/><circle cx="341.4" cy="2678.3" r="7.8" fill="#F09850"/><circle cx="369.4" cy="2678.3" r="7.8" fill="#4A4490"/><circle cx="397.3" cy="2678.3" r="7.8" fill="#F0A050"/><circle cx="425.2" cy="2678.3" r="7.8" fill="#4A6CBC"/><circle cx="453.1" cy="2678.3" r="7.8" fill="#D8D070"/><circle cx="481.1" cy="2678.3" r="7.8" fill="#4A4490"/><circle cx="509" cy="2678.3" r="7.8" fill="#DCD470"/><circle cx="648.7" cy="2678.3" r="7.8" fill="#4A6CBC"/><circle cx="676.6" cy="2678.3" r="7.8" fill="#F0AC50"/><circle cx="704.5" cy="2678.3" r="7.8" fill="#443C8C"/><circle cx="732.5" cy="2678.3" r="7.8" fill="#F0AC58"/><circle cx="816.2" cy="2678.3" r="7.8" fill="#443C8C"/><circle cx="844.2" cy="2678.3" r="7.8" fill="#98E4A4"/><circle cx="872.1" cy="2678.3" r="7.8" fill="#4A4490"/><circle cx="900" cy="2678.3" r="7.8" fill="#E0C868"/><circle cx="928" cy="2678.3" r="7.8" fill="#443C8C"/><circle cx="955.9" cy="2678.3" r="7.8" fill="#C8DC78"/></g>
<g fill="none" stroke="#C8252C" stroke-width="1.4"><rect x="519.3" y="2556" width="59.5" height="29.5"/><rect x="631.1" y="2556" width="59.5" height="29.5"/><rect x="798.6" y="2556" width="59.5" height="29.5"/></g>
<text x="1044.2" y="2418">APP − CD74</text>
<text x="1044.2" y="2471.3">CNTN1 − NRCAM</text>
<text x="1044.2" y="2524.6">NEGR1 − NEGR1</text>
<text x="1044.2" y="2578">NRG3 − ERBB4</text>
<text x="1044.2" y="2631.3">NRXN1 − NLGN1</text>
<text x="1044.2" y="2684.6">NRXN3 − NLGN1</text>
<text x="1285.2" y="2299.8" font-weight="bold">Prob</text>
<defs><linearGradient id="ge" x1="0" y1="0" x2="0" y2="1"><stop offset="0" stop-color="#D8404C"/><stop offset="0.18" stop-color="#F07C44"/><stop offset="0.33" stop-color="#E8C468"/><stop offset="0.5" stop-color="#90DC9C"/><stop offset="0.68" stop-color="#54C0A8"/><stop offset="0.85" stop-color="#4A7CC0"/><stop offset="1" stop-color="#5A4898"/></linearGradient></defs>
<rect x="1284.2" y="2312.9" width="31.5" height="157.3" fill="url(#ge)"/>
<text x="1326.3" y="2336.2">0.4</text>
<text x="1326.3" y="2373">0.3</text>
<text x="1326.3" y="2409.8">0.2</text>
<text x="1326.3" y="2446.6">0.1</text>
<path d="M1284.2 2327.4h5M1315.7 2327.4h-5M1284.2 2364.2h5M1315.7 2364.2h-5M1284.2 2401h5M1315.7 2401h-5M1284.2 2437.8h5M1315.7 2437.8h-5" stroke="#fff" stroke-width="0.9" fill="none" stroke-opacity="0.8"/>
<text x="1406.1" y="2299.8" font-weight="bold">Tissue</text>
<rect x="1405.2" y="2311.9" width="18.6" height="20.3" fill="#E8A89C" stroke="#111" stroke-width="1.3"/>
<text x="1432.8" y="2331.3">Medulla oblongata</text>
<rect x="1405.2" y="2340.8" width="18.6" height="20.3" fill="#6CC4E8" stroke="#111" stroke-width="1.3"/>
<text x="1432.8" y="2360.2">Cerebral cortex</text>
<text x="1406.1" y="2411.1" font-weight="bold">Sex</text>
<rect x="1405.2" y="2420.3" width="18.6" height="20.3" fill="#E8A89C" stroke="#111" stroke-width="1.3"/>
<text x="1432.8" y="2439.7">Male</text>
<rect x="1405.2" y="2450.3" width="18.6" height="20.3" fill="#6CC4E8" stroke="#111" stroke-width="1.3"/>
<text x="1432.8" y="2469.7">Female</text>
<text x="1403.2" y="2518.6" font-weight="bold">Source</text>
<rect x="1401.8" y="2535.5" width="18.6" height="20.3" fill="#E8A89C" stroke="#111" stroke-width="1.3"/>
<text x="1430.3" y="2554.9">Excitatory neurons</text>
<rect x="1401.8" y="2564.2" width="18.6" height="20.3" fill="#D0E8A0" stroke="#111" stroke-width="1.3"/>
<text x="1430.3" y="2583.6">Astrocytes</text>
<rect x="1401.8" y="2592.8" width="18.6" height="20.3" fill="#ECB868" stroke="#111" stroke-width="1.3"/>
<text x="1430.3" y="2612.2">VIP+ GABAergic neurons</text>
<rect x="1401.8" y="2621.4" width="18.6" height="20.3" fill="#D8B0DC" stroke="#111" stroke-width="1.3"/>
<text x="1430.3" y="2640.8">SST+ GABAergic neurons</text>
<rect x="1401.8" y="2650.1" width="18.6" height="20.3" fill="#C8BC98" stroke="#111" stroke-width="1.3"/>
<text x="1430.3" y="2669.5">RELN+ GABAergic neurons</text>
<rect x="1401.8" y="2678.8" width="18.6" height="20.3" fill="#6CC4E8" stroke="#111" stroke-width="1.3"/>
<text x="1430.3" y="2698.2">GABAergic neurons</text>
<text x="1695.5" y="2299.8" font-weight="bold">Target</text>
<rect x="1692.2" y="2316" width="18.6" height="20.3" fill="#E8A89C" stroke="#111" stroke-width="1.3"/>
<text x="1720.7" y="2335.4">Oligodendrocyte precursor cells</text>
<rect x="1692.2" y="2346.1" width="18.6" height="20.3" fill="#D0E8A0" stroke="#111" stroke-width="1.3"/>
<text x="1720.7" y="2365.5">Microglia</text>
<rect x="1692.2" y="2376.1" width="18.6" height="20.3" fill="#ECB868" stroke="#111" stroke-width="1.3"/>
<text x="1720.7" y="2395.5">Excitatory neurons</text>
<rect x="1692.2" y="2406.2" width="18.6" height="20.3" fill="#D8B0DC" stroke="#111" stroke-width="1.3"/>
<text x="1720.7" y="2425.6">Astrocytes</text>
<rect x="1692.2" y="2436.3" width="18.6" height="20.3" fill="#C8BC98" stroke="#111" stroke-width="1.3"/>
<text x="1720.7" y="2455.7">VIP+ GABAergic neurons</text>
<rect x="1692.2" y="2466.3" width="18.6" height="20.3" fill="#6CC4E8" stroke="#111" stroke-width="1.3"/>
<text x="1720.7" y="2485.8">SST+ GABAergic neurons</text>
<rect x="1692.2" y="2496.4" width="18.6" height="20.3" fill="#98DCB8" stroke="#111" stroke-width="1.3"/>
<text x="1720.7" y="2515.8">RELN+ GABAergic neurons</text>
<rect x="1692.2" y="2526.5" width="18.6" height="20.3" fill="#8080C4" stroke="#111" stroke-width="1.3"/>
<text x="1720.7" y="2545.9">GABAergic neurons</text>
</g>
</svg>
</body></html>
